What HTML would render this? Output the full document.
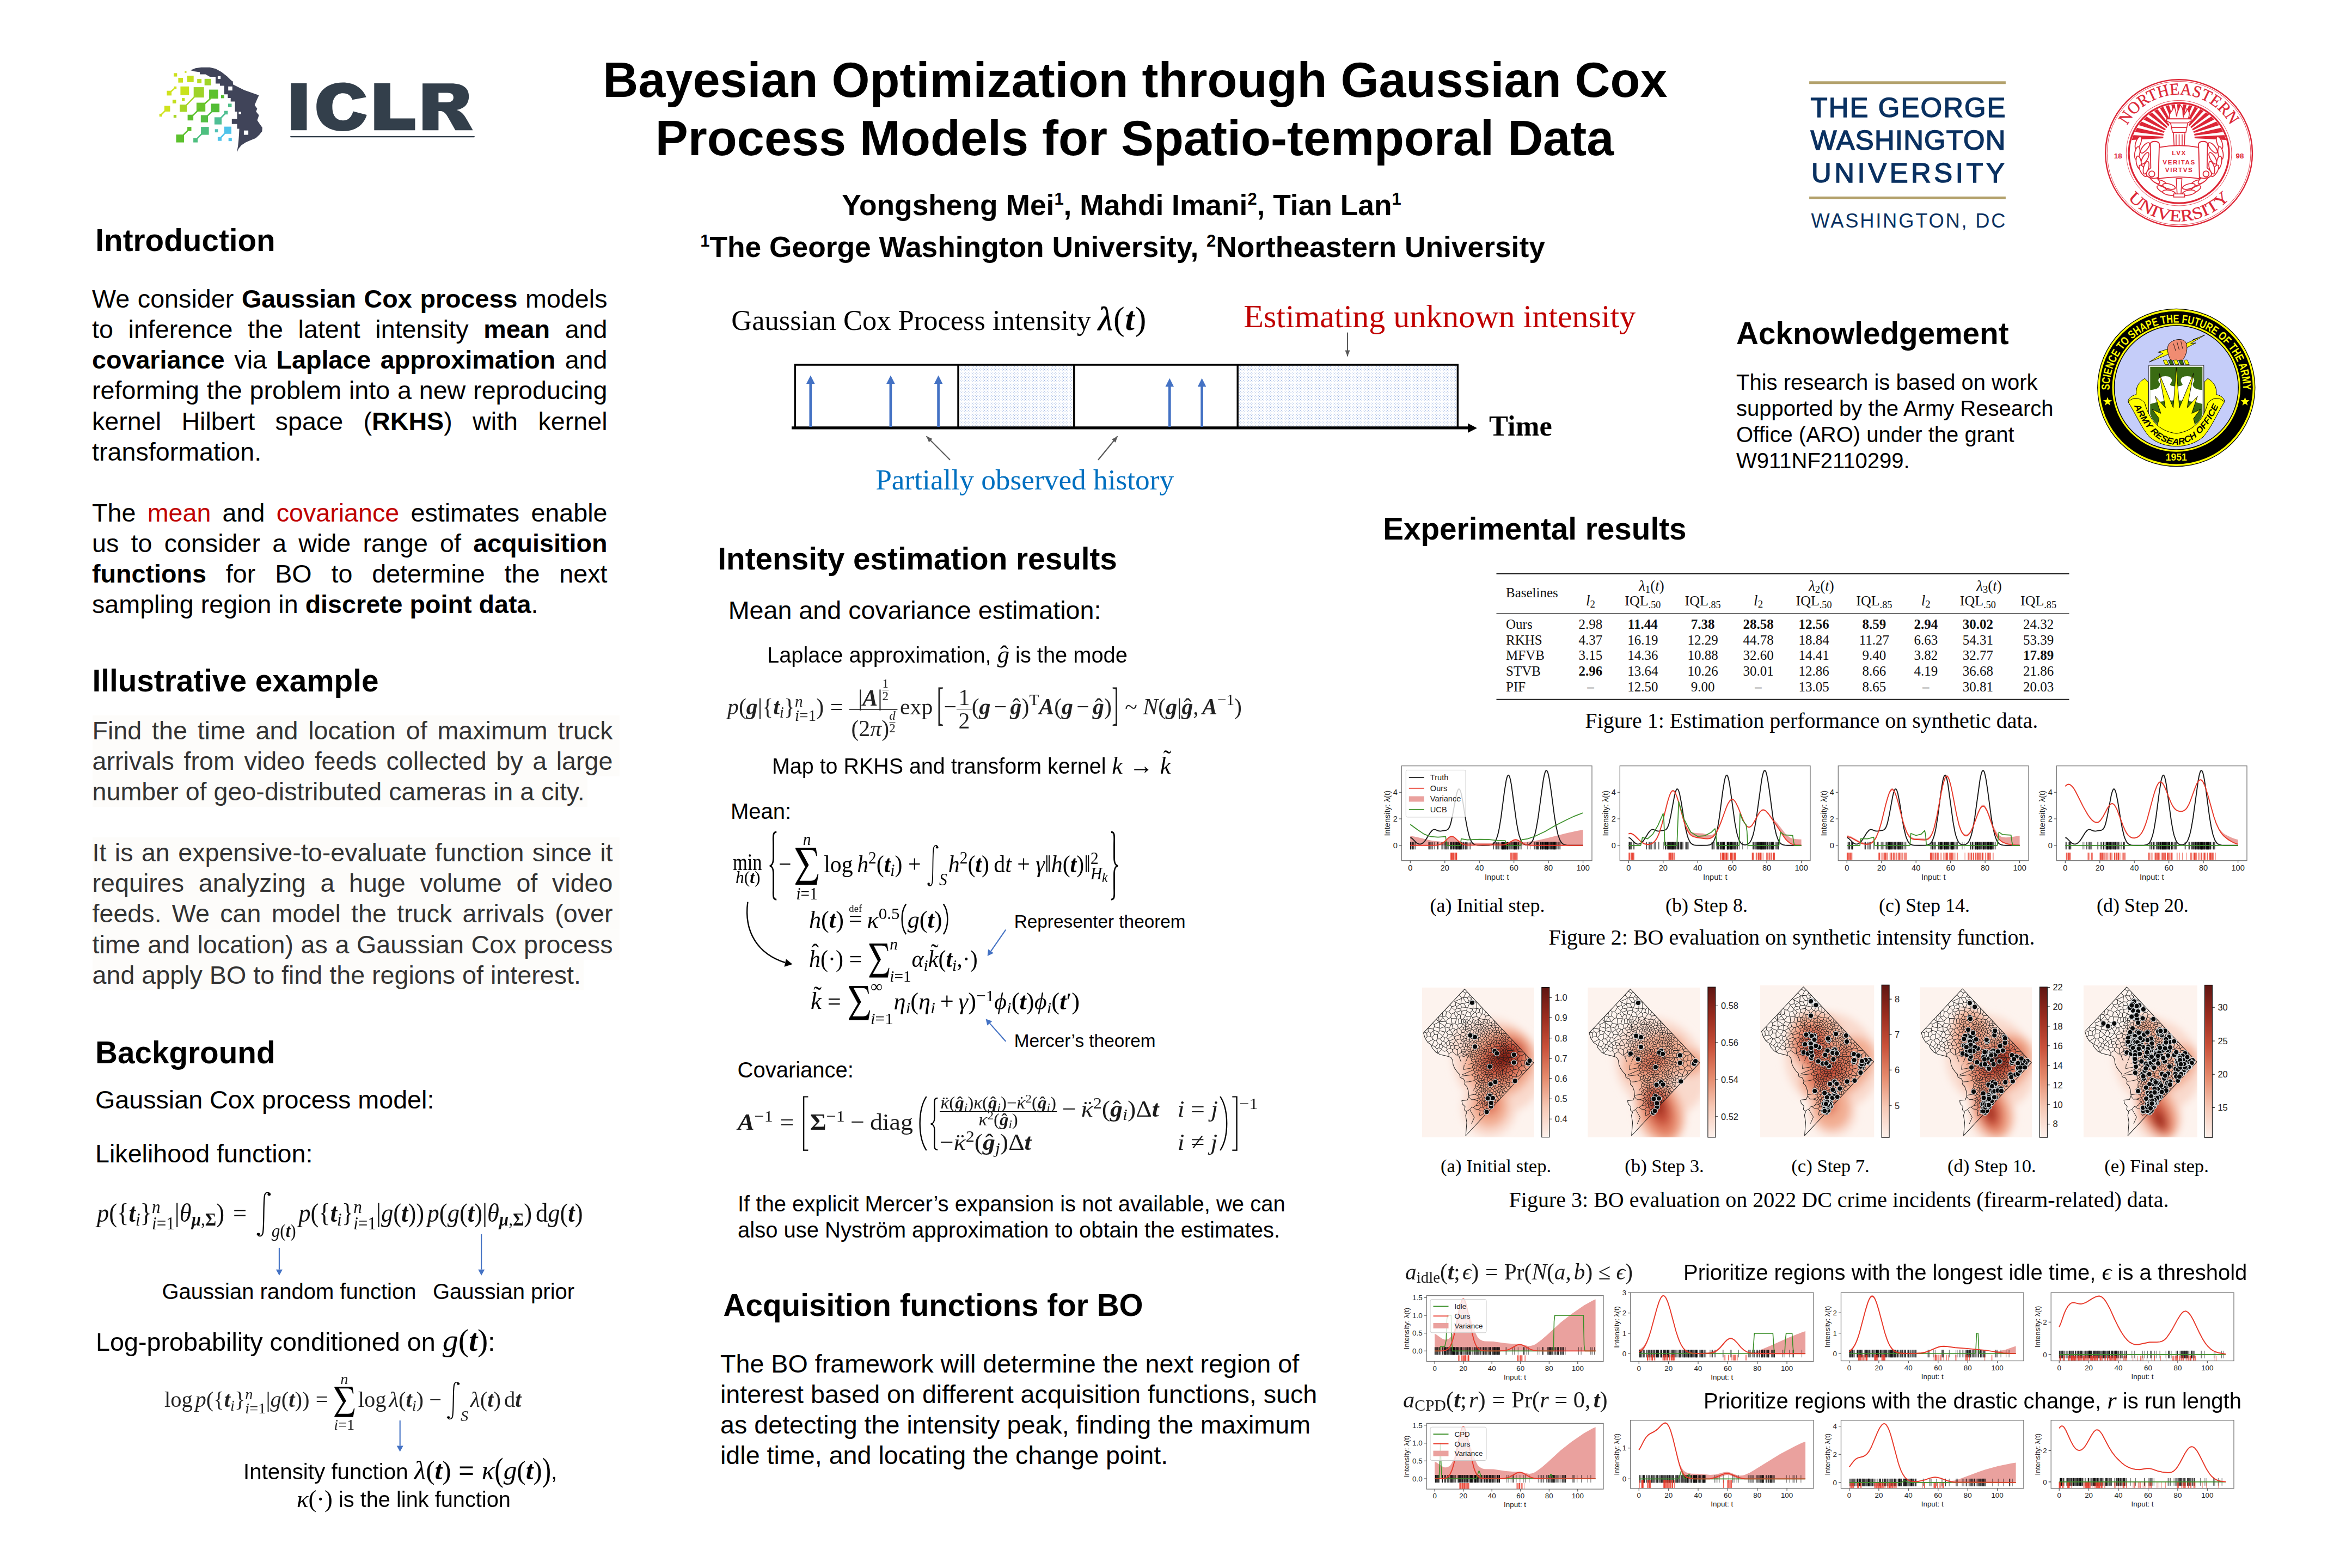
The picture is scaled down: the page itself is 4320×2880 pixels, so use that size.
<!DOCTYPE html>
<html><head><meta charset="utf-8"><title>Bayesian Optimization through Gaussian Cox Process Models for Spatio-temporal Data</title>
<style>
html,body{margin:0;padding:0;background:#fff;}
#p{position:relative;width:4320px;height:2880px;overflow:hidden;background:#fff;font-family:"Liberation Sans",sans-serif;color:#000;}
.t{position:absolute;white-space:nowrap;}
.a{position:absolute;}
svg{position:absolute;overflow:visible;}
b{font-weight:bold;}
.r{color:#c00000;}
.m{font-family:"Liberation Serif",serif;font-style:italic;}
.mb{font-family:"Liberation Serif",serif;font-style:italic;font-weight:bold;}
.mr{font-family:"Liberation Serif",serif;font-style:normal;}
sup,sub{line-height:0;}
.bl{display:inline-block;width:0;height:0;}
svg.il{position:static;display:inline-block;overflow:visible;}
</style></head><body><div id="p">
<div class="t " style="left:885.0px;top:92.8px;font-size:90.00px;line-height:108.00px;font-weight:bold;width:2400.0px;text-align:center;">Bayesian Optimization through Gaussian Cox</div>
<div class="t " style="left:884.0px;top:199.8px;font-size:90.00px;line-height:108.00px;font-weight:bold;width:2400.0px;text-align:center;">Process Models for Spatio-temporal Data</div>
<div class="t " style="left:860.0px;top:345.3px;font-size:53.33px;line-height:64.00px;font-weight:bold;width:2400.0px;text-align:center;">Yongsheng Mei<sup style="font-size:58%;vertical-align:0.62em">1</sup>, Mahdi Imani<sup style="font-size:58%;vertical-align:0.62em">2</sup>, Tian Lan<sup style="font-size:58%;vertical-align:0.62em">1</sup></div>
<div class="t " style="left:862.0px;top:422.0px;font-size:53.33px;line-height:64.00px;font-weight:bold;width:2400.0px;text-align:center;"><sup style="font-size:58%;vertical-align:0.62em">1</sup>The George Washington University, <sup style="font-size:58%;vertical-align:0.62em">2</sup>Northeastern University</div>
<div class="t " style="left:175.3px;top:407.6px;font-size:56.67px;line-height:68.00px;font-weight:bold;">Introduction</div>
<div class="t " style="left:169.0px;top:521.1px;font-size:46.67px;line-height:56.10px;width:946.5px;text-align:justify;text-align-last:justify;">We consider <b>Gaussian Cox process</b> models</div>
<div class="t " style="left:169.0px;top:577.2px;font-size:46.67px;line-height:56.10px;width:946.5px;text-align:justify;text-align-last:justify;">to inference the latent intensity <b>mean</b> and</div>
<div class="t " style="left:169.0px;top:633.3px;font-size:46.67px;line-height:56.10px;width:946.5px;text-align:justify;text-align-last:justify;"><b>covariance</b> via <b>Laplace approximation</b> and</div>
<div class="t " style="left:169.0px;top:689.4px;font-size:46.67px;line-height:56.10px;width:946.5px;text-align:justify;text-align-last:justify;">reforming the problem into a new reproducing</div>
<div class="t " style="left:169.0px;top:745.5px;font-size:46.67px;line-height:56.10px;width:946.5px;text-align:justify;text-align-last:justify;">kernel Hilbert space (<b>RKHS</b>) with kernel</div>
<div class="t " style="left:169.0px;top:801.6px;font-size:46.67px;line-height:56.10px;">transformation.</div>
<div class="t " style="left:169.0px;top:913.8px;font-size:46.67px;line-height:56.10px;width:946.5px;text-align:justify;text-align-last:justify;">The <span class="r">mean</span> and <span class="r">covariance</span> estimates enable</div>
<div class="t " style="left:169.0px;top:969.9px;font-size:46.67px;line-height:56.10px;width:946.5px;text-align:justify;text-align-last:justify;">us to consider a wide range of <b>acquisition</b></div>
<div class="t " style="left:169.0px;top:1026.0px;font-size:46.67px;line-height:56.10px;width:946.5px;text-align:justify;text-align-last:justify;"><b>functions</b> for BO to determine the next</div>
<div class="t " style="left:169.0px;top:1082.1px;font-size:46.67px;line-height:56.10px;">sampling region in <b>discrete point data</b>.</div>
<div class="t " style="left:169.5px;top:1216.6px;font-size:56.67px;line-height:68.00px;font-weight:bold;">Illustrative example</div>
<div class="t " style="left:169.5px;top:1313.8px;font-size:46.67px;line-height:56.10px;color:#333333;width:956.0px;text-align:justify;text-align-last:justify;background:#fdfcfa;padding-right:12px;">Find the time and location of maximum truck</div>
<div class="t " style="left:169.5px;top:1369.9px;font-size:46.67px;line-height:56.10px;color:#333333;width:956.0px;text-align:justify;text-align-last:justify;background:#fdfcfa;padding-right:12px;">arrivals from video feeds collected by a large</div>
<div class="t " style="left:169.5px;top:1426.0px;font-size:46.67px;line-height:56.10px;color:#333333;background:#fdfcfa;padding-right:5px;">number of geo-distributed cameras in a city.</div>
<div class="t " style="left:169.5px;top:1538.2px;font-size:46.67px;line-height:56.10px;color:#333333;width:956.0px;text-align:justify;text-align-last:justify;background:#fdfcfa;padding-right:12px;">It is an expensive-to-evaluate function since it</div>
<div class="t " style="left:169.5px;top:1594.3px;font-size:46.67px;line-height:56.10px;color:#333333;width:956.0px;text-align:justify;text-align-last:justify;background:#fdfcfa;padding-right:12px;">requires analyzing a huge volume of video</div>
<div class="t " style="left:169.5px;top:1650.4px;font-size:46.67px;line-height:56.10px;color:#333333;width:956.0px;text-align:justify;text-align-last:justify;background:#fdfcfa;padding-right:12px;">feeds. We can model the truck arrivals (over</div>
<div class="t " style="left:169.5px;top:1706.5px;font-size:46.67px;line-height:56.10px;color:#333333;width:956.0px;text-align:justify;text-align-last:justify;background:#fdfcfa;padding-right:12px;">time and location) as a Gaussian Cox process</div>
<div class="t " style="left:169.5px;top:1762.6px;font-size:46.67px;line-height:56.10px;color:#333333;background:#fdfcfa;padding-right:5px;">and apply BO to find the regions of interest.</div>
<div class="t " style="left:175.0px;top:1900.4px;font-size:56.67px;line-height:68.00px;font-weight:bold;">Background</div>
<div class="t " style="left:175.0px;top:1992.4px;font-size:46.67px;line-height:56.00px;">Gaussian Cox process model:</div>
<div class="t " style="left:175.0px;top:2091.3px;font-size:46.67px;line-height:56.00px;">Likelihood function:</div>
<div class="t " style="left:297.5px;top:2347.9px;font-size:40.00px;line-height:48.00px;">Gaussian random function</div>
<div class="t " style="left:795.0px;top:2347.9px;font-size:40.00px;line-height:48.00px;">Gaussian prior</div>
<div class="t " style="left:1318.3px;top:993.1px;font-size:56.67px;line-height:68.00px;font-weight:bold;">Intensity estimation results</div>
<div class="t " style="left:1337.7px;top:1092.8px;font-size:46.67px;line-height:56.00px;">Mean and covariance estimation:</div>
<div class="t " style="left:1342.0px;top:1465.5px;font-size:40.00px;line-height:48.00px;">Mean:</div>
<div class="t " style="left:1862.7px;top:1672.5px;font-size:33.33px;line-height:40.00px;">Representer theorem</div>
<div class="t " style="left:1862.7px;top:1892.0px;font-size:33.33px;line-height:40.00px;">Mercer’s theorem</div>
<div class="t " style="left:1354.5px;top:1941.1px;font-size:40.00px;line-height:48.00px;">Covariance:</div>
<div class="t " style="left:1355.0px;top:2187.1px;font-size:40.00px;line-height:48.00px;">If the explicit Mercer’s expansion is not available, we can</div>
<div class="t " style="left:1355.0px;top:2235.4px;font-size:40.00px;line-height:48.00px;">also use Nyström approximation to obtain the estimates.</div>
<div class="t " style="left:1328.5px;top:2363.9px;font-size:56.67px;line-height:68.00px;font-weight:bold;">Acquisition functions for BO</div>
<div class="t " style="left:1323.0px;top:2476.8px;font-size:46.67px;line-height:56.10px;">The BO framework will determine the next region of</div>
<div class="t " style="left:1323.0px;top:2532.9px;font-size:46.67px;line-height:56.10px;">interest based on different acquisition functions, such</div>
<div class="t " style="left:1323.0px;top:2589.0px;font-size:46.67px;line-height:56.10px;">as detecting the intensity peak, finding the maximum</div>
<div class="t " style="left:1323.0px;top:2645.1px;font-size:46.67px;line-height:56.10px;">idle time, and locating the change point.</div>
<div class="t " style="left:3189.0px;top:579.3px;font-size:56.67px;line-height:68.00px;font-weight:bold;">Acknowledgement</div>
<div class="t " style="left:3189.0px;top:677.7px;font-size:40.00px;line-height:48.20px;">This research is based on work</div>
<div class="t " style="left:3189.0px;top:725.9px;font-size:40.00px;line-height:48.20px;">supported by the Army Research</div>
<div class="t " style="left:3189.0px;top:774.1px;font-size:40.00px;line-height:48.20px;">Office (ARO) under the grant</div>
<div class="t " style="left:3189.0px;top:822.3px;font-size:40.00px;line-height:48.20px;">W911NF2110299.</div>
<div class="t " style="left:2540.2px;top:938.4px;font-size:56.67px;line-height:68.00px;font-weight:bold;">Experimental results</div>
<div class="t " style="left:1343.3px;top:553.6px;font-size:52.50px;line-height:63.00px;font-family:'Liberation Serif', serif;">Gaussian Cox Process intensity <span style="font-size:62px;letter-spacing:1px"><span class="mb" style="font-weight:normal;-webkit-text-stroke:0.8px #000">λ</span>(<span class="mb">t</span>)</span></div>
<div class="t " style="left:2284.3px;top:545.0px;font-size:60.00px;line-height:72.00px;font-family:'Liberation Serif', serif;color:#c00000;">Estimating unknown intensity</div>
<div class="t " style="left:1608.2px;top:849.4px;font-size:53.33px;line-height:64.00px;font-family:'Liberation Serif', serif;color:#0070c0;">Partially observed history</div>
<div class="t " style="left:2735.0px;top:751.3px;font-size:52.50px;line-height:63.00px;font-family:'Liberation Serif', serif;font-weight:bold;">Time</div>
<svg style="left:0;top:0" width="4320" height="2880" viewBox="0 0 4320 2880"><defs><pattern id="dots" width="5" height="5" patternUnits="userSpaceOnUse"><rect width="5" height="5" fill="#fff"/><rect x="0.6" y="0.6" width="1.05" height="1.05" fill="#6a8fd6"/><rect x="3.1" y="3.1" width="1.05" height="1.05" fill="#6a8fd6"/></pattern><marker id="ahb" markerWidth="8" markerHeight="8" refX="4" refY="4" orient="auto"><path d="M0,0 L8,4 L0,8 z" fill="#4472c4"/></marker></defs><rect x="1760" y="670" width="213.6" height="115" fill="url(#dots)"/><rect x="2272.5" y="670" width="405" height="115" fill="url(#dots)"/><path d="M1460.3,786 V670 H2677.4 V786 M1760,670 V786 M1972.8,670 V786 M2273.2,670 V786" fill="none" stroke="#000" stroke-width="3.4"/><path d="M1454,785.9 H2700" stroke="#000" stroke-width="5.1" fill="none"/><path d="M2696,777.5 L2713,786.3 L2696,795 z" fill="#000"/><path d="M1488.8,784 V701.5" stroke="#4472c4" stroke-width="4.7" fill="none"/><path d="M1481.0,704.9 L1488.8,689.5 L1496.6,704.9 z" fill="#4472c4"/><path d="M1635.9,784 V701.5" stroke="#4472c4" stroke-width="4.7" fill="none"/><path d="M1628.1000000000001,704.9 L1635.9,689.5 L1643.7,704.9 z" fill="#4472c4"/><path d="M1723.6,784 V701.5" stroke="#4472c4" stroke-width="4.7" fill="none"/><path d="M1715.8,704.9 L1723.6,689.5 L1731.3999999999999,704.9 z" fill="#4472c4"/><path d="M2148.3,784 V706.8" stroke="#4472c4" stroke-width="4.7" fill="none"/><path d="M2140.5,710.1999999999999 L2148.3,694.8 L2156.1000000000004,710.1999999999999 z" fill="#4472c4"/><path d="M2207.6,784 V706.8" stroke="#4472c4" stroke-width="4.7" fill="none"/><path d="M2199.7999999999997,710.1999999999999 L2207.6,694.8 L2215.4,710.1999999999999 z" fill="#4472c4"/><path d="M2475.0,610.7 L2475.0,654.5" stroke="#595959" stroke-width="2.2" fill="none"/><path d="M2475.0,654.5 L2470.5,643.4 L2479.5,643.4 z" fill="#595959"/><path d="M1745.0,844.8 L1701.5,801.3" stroke="#595959" stroke-width="2.2" fill="none"/><path d="M1701.5,801.3 L1712.5,806.0 L1706.2,812.3 z" fill="#595959"/><path d="M2017.0,844.8 L2052.6,801.3" stroke="#595959" stroke-width="2.2" fill="none"/><path d="M2052.6,801.3 L2049.0,812.7 L2042.1,807.1 z" fill="#595959"/></svg>
<div class="t" id="f1" style="left:178.0px;top:2187.9px;font-size:47.5px;font-family:'Liberation Serif', serif;color:#111;transform-origin:0 0;transform:scaleX(0.9380);line-height:1.2"><span class="bl"></span><span class="m">p</span><span class="mr">(</span><span class="mr">{</span><span class="mb">t</span><span style="font-size:70%;vertical-align:-0.22em;line-height:0"><span class="m">i</span></span><span class="mr">}</span><span style="display:inline-block;font-size:70%;vertical-align:-0.42em;line-height:0.9;text-align:left"><span style="display:block"><span class="m">n</span></span><span style="display:block"><span class="m">i</span><span class="mr">=1</span></span></span><span class="mr">|</span><span class="m">θ</span><span style="font-size:70%;vertical-align:-0.22em;line-height:0"><span class="mb">μ</span><span class="mr">,</span><span class="mr" style="font-weight:bold">Σ</span></span><span class="mr">)</span><span style="display:inline-block;width:0.36em"></span><span class="mr">=</span><span style="display:inline-block;width:0.36em"></span><svg class="il" style="width:0.66em;height:1.78em;vertical-align:-0.6em" viewBox="0 0 40 140" preserveAspectRatio="none"><path d="M35,9 C33,1 24,1 22,14 C19,40 21,100 18,126 C16,139 7,139 5,131" stroke="#000" stroke-width="3" fill="none"/><circle cx="33.5" cy="9.5" r="4"/><circle cx="6.5" cy="130.5" r="4"/></svg><span style="font-size:70%;vertical-align:-0.85em;line-height:0"><span class="m">g</span><span class="mr">(</span><span class="mb">t</span><span class="mr">)</span></span><span style="display:inline-block;width:0.1em"></span><span class="m">p</span><span class="mr">(</span><span class="mr">{</span><span class="mb">t</span><span style="font-size:70%;vertical-align:-0.22em;line-height:0"><span class="m">i</span></span><span class="mr">}</span><span style="display:inline-block;font-size:70%;vertical-align:-0.42em;line-height:0.9;text-align:left"><span style="display:block"><span class="m">n</span></span><span style="display:block"><span class="m">i</span><span class="mr">=1</span></span></span><span class="mr">|</span><span class="m">g</span><span class="mr">(</span><span class="mb">t</span><span class="mr">)</span><span class="mr">)</span><span style="display:inline-block;width:0.12em"></span><span class="m">p</span><span class="mr">(</span><span class="m">g</span><span class="mr">(</span><span class="mb">t</span><span class="mr">)</span><span class="mr">|</span><span class="m">θ</span><span style="font-size:70%;vertical-align:-0.22em;line-height:0"><span class="mb">μ</span><span class="mr">,</span><span class="mr" style="font-weight:bold">Σ</span></span><span class="mr">)</span><span style="display:inline-block;width:0.15em"></span><span class="mr">d</span><span class="m">g</span><span class="mr">(</span><span class="mb">t</span><span class="mr">)</span></div>
<div class="t" id="f2" style="left:301.9px;top:2518.5px;font-size:40px;font-family:'Liberation Serif', serif;color:#222;transform-origin:0 0;transform:scaleX(1.0123);line-height:1.2"><span class="bl"></span><span class="mr">log</span><span style="display:inline-block;width:0.12em"></span><span class="m">p</span><span class="mr">(</span><span class="mr">{</span><span class="mb">t</span><span style="font-size:70%;vertical-align:-0.22em;line-height:0"><span class="m">i</span></span><span class="mr">}</span><span style="display:inline-block;font-size:70%;vertical-align:-0.42em;line-height:0.9;text-align:left"><span style="display:block"><span class="m">n</span></span><span style="display:block"><span class="m">i</span><span class="mr">=1</span></span></span><span class="mr">|</span><span class="m">g</span><span class="mr">(</span><span class="mb">t</span><span class="mr">)</span><span class="mr">)</span><span style="display:inline-block;width:0.28em"></span><span class="mr">=</span><span style="display:inline-block;width:0.22em"></span><span style="display:inline-block;text-align:center;vertical-align:middle;line-height:1"><span style="display:block;font-size:70%;line-height:1;margin-bottom:0.0em"><span class="m">n</span></span><span style="display:block;line-height:0"><svg class="il" style="width:1.0230000000000001em;height:1.395em;vertical-align:0em" viewBox="0 0 100 120" preserveAspectRatio="none"><path d="M6,0 H86 L91,27 H87 C84,12 78,7 62,7 H26 L58,56 L22,107 H66 C82,107 88,100 92,86 H96 L89,120 H6 V116 L44,62 L6,4 Z"/></svg></span><span style="display:block;font-size:70%;line-height:1;margin-top:0.02em"><span class="m">i</span><span class="mr">=1</span></span></span><span style="display:inline-block;width:0.12em"></span><span class="mr">log</span><span style="display:inline-block;width:0.12em"></span><span class="m">λ</span><span class="mr">(</span><span class="mb">t</span><span style="font-size:70%;vertical-align:-0.22em;line-height:0"><span class="m">i</span></span><span class="mr">)</span><span style="display:inline-block;width:0.25em"></span><span class="mr">−</span><span style="display:inline-block;width:0.2em"></span><svg class="il" style="width:0.66em;height:1.78em;vertical-align:-0.6em" viewBox="0 0 40 140" preserveAspectRatio="none"><path d="M35,9 C33,1 24,1 22,14 C19,40 21,100 18,126 C16,139 7,139 5,131" stroke="#000" stroke-width="3" fill="none"/><circle cx="33.5" cy="9.5" r="4"/><circle cx="6.5" cy="130.5" r="4"/></svg><span style="font-size:70%;vertical-align:-0.9em;line-height:0"><span class="m">S</span></span><span style="display:inline-block;width:0.1em"></span><span class="m">λ</span><span class="mr">(</span><span class="mb">t</span><span class="mr">)</span><span style="display:inline-block;width:0.15em"></span><span class="mr">d</span><span class="mb">t</span></div>
<div class="t" id="l1" style="left:176.0px;top:2427.2px;font-size:46.67px;color:#000;transform-origin:0 0;transform:scaleX(1.0018);line-height:1.2"><span class="bl"></span>Log-probability conditioned on <span style="font-size:124%"><span class="m">g</span><span class="mr">(</span><span class="mb">t</span><span class="mr">)</span></span>:</div>
<div class="t" id="l2" style="left:447.0px;top:2671.0px;font-size:40px;color:#000;transform-origin:0 0;transform:scaleX(1.0082);line-height:1.2"><span class="bl"></span>Intensity function <span style="font-size:122%"><span class="m">λ</span><span class="mr">(</span><span class="mb">t</span><span class="mr">)</span> = <span class="m">κ</span><span class="mr" style="display:inline-block;transform:scale(1,1.25);transform-origin:50% 58%;vertical-align:0em">(</span><span class="m">g</span><span class="mr">(</span><span class="mb">t</span><span class="mr">)</span><span class="mr" style="display:inline-block;transform:scale(1,1.25);transform-origin:50% 58%;vertical-align:0em">)</span></span>,</div>
<div class="t" id="l3" style="left:544.5px;top:2725.7px;font-size:40px;color:#000;transform-origin:0 0;transform:scaleX(0.9938);line-height:1.2"><span class="bl"></span><span style="font-size:112%"><span class="m">κ</span><span class="mr">(·)</span></span> is the link function</div>
<div class="t" id="l4" style="left:1408.6px;top:1174.6px;font-size:40px;color:#000;transform-origin:0 0;transform:scaleX(0.9952);line-height:1.2"><span class="bl"></span>Laplace approximation, <span style="font-size:112%"><span style="position:relative;display:inline-block"><span class="m">g</span><span class="mr" style="position:absolute;left:0.12em;top:0em;font-size:100%;font-weight:normal">ˆ</span></span></span> is the mode</div>
<div class="t" id="l5" style="left:1417.8px;top:1378.7px;font-size:40px;color:#000;transform-origin:0 0;transform:scaleX(0.9854);line-height:1.2"><span class="bl"></span>Map to RKHS and transform kernel <span style="font-size:112%"><span class="m">k</span> → <span style="position:relative;display:inline-block"><span class="m">k</span><span class="mr" style="position:absolute;left:0.14em;top:-0.27em;font-size:100%;font-weight:normal">˜</span></span></span></div>
<div class="t" id="f3" style="left:1336.0px;top:1245.4px;font-size:42px;font-family:'Liberation Serif', serif;color:#222;transform-origin:0 0;transform:scaleX(0.9950);line-height:1.2"><span class="bl"></span><span class="m">p</span><span class="mr">(</span><span class="mb">g</span><span class="mr">|{</span><span class="mb">t</span><span style="font-size:70%;vertical-align:-0.22em;line-height:0"><span class="m">i</span></span><span class="mr">}</span><span style="display:inline-block;font-size:70%;vertical-align:-0.42em;line-height:0.9;text-align:left"><span style="display:block"><span class="m">n</span></span><span style="display:block"><span class="m">i</span><span class="mr">=1</span></span></span><span class="mr">)</span><span style="display:inline-block;width:0.28em"></span><span class="mr">=</span><span style="display:inline-block;width:0.28em"></span><span style="display:inline-block;text-align:center;vertical-align:middle;font-size:100%;line-height:1.0"><span style="display:block;padding:0 0.08em"><span class="mr">|</span><span class="mb">A</span><span class="mr">|</span><span style="display:inline-block;font-size:55%;vertical-align:0.42em;line-height:0.95;text-align:center"><span style="display:block;border-bottom:0.06em solid #000">1</span><span style="display:block">2</span></span></span><span style="display:block;border-top:0.045em solid #000;padding:0 0.08em"><span class="mr">(2</span><span class="m">π</span><span class="mr">)</span><span style="display:inline-block;font-size:55%;vertical-align:0.32em;line-height:0.95;text-align:center"><span class="m" style="display:block;border-bottom:0.06em solid #000">d</span><span style="display:block">2</span></span></span></span><span style="display:inline-block;width:0.12em"></span><span class="mr">exp</span><span style="display:inline-block;width:0.15em"></span><span class="mr" style="display:inline-block;transform:scale(0.9,2.0);transform-origin:50% 58%;vertical-align:0em">[</span><span class="mr">−</span><span style="display:inline-block;text-align:center;vertical-align:middle;font-size:100%;line-height:1.0"><span style="display:block;padding:0 0.08em"><span class="mr">1</span></span><span style="display:block;border-top:0.045em solid #000;padding:0 0.08em"><span class="mr">2</span></span></span><span class="mr">(</span><span class="mb">g</span><span style="display:inline-block;width:0.15em"></span><span class="mr">−</span><span style="display:inline-block;width:0.15em"></span><span style="position:relative;display:inline-block"><span class="mb">g</span><span class="mr" style="position:absolute;left:0.1em;top:0em;font-size:100%;font-weight:normal">ˆ</span></span><span class="mr">)</span><span style="font-size:70%;vertical-align:0.55em;line-height:0"><span class="mr">T</span></span><span class="mb">A</span><span class="mr">(</span><span class="mb">g</span><span style="display:inline-block;width:0.15em"></span><span class="mr">−</span><span style="display:inline-block;width:0.15em"></span><span style="position:relative;display:inline-block"><span class="mb">g</span><span class="mr" style="position:absolute;left:0.1em;top:0em;font-size:100%;font-weight:normal">ˆ</span></span><span class="mr">)</span><span class="mr" style="display:inline-block;transform:scale(0.9,2.0);transform-origin:50% 58%;vertical-align:0em">]</span><span style="display:inline-block;width:0.25em"></span><span class="mr">~</span><span style="display:inline-block;width:0.25em"></span><span class="m">N</span><span class="mr">(</span><span class="mb">g</span><span class="mr">|</span><span style="position:relative;display:inline-block"><span class="mb">g</span><span class="mr" style="position:absolute;left:0.1em;top:0em;font-size:100%;font-weight:normal">ˆ</span></span><span class="mr">,</span><span style="display:inline-block;width:0.15em"></span><span class="mb">A</span><span style="font-size:70%;vertical-align:0.55em;line-height:0"><span class="mr">−1</span></span><span class="mr">)</span></div>
<div class="t" id="f4m" style="left:1346.3px;top:1558.0px;font-size:44px;font-family:'Liberation Serif', serif;color:#000;transform-origin:0 0;transform:scaleX(0.7830);line-height:1.2"><span class="bl"></span><span class="mr">min</span></div>
<div class="t" id="f4h" style="left:1351.0px;top:1593.4px;font-size:31px;font-family:'Liberation Serif', serif;color:#000;transform-origin:0 0;transform:scaleX(1.0161);line-height:1.2"><span class="bl"></span><span class="m">h</span><span class="mr">(</span><span class="mb">t</span><span class="mr">)</span></div>
<svg style="left:1411.0px;top:1526.5px" width="19.0" height="126.5" viewBox="0 0 20 100" preserveAspectRatio="none"><path d="M16,1 C8,1 10,8 10,20 V38 C10,46 8,49.2 3,50 C8,50.8 10,54 10,62 V80 C10,92 8,99 16,99" stroke="#000" stroke-width="2.8" fill="none" vector-effect="non-scaling-stroke"/></svg>
<svg style="left:2037.0px;top:1526.5px" width="19.0" height="126.5" viewBox="0 0 20 100" preserveAspectRatio="none"><path d="M4,1 C12,1 10,8 10,20 V38 C10,46 12,49.2 17,50 C12,50.8 10,54 10,62 V80 C10,92 12,99 4,99" stroke="#000" stroke-width="2.8" fill="none" vector-effect="non-scaling-stroke"/></svg>
<div class="t" id="f4" style="left:1429.5px;top:1525.8px;font-size:44.5px;font-family:'Liberation Serif', serif;color:#000;transform-origin:0 0;transform:scaleX(0.9409);line-height:1.2"><span class="bl"></span><span class="mr">−</span><span style="display:inline-block;width:0.12em"></span><span style="display:inline-block;text-align:center;vertical-align:middle;line-height:1"><span style="display:block;font-size:70%;line-height:1;margin-bottom:0.0em"><span class="m">n</span></span><span style="display:block;line-height:0"><svg class="il" style="width:1.122em;height:1.53em;vertical-align:0em" viewBox="0 0 100 120" preserveAspectRatio="none"><path d="M6,0 H86 L91,27 H87 C84,12 78,7 62,7 H26 L58,56 L22,107 H66 C82,107 88,100 92,86 H96 L89,120 H6 V116 L44,62 L6,4 Z"/></svg></span><span style="display:block;font-size:70%;line-height:1;margin-top:0.02em"><span class="m">i</span><span class="mr">=1</span></span></span><span style="display:inline-block;width:0.18em"></span><span class="mr">log</span><span style="display:inline-block;width:0.18em"></span><span class="m">h</span><span style="font-size:70%;vertical-align:0.5em;line-height:0"><span class="mr">2</span></span><span class="mr">(</span><span class="mb">t</span><span style="font-size:70%;vertical-align:-0.22em;line-height:0"><span class="m">i</span></span><span class="mr">)</span><span style="display:inline-block;width:0.25em"></span><span class="mr">+</span><span style="display:inline-block;width:0.25em"></span><svg class="il" style="width:0.55em;height:1.75em;vertical-align:-0.62em" viewBox="0 0 40 140" preserveAspectRatio="none"><path d="M35,9 C33,1 24,1 22,14 C19,40 21,100 18,126 C16,139 7,139 5,131" stroke="#000" stroke-width="3" fill="none"/><circle cx="33.5" cy="9.5" r="4"/><circle cx="6.5" cy="130.5" r="4"/></svg><span style="font-size:70%;vertical-align:-0.78em;line-height:0"><span class="m">S</span></span><span style="display:inline-block;width:0.05em"></span><span class="m">h</span><span style="font-size:70%;vertical-align:0.5em;line-height:0"><span class="mr">2</span></span><span class="mr">(</span><span class="mb">t</span><span class="mr">)</span><span style="display:inline-block;width:0.2em"></span><span class="mr">d</span><span class="m">t</span><span style="display:inline-block;width:0.25em"></span><span class="mr">+</span><span style="display:inline-block;width:0.25em"></span><span class="m">γ</span><span class="mr">‖</span><span class="m">h</span><span class="mr">(</span><span class="mb">t</span><span class="mr">)</span><span class="mr">‖</span><span style="display:inline-block;font-size:70%;vertical-align:-0.42em;line-height:0.9;text-align:left"><span style="display:block"><span class="mr">2</span></span><span style="display:block"><span class="m">H</span><span style="font-size:80%;vertical-align:-0.2em;line-height:0"><span class="m">k</span></span></span></span></div>
<div class="t" id="f5" style="left:1485.6px;top:1659.5px;font-size:43.5px;font-family:'Liberation Serif', serif;color:#000;transform-origin:0 0;transform:scaleX(1.0171);line-height:1.2"><span class="bl"></span><span class="m">h</span><span class="mr">(</span><span class="mb">t</span><span class="mr">)</span><span style="display:inline-block;width:0.2em"></span><span style="display:inline-block;text-align:center;line-height:0.5;vertical-align:0.02em"><span class="mr" style="display:block;font-size:42%;line-height:1">def</span><span class="mr" style="display:block;line-height:0.42">=</span></span><span style="display:inline-block;width:0.2em"></span><span class="m">κ</span><span style="font-size:70%;vertical-align:0.5em;line-height:0"><span class="mr">0.5</span></span><svg class="il" style="width:0.32em;height:1.3em;vertical-align:-0.3em" viewBox="0 0 20 100" preserveAspectRatio="none"><path d="M16,1 C2,25 2,75 16,99" stroke="#000" stroke-width="2.4" fill="none" vector-effect="non-scaling-stroke"/></svg><span class="m">g</span><span class="mr">(</span><span class="mb">t</span><span class="mr">)</span><svg class="il" style="width:0.32em;height:1.3em;vertical-align:-0.3em" viewBox="0 0 20 100" preserveAspectRatio="none"><path d="M4,1 C18,25 18,75 4,99" stroke="#000" stroke-width="2.4" fill="none" vector-effect="non-scaling-stroke"/></svg></div>
<div class="t" id="f6" style="left:1485.6px;top:1705.0px;font-size:43.5px;font-family:'Liberation Serif', serif;color:#000;transform-origin:0 0;transform:scaleX(0.9654);line-height:1.2"><span class="bl"></span><span style="position:relative;display:inline-block"><span class="m">h</span><span class="mr" style="position:absolute;left:0.1em;top:-0.27em;font-size:100%;font-weight:normal">ˆ</span></span><span class="mr">(·)</span><span style="display:inline-block;width:0.25em"></span><span class="mr">=</span><span style="display:inline-block;width:0.25em"></span><svg class="il" style="width:0.9800000000000001em;height:1.4349999999999998em;vertical-align:-0.45em" viewBox="0 0 100 120" preserveAspectRatio="none"><path d="M6,0 H86 L91,27 H87 C84,12 78,7 62,7 H26 L58,56 L22,107 H66 C82,107 88,100 92,86 H96 L89,120 H6 V116 L44,62 L6,4 Z"/></svg><span style="display:inline-block;font-size:70%;vertical-align:-0.9em;line-height:1.95;text-align:left;margin-left:-0.02em"><span style="display:block"><span class="m">n</span></span><span style="display:block"><span class="m">i</span><span class="mr">=1</span></span></span><span style="display:inline-block;width:0.02em"></span><span class="m">α</span><span style="font-size:70%;vertical-align:-0.22em;line-height:0"><span class="m">i</span></span><span style="position:relative;display:inline-block"><span class="m">k</span><span class="mr" style="position:absolute;left:0.12em;top:-0.27em;font-size:100%;font-weight:normal">˜</span></span><span class="mr">(</span><span class="mb">t</span><span style="font-size:70%;vertical-align:-0.22em;line-height:0"><span class="m">i</span></span><span class="mr">,·)</span></div>
<div class="t" id="f7" style="left:1489.0px;top:1782.5px;font-size:43.5px;font-family:'Liberation Serif', serif;color:#000;transform-origin:0 0;transform:scaleX(1.0215);line-height:1.2"><span class="bl"></span><span style="position:relative;display:inline-block"><span class="m">k</span><span class="mr" style="position:absolute;left:0.12em;top:-0.27em;font-size:100%;font-weight:normal">˜</span></span><span style="display:inline-block;width:0.25em"></span><span class="mr">=</span><span style="display:inline-block;width:0.25em"></span><svg class="il" style="width:0.9800000000000001em;height:1.4349999999999998em;vertical-align:-0.45em" viewBox="0 0 100 120" preserveAspectRatio="none"><path d="M6,0 H86 L91,27 H87 C84,12 78,7 62,7 H26 L58,56 L22,107 H66 C82,107 88,100 92,86 H96 L89,120 H6 V116 L44,62 L6,4 Z"/></svg><span style="display:inline-block;font-size:70%;vertical-align:-0.9em;line-height:1.95;text-align:left;margin-left:-0.02em"><span style="display:block"><span class="mr">∞</span></span><span style="display:block"><span class="m">i</span><span class="mr">=1</span></span></span><span style="display:inline-block;width:0.02em"></span><span class="m">η</span><span style="font-size:70%;vertical-align:-0.22em;line-height:0"><span class="m">i</span></span><span class="mr">(</span><span class="m">η</span><span style="font-size:70%;vertical-align:-0.22em;line-height:0"><span class="m">i</span></span><span style="display:inline-block;width:0.2em"></span><span class="mr">+</span><span style="display:inline-block;width:0.2em"></span><span class="m">γ</span><span class="mr">)</span><span style="font-size:70%;vertical-align:0.5em;line-height:0"><span class="mr">−1</span></span><span class="m">ϕ</span><span style="font-size:70%;vertical-align:-0.22em;line-height:0"><span class="m">i</span></span><span class="mr">(</span><span class="mb">t</span><span class="mr">)</span><span class="m">ϕ</span><span style="font-size:70%;vertical-align:-0.22em;line-height:0"><span class="m">i</span></span><span class="mr">(</span><span class="mb">t</span><span class="mr">′)</span></div>
<div class="t" id="f8" style="left:1355.0px;top:2006.2px;font-size:43px;font-family:'Liberation Serif', serif;color:#1a1a1a;transform-origin:0 0;transform:scaleX(1.0660);line-height:1.2"><span class="bl"></span><span class="mb">A</span><span style="font-size:70%;vertical-align:0.5em;line-height:0"><span class="mr">−1</span></span><span style="display:inline-block;width:0.28em"></span><span class="mr">=</span><span style="display:inline-block;width:0.28em"></span><svg class="il" style="width:0.36em;height:2.35em;vertical-align:-0.92em" viewBox="0 0 20 100" preserveAspectRatio="none"><path d="M16,1.5 H6 V98.5 H16" stroke="#000" stroke-width="2.2" fill="none" vector-effect="non-scaling-stroke"/></svg><span class="mr" style="font-weight:bold">Σ</span><span style="font-size:70%;vertical-align:0.5em;line-height:0"><span class="mr">−1</span></span><span style="display:inline-block;width:0.22em"></span><span class="mr">−</span><span style="display:inline-block;width:0.22em"></span><span class="mr">diag</span><span style="display:inline-block;width:0.15em"></span><svg class="il" style="width:0.5em;height:2.35em;vertical-align:-0.92em" viewBox="0 0 20 100" preserveAspectRatio="none"><path d="M16,1 C2,25 2,75 16,99" stroke="#000" stroke-width="2.2" fill="none" vector-effect="non-scaling-stroke"/></svg><svg class="il" style="width:0.42em;height:2.25em;vertical-align:-0.87em" viewBox="0 0 20 100" preserveAspectRatio="none"><path d="M16,1 C8,1 10,8 10,20 V38 C10,46 8,49.2 3,50 C8,50.8 10,54 10,62 V80 C10,92 8,99 16,99" stroke="#000" stroke-width="2.2" fill="none" vector-effect="non-scaling-stroke"/></svg><span style="display:inline-table;vertical-align:middle;line-height:1.0;border-spacing:0 0.12em"><span style="display:table-row"><span style="display:table-cell;text-align:left;padding-right:0.75em;height:1.0em"><span style="display:inline-block;text-align:center;vertical-align:middle;font-size:72%;line-height:0.95"><span style="display:block;padding:0 0.05em"><span style="position:relative;display:inline-block"><span class="m">κ</span><span class="mr" style="position:absolute;left:0.1em;top:0em;font-size:100%;font-weight:normal">¨</span></span><span class="mr">(</span><span style="position:relative;display:inline-block"><span class="mb">g</span><span class="mr" style="position:absolute;left:0.1em;top:0em;font-size:100%;font-weight:normal">ˆ</span></span><span style="font-size:70%;vertical-align:-0.22em;line-height:0"><span class="m">i</span></span><span class="mr">)</span><span class="m">κ</span><span class="mr">(</span><span style="position:relative;display:inline-block"><span class="mb">g</span><span class="mr" style="position:absolute;left:0.1em;top:0em;font-size:100%;font-weight:normal">ˆ</span></span><span style="font-size:70%;vertical-align:-0.22em;line-height:0"><span class="m">i</span></span><span class="mr">)−</span><span style="position:relative;display:inline-block"><span class="m">κ</span><span class="mr" style="position:absolute;left:0.1em;top:0em;font-size:100%;font-weight:normal">˙</span></span><span style="font-size:70%;vertical-align:0.5em;line-height:0"><span class="mr">2</span></span><span class="mr">(</span><span style="position:relative;display:inline-block"><span class="mb">g</span><span class="mr" style="position:absolute;left:0.1em;top:0em;font-size:100%;font-weight:normal">ˆ</span></span><span style="font-size:70%;vertical-align:-0.22em;line-height:0"><span class="m">i</span></span><span class="mr">)</span></span><span style="display:block;border-top:0.045em solid #000;padding:0 0.05em"><span class="m">κ</span><span style="font-size:70%;vertical-align:0.5em;line-height:0"><span class="mr">2</span></span><span class="mr">(</span><span style="position:relative;display:inline-block"><span class="mb">g</span><span class="mr" style="position:absolute;left:0.1em;top:0em;font-size:100%;font-weight:normal">ˆ</span></span><span style="font-size:70%;vertical-align:-0.22em;line-height:0"><span class="m">i</span></span><span class="mr">)</span></span></span><span style="display:inline-block;width:0.2em"></span><span class="mr">−</span><span style="display:inline-block;width:0.2em"></span><span style="position:relative;display:inline-block"><span class="m">κ</span><span class="mr" style="position:absolute;left:0.1em;top:0em;font-size:100%;font-weight:normal">¨</span></span><span style="font-size:70%;vertical-align:0.5em;line-height:0"><span class="mr">2</span></span><span class="mr">(</span><span style="position:relative;display:inline-block"><span class="mb">g</span><span class="mr" style="position:absolute;left:0.1em;top:0em;font-size:100%;font-weight:normal">ˆ</span></span><span style="font-size:70%;vertical-align:-0.22em;line-height:0"><span class="m">i</span></span><span class="mr">)Δ</span><span class="mb">t</span></span><span style="display:table-cell;text-align:left"><span class="m">i</span> = <span class="m">j</span></span></span><span style="display:table-row"><span style="display:table-cell;text-align:left;padding-right:0.75em;height:1.0em"><span class="mr">−</span><span style="position:relative;display:inline-block"><span class="m">κ</span><span class="mr" style="position:absolute;left:0.1em;top:0em;font-size:100%;font-weight:normal">¨</span></span><span style="font-size:70%;vertical-align:0.5em;line-height:0"><span class="mr">2</span></span><span class="mr">(</span><span style="position:relative;display:inline-block"><span class="mb">g</span><span class="mr" style="position:absolute;left:0.1em;top:0em;font-size:100%;font-weight:normal">ˆ</span></span><span style="font-size:70%;vertical-align:-0.22em;line-height:0"><span class="m">j</span></span><span class="mr">)Δ</span><span class="mb">t</span></span><span style="display:table-cell;text-align:left"><span class="m">i</span> ≠ <span class="m">j</span></span></span></span><svg class="il" style="width:0.5em;height:2.35em;vertical-align:-0.92em" viewBox="0 0 20 100" preserveAspectRatio="none"><path d="M4,1 C18,25 18,75 4,99" stroke="#000" stroke-width="2.2" fill="none" vector-effect="non-scaling-stroke"/></svg><svg class="il" style="width:0.36em;height:2.35em;vertical-align:-0.92em" viewBox="0 0 20 100" preserveAspectRatio="none"><path d="M4,1.5 H14 V98.5 H4" stroke="#000" stroke-width="2.2" fill="none" vector-effect="non-scaling-stroke"/></svg><span style="font-size:70%;vertical-align:1.25em;line-height:0"><span class="mr">−1</span></span></div>
<div class="t" id="f9" style="left:2581.0px;top:2311.0px;font-size:42px;font-family:'Liberation Serif', serif;color:#1a1a1a;transform-origin:0 0;transform:scaleX(0.9845);line-height:1.2"><span class="bl"></span><span class="m">a</span><span style="font-size:70%;vertical-align:-0.22em;line-height:0"><span class="mr">idle</span></span><span class="mr">(</span><span class="mb">t</span><span class="mr">;</span><span style="display:inline-block;width:0.1em"></span><span class="m">ϵ</span><span class="mr">)</span><span style="display:inline-block;width:0.28em"></span><span class="mr">=</span><span style="display:inline-block;width:0.28em"></span><span class="mr">Pr(</span><span class="m">N</span><span class="mr">(</span><span class="m">a</span><span class="mr">,</span><span style="display:inline-block;width:0.12em"></span><span class="m">b</span><span class="mr">)</span><span style="display:inline-block;width:0.25em"></span><span class="mr">≤</span><span style="display:inline-block;width:0.25em"></span><span class="m">ϵ</span><span class="mr">)</span></div>
<div class="t" id="f10" style="left:2577.0px;top:2546.3px;font-size:42px;font-family:'Liberation Serif', serif;color:#1a1a1a;transform-origin:0 0;transform:scaleX(1.0103);line-height:1.2"><span class="bl"></span><span class="m">a</span><span style="font-size:70%;vertical-align:-0.22em;line-height:0"><span class="mr">CPD</span></span><span class="mr">(</span><span class="mb">t</span><span class="mr">;</span><span style="display:inline-block;width:0.1em"></span><span class="m">r</span><span class="mr">)</span><span style="display:inline-block;width:0.28em"></span><span class="mr">=</span><span style="display:inline-block;width:0.28em"></span><span class="mr">Pr(</span><span class="m">r</span><span style="display:inline-block;width:0.25em"></span><span class="mr">=</span><span style="display:inline-block;width:0.25em"></span><span class="mr">0,</span><span style="display:inline-block;width:0.12em"></span><span class="mb">t</span><span class="mr">)</span></div>
<div class="t" id="l6" style="left:3092.0px;top:2309.0px;font-size:40px;color:#000;transform-origin:0 0;transform:scaleX(0.9990);line-height:1.2"><span class="bl"></span>Prioritize regions with the longest idle time, <span style="font-size:112%"><span class="m">ϵ</span></span> is a threshold</div>
<div class="t" id="l7" style="left:3129.0px;top:2545.0px;font-size:40px;color:#000;transform-origin:0 0;transform:scaleX(1.0012);line-height:1.2"><span class="bl"></span>Prioritize regions with the drastic change, <span style="font-size:112%"><span class="m">r</span></span> is run length</div>
<svg style="left:0;top:0" width="4320" height="2880" viewBox="0 0 4320 2880"><path d="M512.9,2291.9 L512.9,2331.7" stroke="#4472c4" stroke-width="2.1" fill="none"/><path d="M512.9,2342.7 L506.9,2331.7 L518.9,2331.7 z" fill="#4472c4"/><path d="M884.2,2267.0 L884.2,2331.7" stroke="#4472c4" stroke-width="2.1" fill="none"/><path d="M884.2,2342.7 L878.2,2331.7 L890.2,2331.7 z" fill="#4472c4"/><path d="M734.7,2609.0 L734.7,2655.6" stroke="#4472c4" stroke-width="2.1" fill="none"/><path d="M734.7,2666.6 L728.7,2655.6 L740.7,2655.6 z" fill="#4472c4"/><path d="M1847.3,1707.7 L1820.0,1747.1" stroke="#4472c4" stroke-width="2.1" fill="none"/><path d="M1813.7,1756.1 L1815.0,1743.6 L1824.9,1750.5 z" fill="#4472c4"/><path d="M1847.3,1912.8 L1817.9,1879.6" stroke="#4472c4" stroke-width="2.1" fill="none"/><path d="M1810.6,1871.4 L1822.4,1875.7 L1813.4,1883.6 z" fill="#4472c4"/><path d="M1373.4,1656.6 C1366,1712 1392,1752 1442,1768" stroke="#000" stroke-width="2.4" fill="none"/><path d="M1455.5,1771 L1440.5,1775.8 L1443.8,1761.5 z" fill="#000"/></svg>
<svg style="left:0;top:0" width="4320" height="2880" viewBox="0 0 4320 2880"><path d="M2748.5,1053.9 H3800.5 M2748.5,1284.7 H3800.5" stroke="#111" stroke-width="1.8"/><path d="M2748.5,1126.7 H3800.5" stroke="#111" stroke-width="1.1"/></svg>
<div class="t " style="left:2766.0px;top:1073.9px;font-size:25.00px;line-height:30.00px;font-family:'Liberation Serif', serif;color:#111;">Baselines</div>
<div class="t " style="left:2933.5px;top:1059.5px;font-size:27.00px;line-height:32.40px;font-family:'Liberation Serif', serif;color:#111;width:200.0px;text-align:center;"><span class="m">λ</span><span style="font-size:70%;vertical-align:-0.2em;line-height:0"><span class="mr">1</span></span><span class="mr">(</span><span class="m">t</span><span class="mr">)</span></div>
<div class="t " style="left:3245.5px;top:1059.5px;font-size:27.00px;line-height:32.40px;font-family:'Liberation Serif', serif;color:#111;width:200.0px;text-align:center;"><span class="m">λ</span><span style="font-size:70%;vertical-align:-0.2em;line-height:0"><span class="mr">2</span></span><span class="mr">(</span><span class="m">t</span><span class="mr">)</span></div>
<div class="t " style="left:3553.5px;top:1059.5px;font-size:27.00px;line-height:32.40px;font-family:'Liberation Serif', serif;color:#111;width:200.0px;text-align:center;"><span class="m">λ</span><span style="font-size:70%;vertical-align:-0.2em;line-height:0"><span class="mr">3</span></span><span class="mr">(</span><span class="m">t</span><span class="mr">)</span></div>
<div class="t " style="left:2821.4px;top:1087.3px;font-size:27.00px;line-height:32.40px;font-family:'Liberation Serif', serif;color:#111;width:200.0px;text-align:center;"><span class="m">l</span><span style="font-size:70%;vertical-align:-0.2em;line-height:0"><span class="mr">2</span></span></div>
<div class="t " style="left:2917.3px;top:1088.2px;font-size:26.00px;line-height:31.20px;font-family:'Liberation Serif', serif;color:#111;width:200.0px;text-align:center;"><span class="mr">IQL</span><span style="font-size:70%;vertical-align:-0.25em;line-height:0"><span class="mr">.50</span></span></div>
<div class="t " style="left:3027.6px;top:1088.2px;font-size:26.00px;line-height:31.20px;font-family:'Liberation Serif', serif;color:#111;width:200.0px;text-align:center;"><span class="mr">IQL</span><span style="font-size:70%;vertical-align:-0.25em;line-height:0"><span class="mr">.85</span></span></div>
<div class="t " style="left:3129.6px;top:1087.3px;font-size:27.00px;line-height:32.40px;font-family:'Liberation Serif', serif;color:#111;width:200.0px;text-align:center;"><span class="m">l</span><span style="font-size:70%;vertical-align:-0.2em;line-height:0"><span class="mr">2</span></span></div>
<div class="t " style="left:3231.5px;top:1088.2px;font-size:26.00px;line-height:31.20px;font-family:'Liberation Serif', serif;color:#111;width:200.0px;text-align:center;"><span class="mr">IQL</span><span style="font-size:70%;vertical-align:-0.25em;line-height:0"><span class="mr">.50</span></span></div>
<div class="t " style="left:3342.3px;top:1088.2px;font-size:26.00px;line-height:31.20px;font-family:'Liberation Serif', serif;color:#111;width:200.0px;text-align:center;"><span class="mr">IQL</span><span style="font-size:70%;vertical-align:-0.25em;line-height:0"><span class="mr">.85</span></span></div>
<div class="t " style="left:3437.3px;top:1087.3px;font-size:27.00px;line-height:32.40px;font-family:'Liberation Serif', serif;color:#111;width:200.0px;text-align:center;"><span class="m">l</span><span style="font-size:70%;vertical-align:-0.2em;line-height:0"><span class="mr">2</span></span></div>
<div class="t " style="left:3532.8px;top:1088.2px;font-size:26.00px;line-height:31.20px;font-family:'Liberation Serif', serif;color:#111;width:200.0px;text-align:center;"><span class="mr">IQL</span><span style="font-size:70%;vertical-align:-0.25em;line-height:0"><span class="mr">.50</span></span></div>
<div class="t " style="left:3644.0px;top:1088.2px;font-size:26.00px;line-height:31.20px;font-family:'Liberation Serif', serif;color:#111;width:200.0px;text-align:center;"><span class="mr">IQL</span><span style="font-size:70%;vertical-align:-0.25em;line-height:0"><span class="mr">.85</span></span></div>
<div class="t " style="left:2766.0px;top:1131.9px;font-size:25.00px;line-height:30.00px;font-family:'Liberation Serif', serif;color:#111;">Ours</div>
<div class="t " style="left:2821.4px;top:1131.9px;font-size:25.00px;line-height:30.00px;font-family:'Liberation Serif', serif;color:#111;width:200.0px;text-align:center;">2.98</div>
<div class="t " style="left:2917.3px;top:1131.9px;font-size:25.00px;line-height:30.00px;font-family:'Liberation Serif', serif;font-weight:bold;color:#111;width:200.0px;text-align:center;">11.44</div>
<div class="t " style="left:3027.6px;top:1131.9px;font-size:25.00px;line-height:30.00px;font-family:'Liberation Serif', serif;font-weight:bold;color:#111;width:200.0px;text-align:center;">7.38</div>
<div class="t " style="left:3129.6px;top:1131.9px;font-size:25.00px;line-height:30.00px;font-family:'Liberation Serif', serif;font-weight:bold;color:#111;width:200.0px;text-align:center;">28.58</div>
<div class="t " style="left:3231.5px;top:1131.9px;font-size:25.00px;line-height:30.00px;font-family:'Liberation Serif', serif;font-weight:bold;color:#111;width:200.0px;text-align:center;">12.56</div>
<div class="t " style="left:3342.3px;top:1131.9px;font-size:25.00px;line-height:30.00px;font-family:'Liberation Serif', serif;font-weight:bold;color:#111;width:200.0px;text-align:center;">8.59</div>
<div class="t " style="left:3437.3px;top:1131.9px;font-size:25.00px;line-height:30.00px;font-family:'Liberation Serif', serif;font-weight:bold;color:#111;width:200.0px;text-align:center;">2.94</div>
<div class="t " style="left:3532.8px;top:1131.9px;font-size:25.00px;line-height:30.00px;font-family:'Liberation Serif', serif;font-weight:bold;color:#111;width:200.0px;text-align:center;">30.02</div>
<div class="t " style="left:3644.0px;top:1131.9px;font-size:25.00px;line-height:30.00px;font-family:'Liberation Serif', serif;color:#111;width:200.0px;text-align:center;">24.32</div>
<div class="t " style="left:2766.0px;top:1160.6px;font-size:25.00px;line-height:30.00px;font-family:'Liberation Serif', serif;color:#111;">RKHS</div>
<div class="t " style="left:2821.4px;top:1160.6px;font-size:25.00px;line-height:30.00px;font-family:'Liberation Serif', serif;color:#111;width:200.0px;text-align:center;">4.37</div>
<div class="t " style="left:2917.3px;top:1160.6px;font-size:25.00px;line-height:30.00px;font-family:'Liberation Serif', serif;color:#111;width:200.0px;text-align:center;">16.19</div>
<div class="t " style="left:3027.6px;top:1160.6px;font-size:25.00px;line-height:30.00px;font-family:'Liberation Serif', serif;color:#111;width:200.0px;text-align:center;">12.29</div>
<div class="t " style="left:3129.6px;top:1160.6px;font-size:25.00px;line-height:30.00px;font-family:'Liberation Serif', serif;color:#111;width:200.0px;text-align:center;">44.78</div>
<div class="t " style="left:3231.5px;top:1160.6px;font-size:25.00px;line-height:30.00px;font-family:'Liberation Serif', serif;color:#111;width:200.0px;text-align:center;">18.84</div>
<div class="t " style="left:3342.3px;top:1160.6px;font-size:25.00px;line-height:30.00px;font-family:'Liberation Serif', serif;color:#111;width:200.0px;text-align:center;">11.27</div>
<div class="t " style="left:3437.3px;top:1160.6px;font-size:25.00px;line-height:30.00px;font-family:'Liberation Serif', serif;color:#111;width:200.0px;text-align:center;">6.63</div>
<div class="t " style="left:3532.8px;top:1160.6px;font-size:25.00px;line-height:30.00px;font-family:'Liberation Serif', serif;color:#111;width:200.0px;text-align:center;">54.31</div>
<div class="t " style="left:3644.0px;top:1160.6px;font-size:25.00px;line-height:30.00px;font-family:'Liberation Serif', serif;color:#111;width:200.0px;text-align:center;">53.39</div>
<div class="t " style="left:2766.0px;top:1189.3px;font-size:25.00px;line-height:30.00px;font-family:'Liberation Serif', serif;color:#111;">MFVB</div>
<div class="t " style="left:2821.4px;top:1189.3px;font-size:25.00px;line-height:30.00px;font-family:'Liberation Serif', serif;color:#111;width:200.0px;text-align:center;">3.15</div>
<div class="t " style="left:2917.3px;top:1189.3px;font-size:25.00px;line-height:30.00px;font-family:'Liberation Serif', serif;color:#111;width:200.0px;text-align:center;">14.36</div>
<div class="t " style="left:3027.6px;top:1189.3px;font-size:25.00px;line-height:30.00px;font-family:'Liberation Serif', serif;color:#111;width:200.0px;text-align:center;">10.88</div>
<div class="t " style="left:3129.6px;top:1189.3px;font-size:25.00px;line-height:30.00px;font-family:'Liberation Serif', serif;color:#111;width:200.0px;text-align:center;">32.60</div>
<div class="t " style="left:3231.5px;top:1189.3px;font-size:25.00px;line-height:30.00px;font-family:'Liberation Serif', serif;color:#111;width:200.0px;text-align:center;">14.41</div>
<div class="t " style="left:3342.3px;top:1189.3px;font-size:25.00px;line-height:30.00px;font-family:'Liberation Serif', serif;color:#111;width:200.0px;text-align:center;">9.40</div>
<div class="t " style="left:3437.3px;top:1189.3px;font-size:25.00px;line-height:30.00px;font-family:'Liberation Serif', serif;color:#111;width:200.0px;text-align:center;">3.82</div>
<div class="t " style="left:3532.8px;top:1189.3px;font-size:25.00px;line-height:30.00px;font-family:'Liberation Serif', serif;color:#111;width:200.0px;text-align:center;">32.77</div>
<div class="t " style="left:3644.0px;top:1189.3px;font-size:25.00px;line-height:30.00px;font-family:'Liberation Serif', serif;font-weight:bold;color:#111;width:200.0px;text-align:center;">17.89</div>
<div class="t " style="left:2766.0px;top:1218.0px;font-size:25.00px;line-height:30.00px;font-family:'Liberation Serif', serif;color:#111;">STVB</div>
<div class="t " style="left:2821.4px;top:1218.0px;font-size:25.00px;line-height:30.00px;font-family:'Liberation Serif', serif;font-weight:bold;color:#111;width:200.0px;text-align:center;">2.96</div>
<div class="t " style="left:2917.3px;top:1218.0px;font-size:25.00px;line-height:30.00px;font-family:'Liberation Serif', serif;color:#111;width:200.0px;text-align:center;">13.64</div>
<div class="t " style="left:3027.6px;top:1218.0px;font-size:25.00px;line-height:30.00px;font-family:'Liberation Serif', serif;color:#111;width:200.0px;text-align:center;">10.26</div>
<div class="t " style="left:3129.6px;top:1218.0px;font-size:25.00px;line-height:30.00px;font-family:'Liberation Serif', serif;color:#111;width:200.0px;text-align:center;">30.01</div>
<div class="t " style="left:3231.5px;top:1218.0px;font-size:25.00px;line-height:30.00px;font-family:'Liberation Serif', serif;color:#111;width:200.0px;text-align:center;">12.86</div>
<div class="t " style="left:3342.3px;top:1218.0px;font-size:25.00px;line-height:30.00px;font-family:'Liberation Serif', serif;color:#111;width:200.0px;text-align:center;">8.66</div>
<div class="t " style="left:3437.3px;top:1218.0px;font-size:25.00px;line-height:30.00px;font-family:'Liberation Serif', serif;color:#111;width:200.0px;text-align:center;">4.19</div>
<div class="t " style="left:3532.8px;top:1218.0px;font-size:25.00px;line-height:30.00px;font-family:'Liberation Serif', serif;color:#111;width:200.0px;text-align:center;">36.68</div>
<div class="t " style="left:3644.0px;top:1218.0px;font-size:25.00px;line-height:30.00px;font-family:'Liberation Serif', serif;color:#111;width:200.0px;text-align:center;">21.86</div>
<div class="t " style="left:2766.0px;top:1246.7px;font-size:25.00px;line-height:30.00px;font-family:'Liberation Serif', serif;color:#111;">PIF</div>
<div class="t " style="left:2821.4px;top:1246.7px;font-size:25.00px;line-height:30.00px;font-family:'Liberation Serif', serif;color:#111;width:200.0px;text-align:center;">–</div>
<div class="t " style="left:2917.3px;top:1246.7px;font-size:25.00px;line-height:30.00px;font-family:'Liberation Serif', serif;color:#111;width:200.0px;text-align:center;">12.50</div>
<div class="t " style="left:3027.6px;top:1246.7px;font-size:25.00px;line-height:30.00px;font-family:'Liberation Serif', serif;color:#111;width:200.0px;text-align:center;">9.00</div>
<div class="t " style="left:3129.6px;top:1246.7px;font-size:25.00px;line-height:30.00px;font-family:'Liberation Serif', serif;color:#111;width:200.0px;text-align:center;">–</div>
<div class="t " style="left:3231.5px;top:1246.7px;font-size:25.00px;line-height:30.00px;font-family:'Liberation Serif', serif;color:#111;width:200.0px;text-align:center;">13.05</div>
<div class="t " style="left:3342.3px;top:1246.7px;font-size:25.00px;line-height:30.00px;font-family:'Liberation Serif', serif;color:#111;width:200.0px;text-align:center;">8.65</div>
<div class="t " style="left:3437.3px;top:1246.7px;font-size:25.00px;line-height:30.00px;font-family:'Liberation Serif', serif;color:#111;width:200.0px;text-align:center;">–</div>
<div class="t " style="left:3532.8px;top:1246.7px;font-size:25.00px;line-height:30.00px;font-family:'Liberation Serif', serif;color:#111;width:200.0px;text-align:center;">30.81</div>
<div class="t " style="left:3644.0px;top:1246.7px;font-size:25.00px;line-height:30.00px;font-family:'Liberation Serif', serif;color:#111;width:200.0px;text-align:center;">20.03</div>
<div class="t " style="left:2127.3px;top:1300.3px;font-size:40.00px;line-height:48.00px;font-family:'Liberation Serif', serif;width:2400.0px;text-align:center;">Figure 1: Estimation performance on synthetic data.</div>
<svg style="left:0;top:0" width="4320" height="2880" viewBox="0 0 4320 2880" font-family="'Liberation Sans', sans-serif" font-size="15.0" fill="#222"><g font-size="14.6"><clipPath id="c2574_1406"><rect x="2574.3" y="1406.7" width="349.7" height="174.0"/></clipPath><g clip-path="url(#c2574_1406)"><path d="M2590.3,1535.2l11.1,2 27,6.5 9.5,1.4 14.3,1.3 9.5,-8.5 3.2,-1.5 1.6,-0.2 1.5,0.2 3.2,1.5 9.5,8.7 1.6,1.1 60.3,0.2 30.1,-0.7 6.4,-3.7 3.2,-1.1 1.6,-0.1 1.5,0.1 3.2,1.1 4.8,2.9 4.7,0 14.3,-1 12.7,-2.2 14.3,-3.2 38.1,-9.7 20.6,-4.5 9.5,-1.6 0,28.6 -317.3,0z" fill="#eaa19e"/><path d="M2590.7,1546.2v14m0.2,-14v14m0.2,-14v14m0,-14v14m0.2,-14v14m0.7,-14v14m1.9,-14v14m0.5,-14v14m0.6,-14v14m0.1,-14v14m0.8,-14v14m0.4,-14v14m1.2,-14v14m2,-14v14m24,-14v14m2.3,-14v14m0.2,-14v14m0.6,-14v14m1.2,-14v14m1.3,-14v14m2.1,-14v14m0.6,-14v14m2.8,-14v14m5.7,-14v14m0.2,-14v14m1.4,-14v14m6,-14v14m1.4,-14v14m2.8,-14v14m0.9,-14v14m1.3,-14v14m0.1,-14v14m1.3,-14v14m1.1,-14v14m0.5,-14v14m0.5,-14v14m1.2,-14v14m0.8,-14v14m0.4,-14v14m3.7,-14v14m0.4,-14v14m0.5,-14v14m0,-14v14m0.5,-14v14m1,-14v14m0,-14v14m0.3,-14v14m0.5,-14v14m0.4,-14v14m2,-14v14m0.1,-14v14m0.7,-14v14m0.2,-14v14m0.1,-14v14m0.3,-14v14m0.3,-14v14m1.9,-14v14m0.1,-14v14m0.7,-14v14m0.8,-14v14m0.1,-14v14m0.1,-14v14m0.1,-14v14m0.3,-14v14m0.4,-14v14m0.9,-14v14m0.6,-14v14m0.6,-14v14m0.1,-14v14m0.1,-14v14m0.1,-14v14m0.3,-14v14m1.3,-14v14m0.4,-14v14m0.1,-14v14m0.1,-14v14m0.6,-14v14m0.1,-14v14m0.1,-14v14m0.7,-14v14m0.7,-14v14m0.2,-14v14m0.1,-14v14m0.6,-14v14m0.7,-14v14m0,-14v14m0.5,-14v14m0.6,-14v14m0.2,-14v14m0.1,-14v14m0,-14v14m0.2,-14v14m1.6,-14v14m0.9,-14v14m0.3,-14v14m2.1,-14v14m0.3,-14v14m0.7,-14v14m0,-14v14m1.6,-14v14m0.7,-14v14m0.9,-14v14m1.3,-14v14m3.8,-14v14m0.9,-14v14m41.9,-14v14m0.8,-14v14m3.3,-14v14m1.7,-14v14m0.8,-14v14m1.5,-14v14m0.8,-14v14m0.8,-14v14m0.9,-14v14m0.3,-14v14m3.3,-14v14m0.8,-14v14m0.8,-14v14m0.6,-14v14m0.1,-14v14m0,-14v14m0.1,-14v14m0,-14v14m0.7,-14v14m0.2,-14v14m0.2,-14v14m0.5,-14v14m0.5,-14v14m0,-14v14m0,-14v14m0.6,-14v14m0.7,-14v14m0,-14v14m0.1,-14v14m0.3,-14v14m0,-14v14m0.1,-14v14m1.2,-14v14m0.4,-14v14m0.1,-14v14m0.8,-14v14m0.2,-14v14m0,-14v14m0.1,-14v14m0.4,-14v14m1.5,-14v14m0.3,-14v14m0.1,-14v14m0.1,-14v14m0.2,-14v14m0.3,-14v14m0,-14v14m0,-14v14m0.8,-14v14m0.2,-14v14m1.3,-14v14m0.6,-14v14m0.5,-14v14m1,-14v14m0.3,-14v14m0,-14v14m0.1,-14v14m0.3,-14v14m2,-14v14m0.6,-14v14m1.6,-14v14m0.2,-14v14m1.2,-14v14m0.9,-14v14m0.2,-14v14m0,-14v14m0.6,-14v14m0.2,-14v14m0.1,-14v14m0.2,-14v14m0.3,-14v14m0.6,-14v14m0.1,-14v14m0.3,-14v14m0.3,-14v14m0,-14v14m1.8,-14v14m0.4,-14v14m0.1,-14v14m0.1,-14v14m0.6,-14v14m0.2,-14v14m0.1,-14v14m0.1,-14v14m1.8,-14v14m0,-14v14m0.2,-14v14m0,-14v14m1.1,-14v14m2.1,-14v14m2.2,-14v14m11.6,-14v14m4.6,-14v14m7.4,-14v14m0.8,-14v14m2.4,-14v14m1.3,-14v14m0.1,-14v14m0.7,-14v14m0.3,-14v14m0,-14v14m0.1,-14v14m0.9,-14v14m0.8,-14v14m0.4,-14v14m0.1,-14v14m2.8,-14v14m0.6,-14v14m0.2,-14v14m0,-14v14m0.4,-14v14m0.2,-14v14m0.6,-14v14m0.1,-14v14m0.3,-14v14m0.9,-14v14m0.9,-14v14m0.3,-14v14m0.1,-14v14m0.2,-14v14m0,-14v14m0.6,-14v14m0.5,-14v14m1,-14v14m0.3,-14v14m0.5,-14v14m0.1,-14v14m1.4,-14v14m0.1,-14v14m0.6,-14v14m0,-14v14m0.5,-14v14m0.2,-14v14m0.1,-14v14m0.3,-14v14m0.1,-14v14m0.5,-14v14m0.2,-14v14m0.7,-14v14m0.1,-14v14m0.1,-14v14m0.2,-14v14m0.1,-14v14m0.2,-14v14m0.1,-14v14m0.2,-14v14m0,-14v14m0.5,-14v14m0.2,-14v14m0.1,-14v14m0.1,-14v14m0,-14v14m0.7,-14v14m0.1,-14v14m0.8,-14v14m1.2,-14v14m0.3,-14v14m1.1,-14v14m0.2,-14v14m0.8,-14v14m0,-14v14m1.1,-14v14m0.4,-14v14m0.4,-14v14m0.5,-14v14m0,-14v14m0.2,-14v14m0.6,-14v14m0,-14v14m1.5,-14v14m0.1,-14v14m0.9,-14v14m0,-14v14m0.2,-14v14m0.1,-14v14m0.1,-14v14m0.5,-14v14m0.3,-14v14m0,-14v14m0.1,-14v14m0.8,-14v14m0,-14v14m0.3,-14v14m1.3,-14v14m0,-14v14m0.5,-14v14m0.1,-14v14m1,-14v14m1.9,-14v14m1.2,-14v14m1,-14v14m1.6,-14v14m1,-14v14" stroke="#000" stroke-opacity="0.62" stroke-width="1" fill="none"/><path d="M2664.1,1566v13.3m0,-13.3v13.3m1.5,-13.3v13.3m0.2,-13.3v13.3m0.1,-13.3v13.3m0.4,-13.3v13.3m0.3,-13.3v13.3m1.2,-13.3v13.3m0.1,-13.3v13.3m0.1,-13.3v13.3m0.7,-13.3v13.3m0.4,-13.3v13.3m0.1,-13.3v13.3m0.6,-13.3v13.3m0.3,-13.3v13.3m0.5,-13.3v13.3m1.3,-13.3v13.3m0.6,-13.3v13.3m0.1,-13.3v13.3m0.8,-13.3v13.3m0.6,-13.3v13.3m0.6,-13.3v13.3m0.1,-13.3v13.3m0.7,-13.3v13.3m0.2,-13.3v13.3m0.2,-13.3v13.3m99,-13.3v13.3m0.3,-13.3v13.3m0,-13.3v13.3m0.2,-13.3v13.3m0.2,-13.3v13.3m0.2,-13.3v13.3m0.3,-13.3v13.3m0.2,-13.3v13.3m1.4,-13.3v13.3m0.1,-13.3v13.3m0.1,-13.3v13.3m1.9,-13.3v13.3m0,-13.3v13.3m1.1,-13.3v13.3m0.8,-13.3v13.3m0.7,-13.3v13.3m0.1,-13.3v13.3m0.7,-13.3v13.3m0.1,-13.3v13.3m1,-13.3v13.3m0.1,-13.3v13.3m0.2,-13.3v13.3m0.2,-13.3v13.3m1.2,-13.3v13.3m0.1,-13.3v13.3m0.2,-13.3v13.3m0.5,-13.3v13.3m0.1,-13.3v13.3" stroke="#e8392a" stroke-opacity="0.7" stroke-width="1" fill="none"/><path d="M2590.3,1538.6l1.6,0.3 1.6,0.9 6.3,6.4 3.2,2.7 3.2,1.5 3.1,0 3.2,-1.4 1.6,-1.1 3.2,-3.4 3.1,-4.6 6.4,-10.3 3.2,-3.8 1.5,-1.3 1.6,-0.7 1.6,-0.2 1.6,0.3 6.4,2.4 3.1,0.3 11.1,-1.9 1.6,-0.7 1.6,-1.5 1.6,-2.4 1.6,-3.7 1.6,-5.1 3.1,-14.1 6.4,-34.5 1.6,-6.7 1.6,-4.6 1.5,-2.3 1.6,0.4 1.6,2.9 1.6,5.4 3.2,16.2 4.7,29.9 3.2,17.6 3.2,13.3 1.6,4.8 3.1,6.7 1.6,2.1 3.2,2.6 3.2,1.1 3.1,0.5 9.6,0.2 11.1,-0.2 4.7,-0.8 3.2,-1.6 1.6,-1.4 1.6,-2 1.6,-2.8 3.1,-8.7 1.6,-6.2 1.6,-7.7 3.2,-19.5 6.3,-48.2 3.2,-19.7 1.6,-6.4 1.6,-3.5 1.6,-0.4 1.5,2.9 1.6,5.9 1.6,8.5 9.5,69.3 3.2,17.3 1.6,6.6 3.2,9.1 1.6,3 1.5,2.1 1.6,1.5 1.6,1 3.2,0.9 3.2,-0.1 3.1,-1.1 3.2,-2.7 1.6,-2.1 1.6,-2.9 3.2,-8.8 1.5,-6.1 1.6,-7.4 3.2,-18.7 9.5,-68.9 1.6,-8.3 1.6,-6 1.6,-3.2 1.6,-0.3 1.6,2.6 1.5,5.5 1.6,7.8 3.2,21.1 6.3,47.6 3.2,19.2 3.2,14 3.2,9.2 1.6,3.1 3.1,4 1.6,1.1 3.2,1.4 3.2,0.6 4.7,0.3 25.4,0.1" stroke="#1a1a1a" stroke-width="1.9" fill="none" stroke-linejoin="round"/><path d="M2590.3,1514.2l12.7,9.3 12.7,8.6 12.7,4.6 12.7,1 14.2,-1 1.6,16.1 25.4,0 1.6,-12.2 11.1,2 22.2,-1 15.9,0.2 15.9,1.7 15.8,0.5 1.6,8.8 27,0 1.6,-10.5 11.1,-1.7 12.7,-4.4 19,-9 19,-11 19.1,-9.8 15.8,-7.3 15.9,-6.1" stroke="#3a8f28" stroke-width="1.7" fill="none" stroke-linejoin="round"/><path d="M2590.3,1552.8l42.8,-0.1 4.8,-0.2 4.8,-0.8 3.1,-1 3.2,-1.7 3.2,-2.4 9.5,-8.7 3.2,-1.5 1.6,-0.2 1.5,0.2 3.2,1.5 9.5,8.7 4.8,3.3 4.7,1.7 4.8,0.7 7.9,0.1 27,-0.8 25.4,0.5 6.3,-0.4 3.2,-0.6 3.2,-1.1 11.1,-6.5 3.2,-1.1 1.6,-0.1 1.5,0.1 3.2,1.1 7.9,5 4.8,2.3 3.2,1 4.7,0.7 11.1,0.3 87.3,0" stroke="#e8392a" stroke-width="1.9" fill="none" stroke-linejoin="round"/></g><rect x="2574.3" y="1406.7" width="349.7" height="174.0" fill="none" stroke="#777" stroke-width="1.3"/><path d="M2590.3,1580.7v4.5M2653.8,1580.7v4.5M2717.2,1580.7v4.5M2780.7,1580.7v4.5M2844.1,1580.7v4.5M2907.6,1580.7v4.5M2574.3,1552.8h-4.5M2574.3,1504.0h-4.5M2574.3,1455.2h-4.5" stroke="#444" stroke-width="1.1" fill="none"/><text x="2590.3" y="1598.8" text-anchor="middle">0</text><text x="2653.8" y="1598.8" text-anchor="middle">20</text><text x="2717.2" y="1598.8" text-anchor="middle">40</text><text x="2780.7" y="1598.8" text-anchor="middle">60</text><text x="2844.1" y="1598.8" text-anchor="middle">80</text><text x="2907.6" y="1598.8" text-anchor="middle">100</text><text x="2566.8" y="1558.0" text-anchor="end">0</text><text x="2566.8" y="1509.2" text-anchor="end">2</text><text x="2566.8" y="1460.4" text-anchor="end">4</text><text x="2749.2" y="1616.2" text-anchor="middle">Input: t</text><text transform="translate(2552.7,1493.7) rotate(-90)" text-anchor="middle">Intensity: λ(t)</text><rect x="2582.3" y="1414.4" width="109.8" height="86.5" rx="3" fill="#fff" fill-opacity="0.8" stroke="#ccc" stroke-width="1"/><path d="M2587.8,1428.2h28" stroke="#1a1a1a" stroke-width="1.8"/><text x="2626.8" y="1433.0">Truth</text><path d="M2587.8,1447.8h28" stroke="#e8392a" stroke-width="1.8"/><text x="2626.8" y="1452.6">Ours</text><rect x="2587.8" y="1462.5" width="28" height="10" fill="#eaa19e"/><text x="2626.8" y="1472.3">Variance</text><path d="M2587.8,1487.1h28" stroke="#3a8f28" stroke-width="1.8"/><text x="2626.8" y="1491.9">UCB</text></g><g font-size="14.6"><clipPath id="c2975_1406"><rect x="2975.3" y="1406.7" width="349.7" height="174.0"/></clipPath><g clip-path="url(#c2975_1406)"><path d="M2991.3,1530.5l3.2,-0.7 1.6,0.2 3.1,1.2 3.2,2.4 11.1,10.7 4.8,3.2 3.1,1.4 4.8,0.8 4.8,-0.4 3.1,-1.2 1.6,-1 3.2,-2.8 3.2,-4.2 1.6,-2.8 3.1,-7 1.6,-4.3 4.8,-15.9 11.1,-43.7 3.2,-9.1 1.5,-3.2 1.6,-2.1 1.6,-1 1.6,0.1 1.6,1.2 1.6,2.3 3.1,7.4 3.2,10 7.9,28.1 3.2,9.3 3.2,7.5 1.6,2.9 3.2,4.5 3.1,2.9 3.2,1.7 4.8,1.1 14.2,0.8 9.6,2.4 3.1,0.5 3.2,-0.3 1.6,-0.5 3.2,-2 3.1,-3.6 4.8,-8.3 4.8,-11.3 9.5,-25.6 3.1,-7 3.2,-5 1.6,-1.7 1.6,-0.9 1.6,-0.3 1.6,0.4 1.6,1 3.1,4.1 4.8,9.7 7.9,20.1 3.2,6.9 3.2,5.1 1.6,1.8 1.5,1.1 1.6,0.5 1.6,0 1.6,-0.7 1.6,-1.3 1.6,-1.7 3.1,-4.8 8,-14.5 3.1,-4.7 3.2,-2.9 1.6,-0.8 1.6,-0.2 1.6,0.3 3.2,1.9 3.1,3.1 8,9.6 11.1,12.5 12.7,16.5 4.7,4.9 4.8,3.3 4.7,1.8 6.4,1.1 9.5,0.5 0,11 -7.9,-0.4 -6.4,-1 -4.7,-1.7 -4.8,-3.2 -3.2,-3.1 -4.7,-6 -14.3,-21.9 -14.3,-20.5 -4.7,-5.2 -3.2,-1.9 -1.6,-0.3 -1.6,0.2 -1.6,0.8 -3.2,2.9 -3.1,4.7 -8,14.6 -3.1,4.8 -1.6,1.7 -1.6,1.3 -1.6,0.7 -1.6,0.1 -1.6,-0.6 -1.5,-1.1 -1.6,-1.8 -3.2,-5.1 -3.2,-6.9 -7.9,-20.3 -4.8,-9.8 -3.1,-4.1 -1.6,-1 -1.6,-0.4 -1.6,0.3 -1.6,1.1 -1.6,1.7 -3.2,5.2 -3.1,7.1 -9.5,26.2 -4.8,11.7 -4.8,8.9 -1.5,2.3 -3.2,3.6 -1.6,1.3 -3.2,1.8 -3.2,0.9 -3.1,0.2 -4.8,-0.3 -14.3,-2 -6.3,-1.6 -3.2,-1.7 -3.2,-2.9 -3.1,-4.4 -3.2,-6.2 -4.8,-13.2 -9.5,-34.6 -3.2,-10.2 -3.1,-7.4 -1.6,-2.3 -1.6,-1.3 -1.6,-0.1 -1.6,1.1 -1.6,2.1 -1.5,3.2 -3.2,9.1 -11.1,43.7 -4.8,15.9 -1.6,4.3 -3.1,7 -1.6,2.7 -3.2,4.3 -3.2,2.8 -1.6,0.9 -3.1,1.2 -4.8,0.5 -4.8,-0.9 -3.1,-1.4 -4.8,-3.3 -11.1,-10.9 -3.2,-2.4 -3.1,-1.3 -1.6,-0.2 -3.2,0.7z" fill="#eaa19e"/><path d="M2992,1546.2v14m0.2,-14v14m0.3,-14v14m0.2,-14v14m0.4,-14v14m0.8,-14v14m0.4,-14v14m0.8,-14v14m1.2,-14v14m0.9,-14v14m0.2,-14v14m3.4,-14v14m0.1,-14v14m0.7,-14v14m21.9,-14v14m0.1,-14v14m1,-14v14m4.1,-14v14m0.3,-14v14m0.4,-14v14m1.6,-14v14m1.2,-14v14m0.5,-14v14m0.2,-14v14m1.1,-14v14m4.1,-14v14m0.8,-14v14m1.6,-14v14m5.8,-14v14m0.8,-14v14m8.7,-14v14m2.7,-14v14m0.4,-14v14m0.6,-14v14m0.1,-14v14m1.7,-14v14m1.3,-14v14m0.1,-14v14m1,-14v14m0.6,-14v14m0.1,-14v14m0.4,-14v14m0.5,-14v14m0.4,-14v14m0.4,-14v14m0.3,-14v14m0.2,-14v14m1,-14v14m0.5,-14v14m0.2,-14v14m0.1,-14v14m1,-14v14m0.8,-14v14m0.2,-14v14m0.1,-14v14m0.3,-14v14m0.2,-14v14m0,-14v14m0.4,-14v14m0.3,-14v14m0.3,-14v14m0.1,-14v14m0.5,-14v14m0.4,-14v14m0.1,-14v14m0.2,-14v14m0.7,-14v14m0.2,-14v14m0.2,-14v14m0.2,-14v14m1,-14v14m0.3,-14v14m0.4,-14v14m0.7,-14v14m0.1,-14v14m0.6,-14v14m0.5,-14v14m0.9,-14v14m1.3,-14v14m0.6,-14v14m0.3,-14v14m0.9,-14v14m0.3,-14v14m0.2,-14v14m0.4,-14v14m0.2,-14v14m2.1,-14v14m0.2,-14v14m0.8,-14v14m0.2,-14v14m2.1,-14v14m0.1,-14v14m0.2,-14v14m0.2,-14v14m0.1,-14v14m0.9,-14v14m1.2,-14v14m4.7,-14v14m0.2,-14v14m1.3,-14v14m0.2,-14v14m1.2,-14v14m1,-14v14m0.3,-14v14m0.7,-14v14m43.1,-14v14m1.2,-14v14m0.4,-14v14m1.6,-14v14m2,-14v14m3.6,-14v14m1.5,-14v14m0.2,-14v14m1.8,-14v14m0.3,-14v14m0.2,-14v14m0.9,-14v14m1.8,-14v14m0,-14v14m0.2,-14v14m0.2,-14v14m0.2,-14v14m1,-14v14m0.2,-14v14m0.2,-14v14m0.1,-14v14m1.2,-14v14m0.4,-14v14m0.2,-14v14m0.2,-14v14m1.5,-14v14m0.1,-14v14m0.2,-14v14m0,-14v14m0.6,-14v14m0.6,-14v14m0,-14v14m0.4,-14v14m0,-14v14m0,-14v14m0.7,-14v14m0.4,-14v14m2.2,-14v14m1.9,-14v14m0.3,-14v14m0.1,-14v14m0.1,-14v14m0.3,-14v14m0.3,-14v14m0,-14v14m0.2,-14v14m0.2,-14v14m0.2,-14v14m0.2,-14v14m0.2,-14v14m0.4,-14v14m0.6,-14v14m0.3,-14v14m0.4,-14v14m1,-14v14m0.3,-14v14m0,-14v14m0.4,-14v14m0.5,-14v14m0.4,-14v14m0.1,-14v14m0.1,-14v14m0.1,-14v14m0.2,-14v14m0.4,-14v14m0.7,-14v14m0.2,-14v14m0.1,-14v14m0.1,-14v14m0.1,-14v14m0.6,-14v14m0.8,-14v14m0.7,-14v14m0,-14v14m0.4,-14v14m1.5,-14v14m0.2,-14v14m0.1,-14v14m1.1,-14v14m0.3,-14v14m0.2,-14v14m0.4,-14v14m0.2,-14v14m0.1,-14v14m1.7,-14v14m1.3,-14v14m0.1,-14v14m0.3,-14v14m0.8,-14v14m0.3,-14v14m2.8,-14v14m6,-14v14m9.5,-14v14m8.9,-14v14m1.4,-14v14m0.6,-14v14m0.2,-14v14m1.5,-14v14m1,-14v14m1,-14v14m0.5,-14v14m0.2,-14v14m0.6,-14v14m0.7,-14v14m0.8,-14v14m0.1,-14v14m0,-14v14m0.4,-14v14m0.9,-14v14m0,-14v14m0.3,-14v14m0.8,-14v14m0,-14v14m0.4,-14v14m0.7,-14v14m0.2,-14v14m0.7,-14v14m0.1,-14v14m0.5,-14v14m0.3,-14v14m0.1,-14v14m0.6,-14v14m0.3,-14v14m0,-14v14m0.3,-14v14m0.1,-14v14m0.1,-14v14m0.2,-14v14m0.1,-14v14m0.1,-14v14m0.3,-14v14m0,-14v14m0.4,-14v14m0,-14v14m1.2,-14v14m0.2,-14v14m0,-14v14m0.5,-14v14m0.4,-14v14m0.2,-14v14m0.5,-14v14m0.2,-14v14m0.4,-14v14m0,-14v14m0.5,-14v14m0.5,-14v14m0.2,-14v14m0,-14v14m0.7,-14v14m0.8,-14v14m0.2,-14v14m0.2,-14v14m0.4,-14v14m0.8,-14v14m0.3,-14v14m0.4,-14v14m1.9,-14v14m0,-14v14m0.5,-14v14m0.3,-14v14m2,-14v14m0.4,-14v14m0.3,-14v14m0.3,-14v14m0.1,-14v14m1.9,-14v14m0.7,-14v14m0.4,-14v14m0.5,-14v14m0.3,-14v14m0.4,-14v14m0.1,-14v14m0.5,-14v14m0.1,-14v14m0.2,-14v14m0.4,-14v14m0.3,-14v14m0.2,-14v14m0.4,-14v14m0,-14v14m0.4,-14v14m0.3,-14v14m0.6,-14v14m0.1,-14v14m0.3,-14v14m3.5,-14v14m0.7,-14v14m1.1,-14v14m1.2,-14v14m1.1,-14v14m0.3,-14v14m0.4,-14v14m0.3,-14v14" stroke="#000" stroke-opacity="0.62" stroke-width="1" fill="none"/><path d="M2991.7,1566v13.3m0.7,-13.3v13.3m0.5,-13.3v13.3m0.8,-13.3v13.3m0.1,-13.3v13.3m2.1,-13.3v13.3m0.7,-13.3v13.3m0.3,-13.3v13.3m1,-13.3v13.3m0.3,-13.3v13.3m0.4,-13.3v13.3m0.5,-13.3v13.3m0.1,-13.3v13.3m1.4,-13.3v13.3m0.3,-13.3v13.3m0.3,-13.3v13.3m63.8,-13.3v13.3m0.8,-13.3v13.3m0.5,-13.3v13.3m0.2,-13.3v13.3m1.1,-13.3v13.3m0.3,-13.3v13.3m0.6,-13.3v13.3m0.1,-13.3v13.3m1,-13.3v13.3m0.9,-13.3v13.3m0.7,-13.3v13.3m0.7,-13.3v13.3m0.3,-13.3v13.3m0.4,-13.3v13.3m0.1,-13.3v13.3m0,-13.3v13.3m0.6,-13.3v13.3m2.3,-13.3v13.3m0.9,-13.3v13.3m83.6,-13.3v13.3m0.3,-13.3v13.3m0.5,-13.3v13.3m0.3,-13.3v13.3m2.3,-13.3v13.3m0.1,-13.3v13.3m1.2,-13.3v13.3m0,-13.3v13.3m0.3,-13.3v13.3m0.2,-13.3v13.3m0.3,-13.3v13.3m0.2,-13.3v13.3m0,-13.3v13.3m0.1,-13.3v13.3m0.2,-13.3v13.3m0.1,-13.3v13.3m0.3,-13.3v13.3m0.3,-13.3v13.3m1.1,-13.3v13.3m0.3,-13.3v13.3m0.2,-13.3v13.3m0.5,-13.3v13.3m0.2,-13.3v13.3m1.6,-13.3v13.3m0,-13.3v13.3m0.7,-13.3v13.3m0.1,-13.3v13.3m0,-13.3v13.3m1.5,-13.3v13.3m0.6,-13.3v13.3m0.1,-13.3v13.3m0.2,-13.3v13.3m4.6,-13.3v13.3m0,-13.3v13.3m0.2,-13.3v13.3m0.3,-13.3v13.3m0.6,-13.3v13.3m0.8,-13.3v13.3m0.2,-13.3v13.3m0.2,-13.3v13.3m0.4,-13.3v13.3m1,-13.3v13.3m0.7,-13.3v13.3m1.8,-13.3v13.3m0.4,-13.3v13.3m0.8,-13.3v13.3m0.2,-13.3v13.3m0.1,-13.3v13.3m0.4,-13.3v13.3m0.1,-13.3v13.3m0.2,-13.3v13.3m0.3,-13.3v13.3m0.1,-13.3v13.3m0.7,-13.3v13.3m30.3,-13.3v13.3m0,-13.3v13.3m1.2,-13.3v13.3m0,-13.3v13.3m0.2,-13.3v13.3m0.2,-13.3v13.3m0.4,-13.3v13.3m0.6,-13.3v13.3m2.6,-13.3v13.3m1.9,-13.3v13.3m1,-13.3v13.3m0.7,-13.3v13.3m2.1,-13.3v13.3m0.2,-13.3v13.3m0.4,-13.3v13.3m0.2,-13.3v13.3m0.2,-13.3v13.3m1.5,-13.3v13.3m0.7,-13.3v13.3m0.3,-13.3v13.3m0.5,-13.3v13.3m0.2,-13.3v13.3m0.4,-13.3v13.3m0.3,-13.3v13.3m0.1,-13.3v13.3m0.2,-13.3v13.3m1.4,-13.3v13.3m0.9,-13.3v13.3m1.8,-13.3v13.3m6.1,-13.3v13.3m0.7,-13.3v13.3m1.3,-13.3v13.3m2.3,-13.3v13.3m1.3,-13.3v13.3m0.3,-13.3v13.3m0.5,-13.3v13.3m1.9,-13.3v13.3m0.5,-13.3v13.3m0,-13.3v13.3m3.2,-13.3v13.3m0.1,-13.3v13.3m0.7,-13.3v13.3m0.2,-13.3v13.3m0,-13.3v13.3m1.5,-13.3v13.3m0.1,-13.3v13.3m0.3,-13.3v13.3" stroke="#e8392a" stroke-opacity="0.7" stroke-width="1" fill="none"/><path d="M2991.3,1538.6l1.6,0.3 1.6,0.9 6.3,6.4 3.2,2.7 3.2,1.5 3.1,0 3.2,-1.4 1.6,-1.1 3.2,-3.4 3.1,-4.6 6.4,-10.3 3.2,-3.8 1.5,-1.3 1.6,-0.7 1.6,-0.2 1.6,0.3 6.4,2.4 3.1,0.3 11.1,-1.9 1.6,-0.7 1.6,-1.5 1.6,-2.4 1.6,-3.7 1.6,-5.1 3.1,-14.1 6.4,-34.5 1.6,-6.7 1.6,-4.6 1.5,-2.3 1.6,0.4 1.6,2.9 1.6,5.4 3.2,16.2 4.7,29.9 3.2,17.6 3.2,13.3 1.6,4.8 3.1,6.7 1.6,2.1 3.2,2.6 3.2,1.1 3.1,0.5 9.6,0.2 11.1,-0.2 4.7,-0.8 3.2,-1.6 1.6,-1.4 1.6,-2 1.6,-2.8 3.1,-8.7 1.6,-6.2 1.6,-7.7 3.2,-19.5 6.3,-48.2 3.2,-19.7 1.6,-6.4 1.6,-3.5 1.6,-0.4 1.5,2.9 1.6,5.9 1.6,8.5 9.5,69.3 3.2,17.3 1.6,6.6 3.2,9.1 1.6,3 1.5,2.1 1.6,1.5 1.6,1 3.2,0.9 3.2,-0.1 3.1,-1.1 3.2,-2.7 1.6,-2.1 1.6,-2.9 3.2,-8.8 1.5,-6.1 1.6,-7.4 3.2,-18.7 9.5,-68.9 1.6,-8.3 1.6,-6 1.6,-3.2 1.6,-0.3 1.6,2.6 1.5,5.5 1.6,7.8 3.2,21.1 6.3,47.6 3.2,19.2 3.2,14 3.2,9.2 1.6,3.1 3.1,4 1.6,1.1 3.2,1.4 3.2,0.6 4.7,0.3 25.4,0.1" stroke="#1a1a1a" stroke-width="1.9" fill="none" stroke-linejoin="round"/><path d="M2991.3,1531.5l3.2,-0.7 1.6,0.2 3.1,1.3 3.2,2.4 11.1,10.9 4.8,3.3 3.1,1.4 4.8,0.9 3.2,-0.2 4.7,-1.5 3.2,-2.2 3.2,-3.4 3.2,-5.1 3.1,-7 1.6,-4.3 4.8,-15.9 9.5,-38.1 3.2,-10.6 1.6,-4.1 1.5,-3.2 1.6,-2.1 1.6,-1.1 1.6,0.1 1.6,1.3 1.6,2.3 3.1,7.4 3.2,10.2 9.5,34.6 4.8,13.2 3.2,6.2 3.1,4.4 3.2,2.9 3.2,1.7 6.3,1.6 14.3,2 4.8,0.3 3.1,-0.2 3.2,-0.9 3.2,-1.8 1.6,-1.3 3.2,-3.6 1.5,-2.3 4.8,-8.9 4.8,-11.7 9.5,-26.2 3.1,-7.1 3.2,-5.2 1.6,-1.7 1.6,-1.1 1.6,-0.3 1.6,0.4 1.6,1 3.1,4.1 4.8,9.8 7.9,20.3 3.2,6.9 3.2,5.1 1.6,1.8 1.5,1.1 1.6,0.6 1.6,-0.1 1.6,-0.7 1.6,-1.3 1.6,-1.7 3.1,-4.8 8,-14.6 3.1,-4.7 3.2,-2.9 1.6,-0.8 1.6,-0.2 1.6,0.3 3.2,1.9 4.7,5.2 14.3,20.5 14.3,21.9 3.1,4.2 3.2,3.4 4.8,3.8 4.7,2.2 6.4,1.3 9.5,0.5" stroke="#e8392a" stroke-width="1.9" fill="none" stroke-linejoin="round"/><path d="M2991.3,1552.8l22.2,0 3.2,-14.6 9.5,2.4 9.5,-8.5 9.5,-15.9 9.6,-22 1.5,16.3 1.6,42.3 22.2,0 3.2,-80.5 9.5,31.7 12.7,24.4 12.7,7.8 12.7,-1 12.7,-6.8 6.4,-6.4 1.5,8.1 1.6,22.7 41.3,0 1.6,-58.6 4.7,12.2 6.4,8.5 1.6,11.8 1.5,26.1 57.2,0 3.1,-24.4 6.4,4.9 15.8,1.2 1.6,11.4 1.6,6.9 12.7,0" stroke="#3a8f28" stroke-width="1.7" fill="none" stroke-linejoin="round"/></g><rect x="2975.3" y="1406.7" width="349.7" height="174.0" fill="none" stroke="#777" stroke-width="1.3"/><path d="M2991.3,1580.7v4.5M3054.8,1580.7v4.5M3118.2,1580.7v4.5M3181.7,1580.7v4.5M3245.1,1580.7v4.5M3308.6,1580.7v4.5M2975.3,1552.8h-4.5M2975.3,1504.0h-4.5M2975.3,1455.2h-4.5" stroke="#444" stroke-width="1.1" fill="none"/><text x="2991.3" y="1598.8" text-anchor="middle">0</text><text x="3054.8" y="1598.8" text-anchor="middle">20</text><text x="3118.2" y="1598.8" text-anchor="middle">40</text><text x="3181.7" y="1598.8" text-anchor="middle">60</text><text x="3245.1" y="1598.8" text-anchor="middle">80</text><text x="3308.6" y="1598.8" text-anchor="middle">100</text><text x="2967.8" y="1558.0" text-anchor="end">0</text><text x="2967.8" y="1509.2" text-anchor="end">2</text><text x="2967.8" y="1460.4" text-anchor="end">4</text><text x="3150.2" y="1616.2" text-anchor="middle">Input: t</text><text transform="translate(2953.7,1493.7) rotate(-90)" text-anchor="middle">Intensity: λ(t)</text></g><g font-size="14.6"><clipPath id="c3376_1406"><rect x="3376.3" y="1406.7" width="349.7" height="174.0"/></clipPath><g clip-path="url(#c3376_1406)"><path d="M3392.3,1534.5l3.2,0.3 4.7,1.6 15.9,8.8 4.8,1.9 4.7,1.1 4.8,0.2 4.7,-1.1 3.2,-1.8 3.2,-2.9 3.2,-4.5 1.5,-2.9 4.8,-11.6 4.8,-16.2 7.9,-32.2 3.2,-11.7 3.1,-9.2 1.6,-3.2 1.6,-2.1 1.6,-1.1 1.6,0.1 1.6,1.2 1.6,2.4 3.1,7.6 3.2,10.6 7.9,31.3 3.2,11.2 4.8,13.2 1.6,3.3 3.1,4.9 1.6,1.8 3.2,2.3 1.6,0.7 3.1,0.8 19.1,1 3.2,-0.3 3.1,-1.3 3.2,-2.8 3.2,-5 3.2,-7.9 1.5,-5.1 4.8,-20 7.9,-42.5 3.2,-15.3 3.2,-11.1 1.6,-3.5 1.5,-1.9 1.6,-0.2 1.6,1.5 1.6,3.1 3.2,10.5 3.2,14.7 7.9,41.2 4.7,19.3 3.2,9 1.6,3.3 3.2,4.6 1.6,1.3 1.6,0.7 1.5,0.2 1.6,-0.3 1.6,-0.8 3.2,-3.2 3.2,-5.2 3.1,-7 9.5,-25.8 3.2,-6.9 1.6,-2.5 1.6,-1.8 1.6,-1 1.6,-0.2 1.6,0.7 1.5,1.5 3.2,5.1 3.2,7.3 7.9,21.5 3.2,7.5 3.2,6 1.6,2.4 3.1,3.7 1.6,1.3 3.2,1.8 3.2,0.9 4.7,0.5 9.5,-0.7 15.9,-2.5 0,17.6 -11.1,-0.7 -11.1,-1.9 -4.8,-1.4 -3.1,-1.3 -4.8,-3 -3.2,-3.1 -1.6,-2 -4.7,-8.3 -4.8,-11.6 -7.9,-22.9 -3.2,-7.8 -3.2,-5.5 -1.5,-1.6 -1.6,-0.8 -1.6,0.1 -1.6,0.9 -1.6,1.8 -3.2,5.7 -3.1,7.8 -8,21.6 -4.7,9.9 -3.2,4.2 -1.6,1.3 -1.6,0.8 -1.6,0.4 -1.5,-0.2 -1.6,-0.8 -1.6,-1.3 -1.6,-1.9 -1.6,-2.6 -3.2,-7.4 -1.6,-4.9 -4.7,-19.3 -7.9,-41.3 -3.2,-14.6 -3.2,-10.5 -1.6,-3.1 -1.6,-1.5 -1.6,0.2 -1.5,1.8 -1.6,3.5 -3.2,11.2 -3.2,15.2 -7.9,42.5 -4.8,20.1 -1.5,5.1 -3.2,7.8 -3.2,5.1 -3.2,2.8 -3.1,1.2 -3.2,0.3 -19.1,-1 -3.1,-0.7 -1.6,-0.7 -3.2,-2.4 -1.6,-1.7 -3.1,-5 -1.6,-3.3 -4.8,-13.1 -3.2,-11.2 -7.9,-31.3 -3.2,-10.7 -3.1,-7.6 -1.6,-2.3 -1.6,-1.3 -1.6,0 -1.6,1 -1.6,2.2 -1.6,3.2 -3.1,9.1 -3.2,11.7 -7.9,32.3 -4.8,16.1 -4.8,11.7 -1.5,2.8 -3.2,4.5 -3.2,2.9 -3.2,1.8 -4.7,1.1 -4.8,-0.1 -4.7,-1.2 -4.8,-1.9 -15.9,-8.8 -4.7,-1.5 -3.2,-0.4z" fill="#eaa19e"/><path d="M3392.6,1546.2v14m1.7,-14v14m0.6,-14v14m0.2,-14v14m1.5,-14v14m0.5,-14v14m0.5,-14v14m0.2,-14v14m2.7,-14v14m0.7,-14v14m1.4,-14v14m0.2,-14v14m0.1,-14v14m0,-14v14m22.2,-14v14m1,-14v14m0.4,-14v14m3.8,-14v14m1.6,-14v14m2.3,-14v14m0.2,-14v14m0,-14v14m1.1,-14v14m6.1,-14v14m1.7,-14v14m4.6,-14v14m0.7,-14v14m0.3,-14v14m1.2,-14v14m5,-14v14m1.5,-14v14m0.1,-14v14m1.3,-14v14m0.3,-14v14m1.7,-14v14m0.5,-14v14m2,-14v14m1.7,-14v14m1,-14v14m0.4,-14v14m0.7,-14v14m1.6,-14v14m0.1,-14v14m0.3,-14v14m0.1,-14v14m0.5,-14v14m0.3,-14v14m0.9,-14v14m0.2,-14v14m0.1,-14v14m0.1,-14v14m0.3,-14v14m0.4,-14v14m0.3,-14v14m0.1,-14v14m0.1,-14v14m0.2,-14v14m0.8,-14v14m0,-14v14m0.9,-14v14m1,-14v14m0.1,-14v14m0,-14v14m0.6,-14v14m0.6,-14v14m0.8,-14v14m0.6,-14v14m0.9,-14v14m1.5,-14v14m0.3,-14v14m0.1,-14v14m0.3,-14v14m0.1,-14v14m0.5,-14v14m0,-14v14m0.8,-14v14m0.1,-14v14m0.2,-14v14m0.3,-14v14m1.6,-14v14m0.3,-14v14m0.7,-14v14m0.8,-14v14m0.3,-14v14m0.5,-14v14m0,-14v14m0.2,-14v14m0.5,-14v14m0.4,-14v14m0.8,-14v14m0.4,-14v14m0.4,-14v14m0.7,-14v14m0.4,-14v14m0.1,-14v14m1,-14v14m0.4,-14v14m1.1,-14v14m0.2,-14v14m1.4,-14v14m0.2,-14v14m0.9,-14v14m1.9,-14v14m1.7,-14v14m1.5,-14v14m45.3,-14v14m1.1,-14v14m1.9,-14v14m0.4,-14v14m0.1,-14v14m0.7,-14v14m0.8,-14v14m2.2,-14v14m0.3,-14v14m1.1,-14v14m0.9,-14v14m4.1,-14v14m0.9,-14v14m0.3,-14v14m0.7,-14v14m0,-14v14m0.4,-14v14m1,-14v14m0.6,-14v14m0.2,-14v14m0.2,-14v14m0.1,-14v14m0.5,-14v14m0.4,-14v14m0.1,-14v14m0.6,-14v14m0.4,-14v14m0,-14v14m0.2,-14v14m0.4,-14v14m0.1,-14v14m0.7,-14v14m1.1,-14v14m0.6,-14v14m1.7,-14v14m0.2,-14v14m0.3,-14v14m0.1,-14v14m0.4,-14v14m0.1,-14v14m0.1,-14v14m0.3,-14v14m0.1,-14v14m0.1,-14v14m0,-14v14m0.6,-14v14m0.4,-14v14m0.7,-14v14m0.2,-14v14m0.4,-14v14m0.4,-14v14m0.1,-14v14m0.8,-14v14m0,-14v14m0.3,-14v14m0.6,-14v14m0.5,-14v14m0.6,-14v14m0,-14v14m0.2,-14v14m0.4,-14v14m0.5,-14v14m1.9,-14v14m0.1,-14v14m0.8,-14v14m0.8,-14v14m0.6,-14v14m0.4,-14v14m0.1,-14v14m0.1,-14v14m0.3,-14v14m0.2,-14v14m0.5,-14v14m0.6,-14v14m0.4,-14v14m0.1,-14v14m0.1,-14v14m0.2,-14v14m0.4,-14v14m0,-14v14m0.5,-14v14m0.7,-14v14m0.2,-14v14m0.6,-14v14m0.3,-14v14m1.7,-14v14m1.6,-14v14m0.4,-14v14m1,-14v14m1.2,-14v14m0.1,-14v14m8.8,-14v14m3.5,-14v14m12,-14v14m0.3,-14v14m0.1,-14v14m0.1,-14v14m0.2,-14v14m2.4,-14v14m0.1,-14v14m0.2,-14v14m0.3,-14v14m1,-14v14m3,-14v14m1,-14v14m0.1,-14v14m0.3,-14v14m0.2,-14v14m0.4,-14v14m1.2,-14v14m0.4,-14v14m0.5,-14v14m0.1,-14v14m0.3,-14v14m0.1,-14v14m0.3,-14v14m0.1,-14v14m0.1,-14v14m0.2,-14v14m0.2,-14v14m0.2,-14v14m0.3,-14v14m0.5,-14v14m0.6,-14v14m0.9,-14v14m0.2,-14v14m0.1,-14v14m0.3,-14v14m1.2,-14v14m0.2,-14v14m1,-14v14m0.3,-14v14m0,-14v14m0.6,-14v14m0.5,-14v14m1.2,-14v14m0.3,-14v14m1.6,-14v14m0.3,-14v14m0.1,-14v14m0.1,-14v14m0.1,-14v14m0.1,-14v14m0.5,-14v14m0.8,-14v14m0.7,-14v14m0.1,-14v14m0.2,-14v14m0.9,-14v14m0.5,-14v14m0.2,-14v14m0.1,-14v14m0.8,-14v14m0.5,-14v14m1.6,-14v14m0.1,-14v14m0.3,-14v14m0.4,-14v14m0.3,-14v14m0.4,-14v14m0.2,-14v14m0.1,-14v14m0.3,-14v14m0.6,-14v14m0,-14v14m0.1,-14v14m1.2,-14v14m0.5,-14v14m0.3,-14v14m0.4,-14v14m0,-14v14m0,-14v14m0.7,-14v14m0.1,-14v14m0.3,-14v14m0.2,-14v14m0.5,-14v14m0.2,-14v14m0.8,-14v14m0,-14v14m0.2,-14v14m0.1,-14v14m0.1,-14v14m0.2,-14v14m0.1,-14v14m0.8,-14v14m1,-14v14m0.2,-14v14m1.2,-14v14m0,-14v14m2.2,-14v14m0,-14v14m0.6,-14v14" stroke="#000" stroke-opacity="0.62" stroke-width="1" fill="none"/><path d="M3392.4,1566v13.3m0.9,-13.3v13.3m0.4,-13.3v13.3m0.1,-13.3v13.3m1,-13.3v13.3m0.2,-13.3v13.3m0.9,-13.3v13.3m0.5,-13.3v13.3m0.7,-13.3v13.3m0.9,-13.3v13.3m0.6,-13.3v13.3m0.2,-13.3v13.3m0,-13.3v13.3m1.4,-13.3v13.3m0.9,-13.3v13.3m0.7,-13.3v13.3m48,-13.3v13.3m0.3,-13.3v13.3m1.4,-13.3v13.3m0.3,-13.3v13.3m0.2,-13.3v13.3m0.6,-13.3v13.3m2.5,-13.3v13.3m2,-13.3v13.3m1.7,-13.3v13.3m1.4,-13.3v13.3m1.4,-13.3v13.3m0.3,-13.3v13.3m0.3,-13.3v13.3m0.6,-13.3v13.3m0.9,-13.3v13.3m0.1,-13.3v13.3m1.8,-13.3v13.3m0.5,-13.3v13.3m1.4,-13.3v13.3m3.8,-13.3v13.3m1.6,-13.3v13.3m0.5,-13.3v13.3m0.4,-13.3v13.3m0.7,-13.3v13.3m2.3,-13.3v13.3m0.8,-13.3v13.3m0.5,-13.3v13.3m1,-13.3v13.3m0.2,-13.3v13.3m2.9,-13.3v13.3m1.8,-13.3v13.3m0,-13.3v13.3m0.2,-13.3v13.3m2.7,-13.3v13.3m0.9,-13.3v13.3m0.2,-13.3v13.3m1,-13.3v13.3m0.4,-13.3v13.3m0.2,-13.3v13.3m0.3,-13.3v13.3m1.5,-13.3v13.3m0.2,-13.3v13.3m0.3,-13.3v13.3m1.4,-13.3v13.3m1.7,-13.3v13.3m0,-13.3v13.3m2.4,-13.3v13.3m0.7,-13.3v13.3m1.9,-13.3v13.3m0.2,-13.3v13.3m1.3,-13.3v13.3m43.8,-13.3v13.3m0.5,-13.3v13.3m0.1,-13.3v13.3m0.6,-13.3v13.3m1,-13.3v13.3m0,-13.3v13.3m0.6,-13.3v13.3m1.2,-13.3v13.3m1.6,-13.3v13.3m0.1,-13.3v13.3m3,-13.3v13.3m0.2,-13.3v13.3m0.9,-13.3v13.3m0.1,-13.3v13.3m1,-13.3v13.3m2.1,-13.3v13.3m0.8,-13.3v13.3m0.1,-13.3v13.3m0.7,-13.3v13.3m0.8,-13.3v13.3m3.3,-13.3v13.3m1.5,-13.3v13.3m4.4,-13.3v13.3m0.9,-13.3v13.3m1.5,-13.3v13.3m0.3,-13.3v13.3m0.2,-13.3v13.3m1.4,-13.3v13.3m1.2,-13.3v13.3m0,-13.3v13.3m0.2,-13.3v13.3m0,-13.3v13.3m1.2,-13.3v13.3m0.5,-13.3v13.3m0.3,-13.3v13.3m0.1,-13.3v13.3m3.2,-13.3v13.3m0.1,-13.3v13.3m0.9,-13.3v13.3m0.8,-13.3v13.3m0.5,-13.3v13.3m0.5,-13.3v13.3m0,-13.3v13.3m0.5,-13.3v13.3m0.7,-13.3v13.3m0.2,-13.3v13.3m0.8,-13.3v13.3m0.7,-13.3v13.3m1.5,-13.3v13.3m2,-13.3v13.3m2.3,-13.3v13.3m0.2,-13.3v13.3m3,-13.3v13.3m13.5,-13.3v13.3m5.7,-13.3v13.3m0.4,-13.3v13.3m0.7,-13.3v13.3m2.1,-13.3v13.3m1,-13.3v13.3m1.8,-13.3v13.3m0.1,-13.3v13.3m0.7,-13.3v13.3m0.4,-13.3v13.3m2.5,-13.3v13.3m0.3,-13.3v13.3m0.1,-13.3v13.3m2.9,-13.3v13.3m0.6,-13.3v13.3m0.7,-13.3v13.3m0.1,-13.3v13.3m0.5,-13.3v13.3m1.6,-13.3v13.3m1.1,-13.3v13.3m0.2,-13.3v13.3m1.3,-13.3v13.3m0.1,-13.3v13.3m1.1,-13.3v13.3m0,-13.3v13.3m0.8,-13.3v13.3m1.9,-13.3v13.3m0.4,-13.3v13.3m0.6,-13.3v13.3m2.2,-13.3v13.3m0,-13.3v13.3m0.2,-13.3v13.3m0.3,-13.3v13.3m1.4,-13.3v13.3m3.4,-13.3v13.3m0.5,-13.3v13.3m3,-13.3v13.3m0.5,-13.3v13.3m1.7,-13.3v13.3m0.2,-13.3v13.3m0.4,-13.3v13.3m1,-13.3v13.3m1,-13.3v13.3m1.3,-13.3v13.3m0.4,-13.3v13.3m4.2,-13.3v13.3m0.6,-13.3v13.3" stroke="#e8392a" stroke-opacity="0.7" stroke-width="1" fill="none"/><path d="M3392.3,1538.6l1.6,0.3 1.6,0.9 6.3,6.4 3.2,2.7 3.2,1.5 3.1,0 3.2,-1.4 1.6,-1.1 3.2,-3.4 3.1,-4.6 6.4,-10.3 3.2,-3.8 1.5,-1.3 1.6,-0.7 1.6,-0.2 1.6,0.3 6.4,2.4 3.1,0.3 11.1,-1.9 1.6,-0.7 1.6,-1.5 1.6,-2.4 1.6,-3.7 1.6,-5.1 3.1,-14.1 6.4,-34.5 1.6,-6.7 1.6,-4.6 1.5,-2.3 1.6,0.4 1.6,2.9 1.6,5.4 3.2,16.2 4.7,29.9 3.2,17.6 3.2,13.3 1.6,4.8 3.1,6.7 1.6,2.1 3.2,2.6 3.2,1.1 3.1,0.5 9.6,0.2 11.1,-0.2 4.7,-0.8 3.2,-1.6 1.6,-1.4 1.6,-2 1.6,-2.8 3.1,-8.7 1.6,-6.2 1.6,-7.7 3.2,-19.5 6.3,-48.2 3.2,-19.7 1.6,-6.4 1.6,-3.5 1.6,-0.4 1.5,2.9 1.6,5.9 1.6,8.5 9.5,69.3 3.2,17.3 1.6,6.6 3.2,9.1 1.6,3 1.5,2.1 1.6,1.5 1.6,1 3.2,0.9 3.2,-0.1 3.1,-1.1 3.2,-2.7 1.6,-2.1 1.6,-2.9 3.2,-8.8 1.5,-6.1 1.6,-7.4 3.2,-18.7 9.5,-68.9 1.6,-8.3 1.6,-6 1.6,-3.2 1.6,-0.3 1.6,2.6 1.5,5.5 1.6,7.8 3.2,21.1 6.3,47.6 3.2,19.2 3.2,14 3.2,9.2 1.6,3.1 3.1,4 1.6,1.1 3.2,1.4 3.2,0.6 4.7,0.3 25.4,0.1" stroke="#1a1a1a" stroke-width="1.9" fill="none" stroke-linejoin="round"/><path d="M3392.3,1536.9l3.2,0.4 4.7,1.5 15.9,8.8 4.8,1.9 4.7,1.2 4.8,0.1 4.7,-1.1 3.2,-1.8 3.2,-2.9 3.2,-4.5 1.5,-2.8 4.8,-11.7 4.8,-16.1 7.9,-32.3 3.2,-11.7 3.1,-9.1 1.6,-3.2 1.6,-2.2 1.6,-1 1.6,0 1.6,1.3 1.6,2.3 3.1,7.6 3.2,10.7 7.9,31.3 3.2,11.2 4.8,13.1 1.6,3.3 3.1,5 1.6,1.7 3.2,2.4 1.6,0.7 3.1,0.7 19.1,1 3.2,-0.3 3.1,-1.2 3.2,-2.8 3.2,-5.1 3.2,-7.8 1.5,-5.1 4.8,-20.1 7.9,-42.5 3.2,-15.2 3.2,-11.2 1.6,-3.5 1.5,-1.8 1.6,-0.2 1.6,1.5 1.6,3.1 3.2,10.5 3.2,14.6 7.9,41.3 4.7,19.3 3.2,8.9 1.6,3.4 3.2,4.5 1.6,1.3 1.6,0.8 1.5,0.2 1.6,-0.4 1.6,-0.8 3.2,-3.2 3.2,-5.2 3.1,-7 9.5,-25.7 3.2,-6.9 1.6,-2.5 1.6,-1.8 1.6,-0.9 1.6,-0.1 1.6,0.8 1.5,1.6 3.2,5.5 3.2,7.8 7.9,22.9 3.2,8.1 3.2,6.7 1.6,2.7 3.1,4.4 4.8,4.3 3.2,1.8 4.7,1.8 4.8,1.3 6.3,1.1 6.4,0.7 7.9,0.4" stroke="#e8392a" stroke-width="1.9" fill="none" stroke-linejoin="round"/><path d="M3392.3,1552.8l23.8,0 1.6,-12.2 12.7,0 11.1,-2.9 1.6,15.1 65,0 1.6,-22 9.5,3.7 9.5,-2.4 6.4,-6.4 1.6,7.1 1.6,20 130.1,0 3.1,-24.4 6.4,4.4 15.8,1 1.6,11.9 1.6,7.1 12.7,0" stroke="#3a8f28" stroke-width="1.7" fill="none" stroke-linejoin="round"/></g><rect x="3376.3" y="1406.7" width="349.7" height="174.0" fill="none" stroke="#777" stroke-width="1.3"/><path d="M3392.3,1580.7v4.5M3455.8,1580.7v4.5M3519.2,1580.7v4.5M3582.7,1580.7v4.5M3646.1,1580.7v4.5M3709.6,1580.7v4.5M3376.3,1552.8h-4.5M3376.3,1504.0h-4.5M3376.3,1455.2h-4.5" stroke="#444" stroke-width="1.1" fill="none"/><text x="3392.3" y="1598.8" text-anchor="middle">0</text><text x="3455.8" y="1598.8" text-anchor="middle">20</text><text x="3519.2" y="1598.8" text-anchor="middle">40</text><text x="3582.7" y="1598.8" text-anchor="middle">60</text><text x="3646.1" y="1598.8" text-anchor="middle">80</text><text x="3709.6" y="1598.8" text-anchor="middle">100</text><text x="3368.8" y="1558.0" text-anchor="end">0</text><text x="3368.8" y="1509.2" text-anchor="end">2</text><text x="3368.8" y="1460.4" text-anchor="end">4</text><text x="3551.2" y="1616.2" text-anchor="middle">Input: t</text><text transform="translate(3354.7,1493.7) rotate(-90)" text-anchor="middle">Intensity: λ(t)</text></g><g font-size="14.6"><clipPath id="c3777_1406"><rect x="3777.3" y="1406.7" width="349.7" height="174.0"/></clipPath><g clip-path="url(#c3777_1406)"><path d="M3793.3,1443l3.2,-2.7 1.6,-0.7 1.5,-0.1 1.6,0.3 1.6,0.7 3.2,2.7 3.2,4.1 3.1,5.2 14.3,28.4 7.9,13.9 4.8,6.7 3.2,3.5 3.2,2.7 3.1,1.6 3.2,0.3 1.6,-0.5 1.6,-0.9 3.1,-2.9 4.8,-7.2 7.9,-15.1 3.2,-4.8 1.6,-1.7 1.6,-1.1 1.6,-0.5 1.6,0.2 1.5,0.9 1.6,1.6 1.6,2.2 3.2,6.3 11.1,29.6 3.2,7.3 3.1,5.8 3.2,4.3 3.2,2.8 3.2,1.6 1.5,0.4 3.2,0.2 4.8,-1.2 3.2,-1.9 1.5,-1.4 3.2,-3.8 1.6,-2.5 3.2,-6.3 3.1,-8.2 3.2,-9.8 11.1,-41.4 3.2,-10.6 3.2,-8.3 1.6,-3.1 1.5,-2.4 1.6,-1.5 1.6,-0.6 1.6,0.2 1.6,1 1.6,1.8 1.6,2.5 3.1,6.7 9.6,24.2 3.1,6.5 3.2,4.8 3.2,3.2 3.1,1.9 3.2,1 3.2,0.3 3.2,-0.5 3.1,-1.4 3.2,-2.9 1.6,-2.1 3.2,-5.6 3.1,-7.4 8,-22.2 3.1,-7.7 3.2,-5.6 1.6,-1.7 1.6,-0.9 1.6,0 1.6,0.9 1.6,1.7 1.5,2.5 3.2,7.3 4.8,15.1 11.1,39.6 4.7,13.2 4.8,9.5 4.8,6.3 3.1,2.9 3.2,2.2 4.8,2.7 7.9,3.6 6.3,2.3 4.8,1.2 0,8.4 -4.8,-1.5 -4.7,-2.1 -8,-4.6 -6.3,-4.9 -4.8,-4.8 -4.7,-6.6 -4.8,-9.1 -4.7,-12.4 -4.8,-15.6 -9.5,-34.5 -3.2,-9.7 -3.2,-7.3 -1.5,-2.5 -1.6,-1.7 -1.6,-0.9 -1.6,0 -1.6,0.9 -1.6,1.7 -3.2,5.6 -3.1,7.7 -8,22.2 -3.1,7.4 -3.2,5.6 -1.6,2.1 -3.2,2.9 -3.1,1.5 -3.2,0.4 -3.2,-0.3 -3.2,-0.9 -3.1,-1.9 -3.2,-3.3 -3.2,-4.8 -3.1,-6.4 -9.6,-24.3 -3.1,-6.6 -1.6,-2.5 -1.6,-1.8 -1.6,-1.1 -1.6,-0.2 -1.6,0.6 -1.6,1.5 -1.5,2.4 -1.6,3.1 -3.2,8.4 -3.2,10.5 -11.1,41.4 -3.2,9.9 -3.1,8.1 -3.2,6.3 -1.6,2.5 -3.2,3.8 -1.5,1.4 -3.2,1.9 -4.8,1.2 -3.2,-0.2 -1.5,-0.4 -3.2,-1.6 -3.2,-2.8 -3.2,-4.2 -3.1,-5.9 -3.2,-7.3 -11.1,-29.6 -3.2,-6.2 -1.6,-2.3 -1.6,-1.6 -1.5,-0.9 -1.6,-0.2 -1.6,0.5 -1.6,1.1 -1.6,1.7 -3.2,4.9 -7.9,15 -4.8,7.2 -3.1,3 -1.6,0.8 -1.6,0.5 -3.2,-0.3 -3.1,-1.5 -3.2,-2.7 -3.2,-3.6 -4.8,-6.7 -7.9,-13.9 -14.3,-28.3 -3.1,-5.3 -3.2,-4.1 -3.2,-2.7 -1.6,-0.7 -1.6,-0.3 -1.5,0.2 -1.6,0.6 -3.2,2.7z" fill="#eaa19e"/><path d="M3794.2,1546.2v14m0.3,-14v14m1.2,-14v14m0.5,-14v14m0.3,-14v14m2.3,-14v14m1.5,-14v14m0.1,-14v14m0.6,-14v14m0.1,-14v14m0.9,-14v14m0.1,-14v14m0.4,-14v14m1.3,-14v14m22,-14v14m2,-14v14m3.8,-14v14m0.8,-14v14m1,-14v14m2.9,-14v14m0.8,-14v14m0.5,-14v14m0.2,-14v14m1.9,-14v14m1.2,-14v14m1,-14v14m11.2,-14v14m0.1,-14v14m0.1,-14v14m0.3,-14v14m4.6,-14v14m1.7,-14v14m0.2,-14v14m2.8,-14v14m0.2,-14v14m0.7,-14v14m0.1,-14v14m0,-14v14m0.9,-14v14m2.3,-14v14m1.8,-14v14m0,-14v14m0.1,-14v14m0.5,-14v14m0.4,-14v14m0.3,-14v14m0,-14v14m0.2,-14v14m0.2,-14v14m0.5,-14v14m0,-14v14m0.2,-14v14m0.2,-14v14m0.6,-14v14m0.2,-14v14m0.3,-14v14m1.3,-14v14m0.7,-14v14m0,-14v14m1.4,-14v14m0.1,-14v14m0.3,-14v14m0.2,-14v14m0.4,-14v14m0.2,-14v14m0.1,-14v14m0.1,-14v14m0.6,-14v14m0,-14v14m1,-14v14m0.5,-14v14m1.3,-14v14m0.2,-14v14m0.6,-14v14m0.7,-14v14m0.2,-14v14m1.4,-14v14m0.1,-14v14m0.1,-14v14m0.5,-14v14m0.2,-14v14m0.1,-14v14m0.2,-14v14m0.2,-14v14m0.6,-14v14m0,-14v14m0.5,-14v14m0.1,-14v14m1.2,-14v14m0.9,-14v14m0.1,-14v14m0.6,-14v14m1.4,-14v14m0.3,-14v14m0.3,-14v14m1.6,-14v14m2.7,-14v14m1.4,-14v14m0.4,-14v14m2.2,-14v14m0.2,-14v14m0.5,-14v14m0.4,-14v14m0.9,-14v14m0.9,-14v14m46,-14v14m1.1,-14v14m2.2,-14v14m0.3,-14v14m0.2,-14v14m0.5,-14v14m2.7,-14v14m0.1,-14v14m0.4,-14v14m0.3,-14v14m1.6,-14v14m2.5,-14v14m1.1,-14v14m0.3,-14v14m0.8,-14v14m0.5,-14v14m1.3,-14v14m0.6,-14v14m0,-14v14m0.2,-14v14m0.9,-14v14m0.7,-14v14m0.7,-14v14m0,-14v14m0.2,-14v14m0.2,-14v14m0,-14v14m0.6,-14v14m0.2,-14v14m0.3,-14v14m0.1,-14v14m0.2,-14v14m0.2,-14v14m0.4,-14v14m0.2,-14v14m1.4,-14v14m0.1,-14v14m0,-14v14m0,-14v14m0.6,-14v14m0.5,-14v14m0,-14v14m0.2,-14v14m0.3,-14v14m0.2,-14v14m0.1,-14v14m0.1,-14v14m1.2,-14v14m0.1,-14v14m0.3,-14v14m0.3,-14v14m0.6,-14v14m0.2,-14v14m0.1,-14v14m0.1,-14v14m0.4,-14v14m0.1,-14v14m0.1,-14v14m0.4,-14v14m0.4,-14v14m1.7,-14v14m0.1,-14v14m0,-14v14m1.3,-14v14m0.4,-14v14m0.6,-14v14m0.1,-14v14m0.5,-14v14m0.6,-14v14m0.4,-14v14m0.2,-14v14m0.6,-14v14m0.2,-14v14m0.2,-14v14m0,-14v14m0.3,-14v14m0.2,-14v14m0.5,-14v14m2.5,-14v14m0,-14v14m0.2,-14v14m0.5,-14v14m0.3,-14v14m0.3,-14v14m0.9,-14v14m2.4,-14v14m0.5,-14v14m1.7,-14v14m0.2,-14v14m1.5,-14v14m0.6,-14v14m15.8,-14v14m1,-14v14m6.1,-14v14m0,-14v14m0.7,-14v14m0.3,-14v14m0.9,-14v14m3,-14v14m0.2,-14v14m1,-14v14m0.4,-14v14m0.9,-14v14m0.6,-14v14m0.7,-14v14m0.2,-14v14m0.8,-14v14m0.5,-14v14m2,-14v14m0.1,-14v14m0.1,-14v14m0.2,-14v14m0.5,-14v14m1,-14v14m0.4,-14v14m0.7,-14v14m0,-14v14m1,-14v14m0.2,-14v14m0.7,-14v14m0.2,-14v14m0.6,-14v14m0.4,-14v14m0,-14v14m0.2,-14v14m0.3,-14v14m0.6,-14v14m0.3,-14v14m0.9,-14v14m0.5,-14v14m0.1,-14v14m0.4,-14v14m0.1,-14v14m0.9,-14v14m0.1,-14v14m0.2,-14v14m0.3,-14v14m0.2,-14v14m0,-14v14m0.2,-14v14m0.2,-14v14m0.1,-14v14m0.1,-14v14m0.5,-14v14m0.1,-14v14m0.3,-14v14m0.5,-14v14m0,-14v14m0.3,-14v14m1.4,-14v14m0,-14v14m0.5,-14v14m0.4,-14v14m0,-14v14m0.6,-14v14m0.3,-14v14m0.1,-14v14m0.5,-14v14m0.3,-14v14m0.8,-14v14m0.7,-14v14m1,-14v14m0.1,-14v14m0.2,-14v14m0.2,-14v14m0.1,-14v14m0,-14v14m1.1,-14v14m0.1,-14v14m0.3,-14v14m0.1,-14v14m0,-14v14m0.6,-14v14m0.1,-14v14m0.6,-14v14m0.3,-14v14m0.1,-14v14m0.1,-14v14m0.2,-14v14m0.9,-14v14m0.9,-14v14m0.4,-14v14m0.3,-14v14m0.6,-14v14m0.3,-14v14m0.1,-14v14m2.4,-14v14m2.3,-14v14m0.4,-14v14m0.5,-14v14m0.8,-14v14m0.6,-14v14m1,-14v14" stroke="#000" stroke-opacity="0.62" stroke-width="1" fill="none"/><path d="M3795.2,1566v13.3m0.3,-13.3v13.3m2.4,-13.3v13.3m1.5,-13.3v13.3m0.1,-13.3v13.3m0,-13.3v13.3m0.1,-13.3v13.3m0.1,-13.3v13.3m0.3,-13.3v13.3m0.1,-13.3v13.3m0.1,-13.3v13.3m0.2,-13.3v13.3m0.6,-13.3v13.3m0.3,-13.3v13.3m1.2,-13.3v13.3m0.2,-13.3v13.3m32.2,-13.3v13.3m0.6,-13.3v13.3m0.8,-13.3v13.3m1.8,-13.3v13.3m2.7,-13.3v13.3m1.1,-13.3v13.3m0.1,-13.3v13.3m0.4,-13.3v13.3m0.9,-13.3v13.3m13.7,-13.3v13.3m0.4,-13.3v13.3m0.1,-13.3v13.3m0.1,-13.3v13.3m1,-13.3v13.3m0.5,-13.3v13.3m0.3,-13.3v13.3m1.4,-13.3v13.3m0.2,-13.3v13.3m0.6,-13.3v13.3m0.8,-13.3v13.3m0.2,-13.3v13.3m0.3,-13.3v13.3m1.1,-13.3v13.3m1.7,-13.3v13.3m1.2,-13.3v13.3m1.4,-13.3v13.3m0.7,-13.3v13.3m2.1,-13.3v13.3m0.8,-13.3v13.3m3.3,-13.3v13.3m1.2,-13.3v13.3m0.4,-13.3v13.3m0.5,-13.3v13.3m0.7,-13.3v13.3m1.4,-13.3v13.3m4.1,-13.3v13.3m0.3,-13.3v13.3m0.3,-13.3v13.3m0.8,-13.3v13.3m1.8,-13.3v13.3m0.6,-13.3v13.3m0.1,-13.3v13.3m1.9,-13.3v13.3m1.2,-13.3v13.3m0.2,-13.3v13.3m0.3,-13.3v13.3m0.5,-13.3v13.3m0.2,-13.3v13.3m1.9,-13.3v13.3m1.7,-13.3v13.3m2.2,-13.3v13.3m0.6,-13.3v13.3m2.4,-13.3v13.3m0.7,-13.3v13.3m0.2,-13.3v13.3m1.4,-13.3v13.3m0.6,-13.3v13.3m42.7,-13.3v13.3m0.2,-13.3v13.3m2,-13.3v13.3m0,-13.3v13.3m0.8,-13.3v13.3m2.9,-13.3v13.3m1,-13.3v13.3m3.9,-13.3v13.3m1.7,-13.3v13.3m0.7,-13.3v13.3m0.1,-13.3v13.3m1,-13.3v13.3m1.3,-13.3v13.3m0.2,-13.3v13.3m0.4,-13.3v13.3m0.4,-13.3v13.3m1.5,-13.3v13.3m0.4,-13.3v13.3m0.5,-13.3v13.3m1,-13.3v13.3m1.1,-13.3v13.3m3.6,-13.3v13.3m0.3,-13.3v13.3m1.2,-13.3v13.3m0,-13.3v13.3m0.2,-13.3v13.3m1.1,-13.3v13.3m0.7,-13.3v13.3m0.2,-13.3v13.3m1.2,-13.3v13.3m0.3,-13.3v13.3m0.8,-13.3v13.3m0.7,-13.3v13.3m0.5,-13.3v13.3m2.5,-13.3v13.3m0,-13.3v13.3m0.5,-13.3v13.3m0.5,-13.3v13.3m0.4,-13.3v13.3m0.5,-13.3v13.3m0.1,-13.3v13.3m1.3,-13.3v13.3m1.3,-13.3v13.3m0.3,-13.3v13.3m1.6,-13.3v13.3m0.6,-13.3v13.3m0.8,-13.3v13.3m0.5,-13.3v13.3m0.1,-13.3v13.3m1.1,-13.3v13.3m8.3,-13.3v13.3m0.6,-13.3v13.3m4.4,-13.3v13.3m5.2,-13.3v13.3m7.3,-13.3v13.3m7.9,-13.3v13.3m0.1,-13.3v13.3m1.9,-13.3v13.3m0.1,-13.3v13.3m2.9,-13.3v13.3m1.6,-13.3v13.3m0.4,-13.3v13.3m0.1,-13.3v13.3m0.4,-13.3v13.3m0.3,-13.3v13.3m1.2,-13.3v13.3m0.1,-13.3v13.3m1,-13.3v13.3m0.9,-13.3v13.3m3.5,-13.3v13.3m0.7,-13.3v13.3m1.9,-13.3v13.3m2.7,-13.3v13.3m0.3,-13.3v13.3m0.5,-13.3v13.3m2,-13.3v13.3m0.2,-13.3v13.3m1.5,-13.3v13.3m0.5,-13.3v13.3m0.4,-13.3v13.3m0.3,-13.3v13.3m0.5,-13.3v13.3m0.8,-13.3v13.3m3.4,-13.3v13.3m0.3,-13.3v13.3m0.8,-13.3v13.3m2.4,-13.3v13.3m0,-13.3v13.3m1,-13.3v13.3m0.9,-13.3v13.3m0.3,-13.3v13.3m0.4,-13.3v13.3m0.1,-13.3v13.3m0.2,-13.3v13.3m1,-13.3v13.3m0.9,-13.3v13.3m0.7,-13.3v13.3m0.9,-13.3v13.3m0.1,-13.3v13.3m0.4,-13.3v13.3m0.8,-13.3v13.3m0.9,-13.3v13.3m3.1,-13.3v13.3" stroke="#e8392a" stroke-opacity="0.7" stroke-width="1" fill="none"/><path d="M3793.3,1538.6l1.6,0.3 1.6,0.9 6.3,6.4 3.2,2.7 3.2,1.5 3.1,0 3.2,-1.4 1.6,-1.1 3.2,-3.4 3.1,-4.6 6.4,-10.3 3.2,-3.8 1.5,-1.3 1.6,-0.7 1.6,-0.2 1.6,0.3 6.4,2.4 3.1,0.3 11.1,-1.9 1.6,-0.7 1.6,-1.5 1.6,-2.4 1.6,-3.7 1.6,-5.1 3.1,-14.1 6.4,-34.5 1.6,-6.7 1.6,-4.6 1.5,-2.3 1.6,0.4 1.6,2.9 1.6,5.4 3.2,16.2 4.7,29.9 3.2,17.6 3.2,13.3 1.6,4.8 3.1,6.7 1.6,2.1 3.2,2.6 3.2,1.1 3.1,0.5 9.6,0.2 11.1,-0.2 4.7,-0.8 3.2,-1.6 1.6,-1.4 1.6,-2 1.6,-2.8 3.1,-8.7 1.6,-6.2 1.6,-7.7 3.2,-19.5 6.3,-48.2 3.2,-19.7 1.6,-6.4 1.6,-3.5 1.6,-0.4 1.5,2.9 1.6,5.9 1.6,8.5 9.5,69.3 3.2,17.3 1.6,6.6 3.2,9.1 1.6,3 1.5,2.1 1.6,1.5 1.6,1 3.2,0.9 3.2,-0.1 3.1,-1.1 3.2,-2.7 1.6,-2.1 1.6,-2.9 3.2,-8.8 1.5,-6.1 1.6,-7.4 3.2,-18.7 9.5,-68.9 1.6,-8.3 1.6,-6 1.6,-3.2 1.6,-0.3 1.6,2.6 1.5,5.5 1.6,7.8 3.2,21.1 6.3,47.6 3.2,19.2 3.2,14 3.2,9.2 1.6,3.1 3.1,4 1.6,1.1 3.2,1.4 3.2,0.6 4.7,0.3 25.4,0.1" stroke="#1a1a1a" stroke-width="1.9" fill="none" stroke-linejoin="round"/><path d="M3793.3,1444.2l3.2,-2.7 1.6,-0.6 1.5,-0.2 1.6,0.3 1.6,0.7 3.2,2.7 3.2,4.1 3.1,5.3 14.3,28.3 7.9,13.9 4.8,6.7 3.2,3.6 3.2,2.7 3.1,1.5 3.2,0.3 1.6,-0.5 1.6,-0.8 3.1,-3 4.8,-7.2 7.9,-15 3.2,-4.9 1.6,-1.7 1.6,-1.1 1.6,-0.5 1.6,0.2 1.5,0.9 1.6,1.6 1.6,2.3 3.2,6.2 11.1,29.6 3.2,7.3 3.1,5.9 3.2,4.2 3.2,2.8 3.2,1.6 1.5,0.4 3.2,0.2 4.8,-1.2 3.2,-1.9 1.5,-1.4 3.2,-3.8 1.6,-2.5 3.2,-6.3 3.1,-8.1 3.2,-9.9 11.1,-41.4 3.2,-10.5 3.2,-8.4 1.6,-3.1 1.5,-2.4 1.6,-1.5 1.6,-0.6 1.6,0.2 1.6,1.1 1.6,1.8 1.6,2.5 3.1,6.6 9.6,24.3 3.1,6.4 3.2,4.8 3.2,3.3 3.1,1.9 3.2,0.9 3.2,0.3 3.2,-0.4 3.1,-1.5 3.2,-2.9 1.6,-2.1 3.2,-5.6 3.1,-7.4 8,-22.2 3.1,-7.7 3.2,-5.6 1.6,-1.7 1.6,-0.9 1.6,0 1.6,0.9 1.6,1.7 1.5,2.5 3.2,7.3 4.8,15.2 11.1,39.7 4.7,13.5 4.8,10.2 3.2,5.2 3.1,4.1 3.2,3.3 4.8,4.1 4.7,3.3 6.4,3.6 4.7,2.1 4.8,1.5" stroke="#e8392a" stroke-width="1.9" fill="none" stroke-linejoin="round"/><path d="M3793.3,1552.8l317.3,0" stroke="#3a8f28" stroke-width="1.7" fill="none" stroke-linejoin="round"/></g><rect x="3777.3" y="1406.7" width="349.7" height="174.0" fill="none" stroke="#777" stroke-width="1.3"/><path d="M3793.3,1580.7v4.5M3856.8,1580.7v4.5M3920.2,1580.7v4.5M3983.7,1580.7v4.5M4047.1,1580.7v4.5M4110.6,1580.7v4.5M3777.3,1552.8h-4.5M3777.3,1504.0h-4.5M3777.3,1455.2h-4.5" stroke="#444" stroke-width="1.1" fill="none"/><text x="3793.3" y="1598.8" text-anchor="middle">0</text><text x="3856.8" y="1598.8" text-anchor="middle">20</text><text x="3920.2" y="1598.8" text-anchor="middle">40</text><text x="3983.7" y="1598.8" text-anchor="middle">60</text><text x="4047.1" y="1598.8" text-anchor="middle">80</text><text x="4110.6" y="1598.8" text-anchor="middle">100</text><text x="3769.8" y="1558.0" text-anchor="end">0</text><text x="3769.8" y="1509.2" text-anchor="end">2</text><text x="3769.8" y="1460.4" text-anchor="end">4</text><text x="3952.2" y="1616.2" text-anchor="middle">Input: t</text><text transform="translate(3755.7,1493.7) rotate(-90)" text-anchor="middle">Intensity: λ(t)</text></g><g font-size="13.4"><clipPath id="c2620_2379"><rect x="2620.2" y="2379.7" width="324.8" height="120.8"/></clipPath><g clip-path="url(#c2620_2379)"><path d="M2635.2,2449.7l2.6,1.4 10.5,7.3 2.7,1.4 2.6,0.8 2.6,0 3.9,-1.2 2.7,-1.7 1.3,-1.4 1.3,-1.8 2.6,-4.8 4,-10.2 5.2,-19 2.6,-13.2 2.7,-11.3 2.6,-7.6 1.3,-2 1.3,-0.6 1.3,0.6 1.3,2 1.4,3.3 13.1,42 5.2,14.5 4,7.8 1.3,1.8 2.6,2.3 5.3,2.6 3.9,0.8 15.8,0.4 21,3.2 14.4,1.1 13.1,0.3 4,0.7 10.5,2.7 2.6,0.3 4,-0.4 3.9,-1.1 3.9,-1.8 10.5,-7.6 11.9,-10.3 23.6,-21.8 19.7,-15.5 23.6,-16.1 15.8,-8.9 5.2,-2.2 0,94.9 -295.4,0z" fill="#eaa19e"/><path d="M2635.4,2474.4v14m0.2,-14v14m0.7,-14v14m0.5,-14v14m1.1,-14v14m0.9,-14v14m0.3,-14v14m1.2,-14v14m0.4,-14v14m0.5,-14v14m0.3,-14v14m0.3,-14v14m1.6,-14v14m0.1,-14v14m0.8,-14v14m1.3,-14v14m2.9,-14v14m0.3,-14v14m0.9,-14v14m0.3,-14v14m0,-14v14m2.2,-14v14m0.2,-14v14m0,-14v14m0.9,-14v14m0.5,-14v14m0.4,-14v14m0.1,-14v14m0.1,-14v14m0,-14v14m0,-14v14m0.8,-14v14m0.1,-14v14m1.5,-14v14m0.4,-14v14m0.4,-14v14m1,-14v14m0.1,-14v14m0.8,-14v14m1,-14v14m0.6,-14v14m0.4,-14v14m1.5,-14v14m0.2,-14v14m0,-14v14m0.3,-14v14m0.1,-14v14m0.1,-14v14m0,-14v14m1.2,-14v14m0.4,-14v14m0.4,-14v14m0.5,-14v14m0.1,-14v14m1.2,-14v14m0.1,-14v14m0.5,-14v14m0,-14v14m1,-14v14m0.2,-14v14m0.4,-14v14m0.1,-14v14m0,-14v14m0.4,-14v14m0.6,-14v14m0.7,-14v14m0.3,-14v14m0.1,-14v14m0,-14v14m1.8,-14v14m1.6,-14v14m0.2,-14v14m0.2,-14v14m0,-14v14m0,-14v14m0.9,-14v14m0.1,-14v14m0.5,-14v14m0.3,-14v14m1.3,-14v14m0.3,-14v14m0.4,-14v14m0.6,-14v14m2.1,-14v14m0.6,-14v14m1.1,-14v14m0.1,-14v14m0.5,-14v14m0.1,-14v14m1.2,-14v14m1.3,-14v14m0.3,-14v14m0.4,-14v14m2.3,-14v14m0.5,-14v14m1.1,-14v14m0.4,-14v14m1.5,-14v14m1,-14v14m1.1,-14v14m0.2,-14v14m0.1,-14v14m0.4,-14v14m0.7,-14v14m1.9,-14v14m0.1,-14v14m0,-14v14m0.4,-14v14m1.1,-14v14m0.2,-14v14m0.2,-14v14m2.6,-14v14m0.7,-14v14m2.9,-14v14m0.4,-14v14m0.8,-14v14m0.7,-14v14m1.2,-14v14m0.9,-14v14m0.4,-14v14m0.3,-14v14m1.2,-14v14m0.4,-14v14m1.6,-14v14m0.1,-14v14m1.3,-14v14m0.6,-14v14m2.3,-14v14m0.2,-14v14m0.7,-14v14m0.1,-14v14m3.2,-14v14m0.2,-14v14m0.2,-14v14m0.2,-14v14m0.4,-14v14m0.5,-14v14m0.5,-14v14m0.7,-14v14m2.3,-14v14m0.3,-14v14m1,-14v14m0.4,-14v14m1.7,-14v14m2.2,-14v14m0.3,-14v14m0.1,-14v14m0.8,-14v14m0.5,-14v14m0.9,-14v14m0,-14v14m0.6,-14v14m0.2,-14v14m0.3,-14v14m0,-14v14m2.4,-14v14m0.2,-14v14m0.4,-14v14m0,-14v14m0.2,-14v14m1.7,-14v14m0.7,-14v14m0.1,-14v14m0.7,-14v14m0.1,-14v14m0.1,-14v14m0.6,-14v14m0,-14v14m0.2,-14v14m1.4,-14v14m0.3,-14v14m0.1,-14v14m0.6,-14v14m0.5,-14v14m0.8,-14v14m0.1,-14v14m0.9,-14v14m0.4,-14v14m0.4,-14v14m0.2,-14v14m1.4,-14v14m0,-14v14m0.7,-14v14m0.6,-14v14m0.1,-14v14m0.7,-14v14m10,-14v14m3.1,-14v14m10.5,-14v14m3.2,-14v14m7,-14v14m10.3,-14v14m0.2,-14v14m1.9,-14v14m3.4,-14v14m2.6,-14v14m0.4,-14v14m17.6,-14v14m3.7,-14v14m5,-14v14m0.3,-14v14m0.3,-14v14m0.1,-14v14m7.7,-14v14m0.3,-14v14m1.2,-14v14m0.4,-14v14m0.5,-14v14m1.7,-14v14m0.3,-14v14m0,-14v14m0.6,-14v14m0.1,-14v14m0.4,-14v14m0.4,-14v14m0.6,-14v14m0.6,-14v14m0.4,-14v14m1.6,-14v14m0.3,-14v14m1,-14v14m2,-14v14m1.7,-14v14m0.3,-14v14m0.3,-14v14m0.5,-14v14m2.5,-14v14m0.2,-14v14m0.8,-14v14m0.1,-14v14m1.6,-14v14m0.1,-14v14m0.6,-14v14m0.2,-14v14m3.4,-14v14m0.1,-14v14m0.5,-14v14m1,-14v14m1.1,-14v14m1.3,-14v14m0.4,-14v14m0.4,-14v14m0.7,-14v14m0.3,-14v14m2.4,-14v14m0.1,-14v14m24.8,-14v14m4.5,-14v14m16.5,-14v14m0.5,-14v14m1.4,-14v14m2.9,-14v14m3.1,-14v14" stroke="#000" stroke-opacity="0.62" stroke-width="1" fill="none"/><path d="M2679,2489.4v11.1m0.2,-11.1v11.1m0.4,-11.1v11.1m0.3,-11.1v11.1m1.4,-11.1v11.1m2.3,-11.1v11.1m0,-11.1v11.1m0.3,-11.1v11.1m0.2,-11.1v11.1m1.8,-11.1v11.1m1.2,-11.1v11.1m0.2,-11.1v11.1m1.4,-11.1v11.1m0.3,-11.1v11.1m0.3,-11.1v11.1m0.2,-11.1v11.1m1.6,-11.1v11.1m0.2,-11.1v11.1m0,-11.1v11.1m0.2,-11.1v11.1m0.7,-11.1v11.1m2,-11.1v11.1m0.7,-11.1v11.1m1.5,-11.1v11.1m0,-11.1v11.1m0.8,-11.1v11.1m0.2,-11.1v11.1m0.1,-11.1v11.1m0.4,-11.1v11.1m0.2,-11.1v11.1m88.8,-11.1v11.1m0.5,-11.1v11.1m2.1,-11.1v11.1m0.3,-11.1v11.1m0.3,-11.1v11.1m2.2,-11.1v11.1m0.5,-11.1v11.1m0.9,-11.1v11.1m0.1,-11.1v11.1m0.2,-11.1v11.1m1,-11.1v11.1m0.9,-11.1v11.1m5.2,-11.1v11.1m0.1,-11.1v11.1" stroke="#e8392a" stroke-opacity="0.7" stroke-width="1" fill="none"/><path d="M2635.2,2481.4l9.2,0 1.3,-7.9 7.9,0 2.6,-11.7 1.3,-38.3 1.3,-7.6 6.6,0 1.3,52.4 1.3,13.1 185.2,0 1.3,-54.6 1.3,-10.9 52.5,0 1.3,54.6 1.3,10.9 19.7,0" stroke="#3a8f28" stroke-width="1.6" fill="none" stroke-linejoin="round"/><path d="M2635.2,2481.4l13.1,-0.2 4,-0.3 2.6,-0.6 2.6,-1.2 2.6,-1.9 2.7,-3.2 1.3,-2.2 2.6,-6 1.3,-3.8 2.7,-9.5 2.6,-11.7 6.5,-33.5 2.7,-11.3 2.6,-7.6 1.3,-2 1.3,-0.6 1.3,0.6 1.3,2 2.7,7.6 2.6,11.3 7.9,39.6 3.9,15.1 2.6,7.1 2.7,4.9 2.6,3.2 1.3,1.1 2.6,1.5 5.3,1.2 6.5,0.4 23.7,-0.1 9.2,-0.7 5.2,-1.2 4,-1.5 13.1,-7.2 2.6,-0.8 2.6,-0.3 2.7,0.3 3.9,1.4 9.2,5.3 5.3,2.4 5.2,1.4 5.3,0.7 13.1,0.3 94.5,0" stroke="#e8392a" stroke-width="1.9" fill="none" stroke-linejoin="round"/></g><rect x="2620.2" y="2379.7" width="324.8" height="120.8" fill="none" stroke="#777" stroke-width="1.3"/><path d="M2635.2,2500.5v4.5M2687.7,2500.5v4.5M2740.2,2500.5v4.5M2792.8,2500.5v4.5M2845.3,2500.5v4.5M2897.8,2500.5v4.5M2620.2,2481.4h-4.5M2620.2,2448.7h-4.5M2620.2,2415.9h-4.5M2620.2,2383.2h-4.5" stroke="#444" stroke-width="1.1" fill="none"/><text x="2635.2" y="2517.6" text-anchor="middle">0</text><text x="2687.7" y="2517.6" text-anchor="middle">20</text><text x="2740.2" y="2517.6" text-anchor="middle">40</text><text x="2792.8" y="2517.6" text-anchor="middle">60</text><text x="2845.3" y="2517.6" text-anchor="middle">80</text><text x="2897.8" y="2517.6" text-anchor="middle">100</text><text x="2612.7" y="2486.2" text-anchor="end">0.0</text><text x="2612.7" y="2453.4" text-anchor="end">0.5</text><text x="2612.7" y="2420.7" text-anchor="end">1.0</text><text x="2612.7" y="2387.9" text-anchor="end">1.5</text><text x="2782.6" y="2533.8" text-anchor="middle">Input: t</text><text transform="translate(2587.9,2440.1) rotate(-90)" text-anchor="middle">Intensity: λ(t)</text><rect x="2627" y="2386.5" width="103.0" height="61.3" rx="3" fill="#fff" fill-opacity="0.8" stroke="#ccc" stroke-width="1"/><path d="M2632.5,2399.4h28" stroke="#3a8f28" stroke-width="1.8"/><text x="2671.5" y="2404.2">Idle</text><path d="M2632.5,2417.2h28" stroke="#e8392a" stroke-width="1.8"/><text x="2671.5" y="2422.0">Ours</text><rect x="2632.5" y="2429.9" width="28" height="10" fill="#eaa19e"/><text x="2671.5" y="2439.7">Variance</text></g><g font-size="13.4"><clipPath id="c2620_2614"><rect x="2620.2" y="2614.4" width="324.8" height="120.7"/></clipPath><g clip-path="url(#c2620_2614)"><path d="M2635.2,2684.4l2.6,1.4 10.5,7.3 2.7,1.4 2.6,0.8 2.6,0 3.9,-1.2 2.7,-1.7 1.3,-1.4 1.3,-1.8 2.6,-4.8 4,-10.2 5.2,-19 2.6,-13.2 2.7,-11.3 2.6,-7.6 1.3,-2 1.3,-0.6 1.3,0.6 1.3,2 1.4,3.3 13.1,42 5.2,14.5 4,7.8 1.3,1.8 2.6,2.3 5.3,2.6 3.9,0.8 15.8,0.4 21,3.2 14.4,1.1 13.1,0.3 4,0.7 10.5,2.7 2.6,0.3 4,-0.4 3.9,-1.1 3.9,-1.8 10.5,-7.6 11.9,-10.3 23.6,-21.8 19.7,-15.5 23.6,-16.1 15.8,-8.9 5.2,-2.2 0,94.9 -295.4,0z" fill="#eaa19e"/><path d="M2636.1,2709.1v14m0.4,-14v14m0.1,-14v14m0.7,-14v14m0.5,-14v14m0.4,-14v14m0.1,-14v14m1.2,-14v14m0.5,-14v14m0.9,-14v14m0.1,-14v14m0.2,-14v14m0.4,-14v14m0.4,-14v14m0.7,-14v14m1.3,-14v14m4.7,-14v14m0.1,-14v14m0.7,-14v14m0.1,-14v14m0.1,-14v14m3.1,-14v14m0.6,-14v14m1.5,-14v14m0,-14v14m0.5,-14v14m2.3,-14v14m1.2,-14v14m0.1,-14v14m0.7,-14v14m0.2,-14v14m0.2,-14v14m1.2,-14v14m0.6,-14v14m1.9,-14v14m1,-14v14m0.2,-14v14m0,-14v14m0.2,-14v14m1.3,-14v14m0,-14v14m1.2,-14v14m0.2,-14v14m0.4,-14v14m0.9,-14v14m0.9,-14v14m1.8,-14v14m0.4,-14v14m1.4,-14v14m0.4,-14v14m2.5,-14v14m2,-14v14m0.6,-14v14m0.3,-14v14m0.3,-14v14m0.9,-14v14m0,-14v14m0.3,-14v14m0.4,-14v14m0.8,-14v14m0.4,-14v14m0.2,-14v14m1.4,-14v14m0.6,-14v14m0.9,-14v14m0.1,-14v14m0,-14v14m0.1,-14v14m0.5,-14v14m1.8,-14v14m0.5,-14v14m0.4,-14v14m0.1,-14v14m0.4,-14v14m0.2,-14v14m0.1,-14v14m1.1,-14v14m1.1,-14v14m0,-14v14m0.7,-14v14m0.3,-14v14m0.6,-14v14m1.4,-14v14m0,-14v14m0,-14v14m0.5,-14v14m0.8,-14v14m0.6,-14v14m1.2,-14v14m0.7,-14v14m1.2,-14v14m0.5,-14v14m0.6,-14v14m0.1,-14v14m0,-14v14m0.2,-14v14m0.5,-14v14m0.7,-14v14m0.1,-14v14m0,-14v14m0.5,-14v14m0.1,-14v14m0,-14v14m0.5,-14v14m0.3,-14v14m0.5,-14v14m0.2,-14v14m0.7,-14v14m1.6,-14v14m0.2,-14v14m0.1,-14v14m0.5,-14v14m0.4,-14v14m0.8,-14v14m0.2,-14v14m0,-14v14m0.1,-14v14m0.7,-14v14m0.4,-14v14m0,-14v14m0.1,-14v14m0.9,-14v14m0.9,-14v14m0.4,-14v14m0.6,-14v14m0,-14v14m0.4,-14v14m0.9,-14v14m0.5,-14v14m0.7,-14v14m1.1,-14v14m2.3,-14v14m0.8,-14v14m0.1,-14v14m0.9,-14v14m0.5,-14v14m0.1,-14v14m1.9,-14v14m1.5,-14v14m1.3,-14v14m0.4,-14v14m0,-14v14m0.5,-14v14m1.7,-14v14m0,-14v14m0.7,-14v14m0.6,-14v14m0.2,-14v14m1.1,-14v14m0.1,-14v14m0.2,-14v14m0.1,-14v14m2,-14v14m1,-14v14m0.5,-14v14m0.1,-14v14m0.2,-14v14m0.3,-14v14m1.3,-14v14m0.4,-14v14m0.1,-14v14m0.7,-14v14m0,-14v14m1.3,-14v14m0.9,-14v14m0.1,-14v14m0.2,-14v14m0.7,-14v14m0.9,-14v14m0.7,-14v14m1.7,-14v14m0.4,-14v14m0.6,-14v14m0,-14v14m2.9,-14v14m1.2,-14v14m0.1,-14v14m0.3,-14v14m0.2,-14v14m1.5,-14v14m1,-14v14m0.2,-14v14m0.4,-14v14m0.3,-14v14m0.1,-14v14m0.1,-14v14m12,-14v14m3.6,-14v14m5.2,-14v14m2.9,-14v14m1.4,-14v14m0.2,-14v14m5.1,-14v14m6.9,-14v14m7,-14v14m2.9,-14v14m7,-14v14m16.6,-14v14m3.6,-14v14m2.5,-14v14m1,-14v14m2.6,-14v14m0.7,-14v14m4.9,-14v14m1.3,-14v14m1.9,-14v14m0.4,-14v14m0.7,-14v14m1.7,-14v14m0.3,-14v14m1.7,-14v14m0.4,-14v14m0.2,-14v14m1,-14v14m0.6,-14v14m0.1,-14v14m0.1,-14v14m0,-14v14m1.3,-14v14m0.3,-14v14m0.4,-14v14m0.2,-14v14m0.2,-14v14m0.9,-14v14m0.3,-14v14m0.3,-14v14m0.9,-14v14m0.2,-14v14m0.4,-14v14m2.8,-14v14m0.4,-14v14m1.3,-14v14m0.9,-14v14m1.4,-14v14m2.1,-14v14m1.9,-14v14m2.5,-14v14m0.8,-14v14m0.3,-14v14m1,-14v14m0.7,-14v14m0.8,-14v14m1.1,-14v14m0.7,-14v14m0.3,-14v14m0.4,-14v14m13,-14v14m1.6,-14v14m1.2,-14v14m5.1,-14v14m7.8,-14v14m11.7,-14v14m5.7,-14v14" stroke="#000" stroke-opacity="0.62" stroke-width="1" fill="none"/><path d="M2681,2724.1v11m0.2,-11v11m0.5,-11v11m1,-11v11m0.1,-11v11m0.3,-11v11m0.4,-11v11m0.3,-11v11m0.2,-11v11m1.7,-11v11m0.3,-11v11m0.1,-11v11m0.2,-11v11m1.4,-11v11m1,-11v11m0.2,-11v11m0.6,-11v11m0.5,-11v11m0.4,-11v11m0.4,-11v11m1,-11v11m1,-11v11m0.3,-11v11m1,-11v11m0.7,-11v11m0.6,-11v11m0.8,-11v11m0.5,-11v11m1.1,-11v11m0.1,-11v11m88.1,-11v11m0.4,-11v11m0.3,-11v11m1.2,-11v11m2.1,-11v11m0.2,-11v11m0,-11v11m0.2,-11v11m0.7,-11v11m0.4,-11v11m1.9,-11v11m1.1,-11v11m1.7,-11v11m3.2,-11v11" stroke="#e8392a" stroke-opacity="0.7" stroke-width="1" fill="none"/><path d="M2635.2,2716.1l6.6,0 1.3,-1.1 1.3,-22.5 1.3,-41.9 1.3,41.9 1.3,22.5 1.3,1.1 60.4,-0.1 1.4,-0.5 1.3,-1.9 2.6,-9.4 1.3,-2.5 1.3,2.5 2.6,9.4 1.4,1.9 1.3,0.5 1.3,0.1 118.2,0 1.3,-0.3 1.3,-1.2 2.6,-6.3 1.3,-0.4 2.6,6.2 1.4,1.6 1.3,0.3 76.1,0.1" stroke="#3a8f28" stroke-width="1.6" fill="none" stroke-linejoin="round"/><path d="M2635.2,2716.1l13.1,-0.2 4,-0.3 2.6,-0.6 2.6,-1.2 2.6,-1.9 2.7,-3.2 1.3,-2.2 2.6,-6 1.3,-3.8 2.7,-9.5 2.6,-11.7 6.5,-33.5 2.7,-11.3 2.6,-7.6 1.3,-2 1.3,-0.6 1.3,0.6 1.3,2 2.7,7.6 2.6,11.3 7.9,39.6 3.9,15.1 2.6,7.1 2.7,4.9 2.6,3.2 1.3,1.1 2.6,1.5 5.3,1.2 6.5,0.4 23.7,-0.1 9.2,-0.7 5.2,-1.2 4,-1.5 13.1,-7.2 2.6,-0.8 2.6,-0.3 2.7,0.3 3.9,1.4 9.2,5.3 5.3,2.4 5.2,1.4 5.3,0.7 13.1,0.3 94.5,0" stroke="#e8392a" stroke-width="1.9" fill="none" stroke-linejoin="round"/></g><rect x="2620.2" y="2614.4" width="324.8" height="120.7" fill="none" stroke="#777" stroke-width="1.3"/><path d="M2635.2,2735.1v4.5M2687.7,2735.1v4.5M2740.2,2735.1v4.5M2792.8,2735.1v4.5M2845.3,2735.1v4.5M2897.8,2735.1v4.5M2620.2,2716.1h-4.5M2620.2,2683.3h-4.5M2620.2,2650.6h-4.5M2620.2,2617.8h-4.5" stroke="#444" stroke-width="1.1" fill="none"/><text x="2635.2" y="2752.2" text-anchor="middle">0</text><text x="2687.7" y="2752.2" text-anchor="middle">20</text><text x="2740.2" y="2752.2" text-anchor="middle">40</text><text x="2792.8" y="2752.2" text-anchor="middle">60</text><text x="2845.3" y="2752.2" text-anchor="middle">80</text><text x="2897.8" y="2752.2" text-anchor="middle">100</text><text x="2612.7" y="2720.9" text-anchor="end">0.0</text><text x="2612.7" y="2688.1" text-anchor="end">0.5</text><text x="2612.7" y="2655.4" text-anchor="end">1.0</text><text x="2612.7" y="2622.6" text-anchor="end">1.5</text><text x="2782.6" y="2768.4" text-anchor="middle">Input: t</text><text transform="translate(2587.9,2674.8) rotate(-90)" text-anchor="middle">Intensity: λ(t)</text><rect x="2627" y="2621.2" width="103.0" height="61.3" rx="3" fill="#fff" fill-opacity="0.8" stroke="#ccc" stroke-width="1"/><path d="M2632.5,2634.1h28" stroke="#3a8f28" stroke-width="1.8"/><text x="2671.5" y="2638.9">CPD</text><path d="M2632.5,2651.8h28" stroke="#e8392a" stroke-width="1.8"/><text x="2671.5" y="2656.7">Ours</text><rect x="2632.5" y="2664.6" width="28" height="10" fill="#eaa19e"/><text x="2671.5" y="2674.4">Variance</text></g><g font-size="13.4"><clipPath id="c2994_2374"><rect x="2994.7" y="2374.3" width="336.3" height="126.2"/></clipPath><g clip-path="url(#c2994_2374)"><path d="M3010.3,2478.9l4.1,-2.3 4.1,-3.7 4,-5.8 2.7,-5.4 2.8,-6.5 4,-12 10.9,-39.5 4.1,-12.8 2.7,-6.4 1.4,-2.3 1.3,-1.7 1.4,-1 1.3,-0.4 1.4,0.4 1.4,1 1.3,1.7 1.4,2.3 2.7,6.4 4.1,12.9 8.1,30.5 4.1,14.1 4.1,11.7 2.7,6.3 4.1,7.3 4.1,4.9 4,3 5.5,2.3 4,0.8 4.1,0.4 9.5,0.1 16.3,-1.4 5.5,-0.9 4.1,-1.1 5.4,-2.7 4.1,-3.1 4,-4.2 8.2,-9.2 2.7,-2.5 4.1,-2.5 2.7,-0.4 2.7,0.6 4.1,2.7 4.1,4.2 9.5,11.2 5.4,4.8 2.8,1.6 4,1.7 4.1,0.7 4.1,-0.3 4.1,-1 6.8,-2.6 23.1,-9.7 31.2,-14 24.5,-9.9 6.8,-2.1 0,41.1 -99.2,0 -8.2,-2.8 -5.4,-3.1 -5.5,-4.9 -8.1,-9.3 -4.1,-4 -4.1,-2.4 -2.7,-0.5 -2.7,0.6 -4.1,2.7 -2.7,2.7 -8.2,9.7 -4,4.4 -4.1,3.4 -5.4,3.1 -1.4,0.4 -38.1,0 -4,-0.8 -5.5,-2.3 -4,-3.1 -4.1,-4.9 -4.1,-7.2 -2.7,-6.3 -4.1,-11.7 -4.1,-14.1 -8.1,-30.5 -4.1,-12.9 -2.7,-6.4 -1.4,-2.3 -1.3,-1.7 -1.4,-1 -1.4,-0.4 -1.3,0.4 -1.4,1 -1.3,1.7 -1.4,2.3 -2.7,6.4 -4.1,12.9 -12.2,45.5 -5.5,15.8 -4,8.7 -4.1,6.1 -4.1,4.2 -1.3,0.6 -1.4,0z" fill="#eaa19e"/><path d="M3010.6,2479.2v14m1.1,-14v14m0,-14v14m1.1,-14v14m0.5,-14v14m0.1,-14v14m0.7,-14v14m0.6,-14v14m0.1,-14v14m2.7,-14v14m0.2,-14v14m0.4,-14v14m0.6,-14v14m1,-14v14m0.2,-14v14m0.3,-14v14m3.8,-14v14m0.8,-14v14m0.3,-14v14m1.8,-14v14m1.3,-14v14m0.1,-14v14m0,-14v14m0.1,-14v14m0.2,-14v14m0.1,-14v14m0.4,-14v14m0.8,-14v14m0.5,-14v14m0.1,-14v14m1.3,-14v14m1.3,-14v14m0.3,-14v14m0.4,-14v14m2.1,-14v14m0.2,-14v14m0.2,-14v14m0.2,-14v14m0.1,-14v14m1.3,-14v14m1,-14v14m0.3,-14v14m0.3,-14v14m1.7,-14v14m0.5,-14v14m0.7,-14v14m0,-14v14m0.1,-14v14m1.2,-14v14m0.2,-14v14m0.3,-14v14m0.1,-14v14m0.5,-14v14m0.8,-14v14m0.1,-14v14m0.4,-14v14m0.5,-14v14m0.4,-14v14m3.1,-14v14m0.1,-14v14m0.3,-14v14m0.3,-14v14m0.2,-14v14m0.2,-14v14m0.2,-14v14m0.2,-14v14m0.3,-14v14m0.7,-14v14m2.2,-14v14m0,-14v14m0.6,-14v14m0.3,-14v14m0.8,-14v14m0.3,-14v14m0.1,-14v14m0.4,-14v14m0.8,-14v14m0,-14v14m1,-14v14m0.5,-14v14m0.2,-14v14m0.8,-14v14m1.7,-14v14m0.3,-14v14m0.1,-14v14m0.6,-14v14m0.3,-14v14m0.2,-14v14m0.7,-14v14m0,-14v14m1.3,-14v14m1.4,-14v14m2,-14v14m1.4,-14v14m0.4,-14v14m0.7,-14v14m0.1,-14v14m1.1,-14v14m0.3,-14v14m0.5,-14v14m1,-14v14m0.8,-14v14m2.2,-14v14m0.6,-14v14m0.6,-14v14m1.3,-14v14m0.4,-14v14m3.1,-14v14m0.1,-14v14m0.2,-14v14m0.2,-14v14m0.4,-14v14m1.3,-14v14m0,-14v14m0.4,-14v14m0.4,-14v14m1.2,-14v14m1.9,-14v14m1,-14v14m2.2,-14v14m0,-14v14m0,-14v14m0.1,-14v14m1,-14v14m0,-14v14m0.1,-14v14m0.6,-14v14m0.9,-14v14m0.7,-14v14m0.9,-14v14m0.4,-14v14m1.5,-14v14m0.8,-14v14m0.4,-14v14m0.4,-14v14m0.1,-14v14m0.2,-14v14m0.1,-14v14m0.4,-14v14m0.1,-14v14m0.6,-14v14m0.5,-14v14m0,-14v14m1.9,-14v14m0.5,-14v14m0.4,-14v14m0.6,-14v14m0.2,-14v14m0.1,-14v14m1.1,-14v14m0.2,-14v14m0.4,-14v14m0.9,-14v14m0.3,-14v14m0.9,-14v14m0.7,-14v14m1.6,-14v14m1,-14v14m0.5,-14v14m0.6,-14v14m0.4,-14v14m0.2,-14v14m0,-14v14m0.1,-14v14m0,-14v14m0.3,-14v14m0.6,-14v14m0,-14v14m0.7,-14v14m0.1,-14v14m0.8,-14v14m3.4,-14v14m2.2,-14v14m0.9,-14v14m0.2,-14v14m0.5,-14v14m0.8,-14v14m0.2,-14v14m0.2,-14v14m0.5,-14v14m0.1,-14v14m1,-14v14m0.2,-14v14m2.5,-14v14m1.2,-14v14m1.3,-14v14m7.8,-14v14m2,-14v14m2.2,-14v14m0.5,-14v14m4.1,-14v14m1.4,-14v14m13.6,-14v14m0.2,-14v14m13.3,-14v14m1.9,-14v14m13.4,-14v14m17.9,-14v14m2.6,-14v14m0.1,-14v14m1.7,-14v14m2.8,-14v14m2.4,-14v14m1,-14v14m0.3,-14v14m3.7,-14v14m1.1,-14v14m0.9,-14v14m0,-14v14m2.8,-14v14m0.9,-14v14m0.2,-14v14m3.6,-14v14m0,-14v14m0.1,-14v14m0.9,-14v14m0.5,-14v14m0.2,-14v14m0.1,-14v14m0.9,-14v14m1.5,-14v14m0.8,-14v14m0.2,-14v14m0.1,-14v14m0.5,-14v14m0.7,-14v14m2.9,-14v14m0.3,-14v14m0.3,-14v14m1,-14v14m0.4,-14v14m1,-14v14m0.5,-14v14m0.2,-14v14m0.3,-14v14m0.1,-14v14m4.7,-14v14m0.5,-14v14m1.4,-14v14m0.7,-14v14m0.7,-14v14m0.1,-14v14m1.6,-14v14m0.3,-14v14m0.3,-14v14m0.2,-14v14m14.3,-14v14m3.1,-14v14m9.9,-14v14m6.2,-14v14m0.8,-14v14m0.8,-14v14m15,-14v14" stroke="#000" stroke-opacity="0.62" stroke-width="1" fill="none"/><path d="M3025.4,2488.2v10.5m0.1,-10.5v10.5m0.3,-10.5v10.5m0.4,-10.5v10.5m0,-10.5v10.5m0,-10.5v10.5m2.3,-10.5v10.5m0.5,-10.5v10.5m0.1,-10.5v10.5m3.1,-10.5v10.5m0.6,-10.5v10.5m1.1,-10.5v10.5m0.5,-10.5v10.5m0.3,-10.5v10.5m0.4,-10.5v10.5m0.1,-10.5v10.5m0.4,-10.5v10.5m0.3,-10.5v10.5m2.6,-10.5v10.5m0.8,-10.5v10.5m2.2,-10.5v10.5m0,-10.5v10.5m12.6,-10.5v10.5m1,-10.5v10.5m1,-10.5v10.5m0.7,-10.5v10.5m0.7,-10.5v10.5m0.1,-10.5v10.5m0.9,-10.5v10.5m0.6,-10.5v10.5m1.4,-10.5v10.5m1.6,-10.5v10.5m0.4,-10.5v10.5m0.8,-10.5v10.5m3,-10.5v10.5m0,-10.5v10.5m0.7,-10.5v10.5m0.6,-10.5v10.5m2,-10.5v10.5m0.3,-10.5v10.5m0.5,-10.5v10.5m0.7,-10.5v10.5m0,-10.5v10.5m1.2,-10.5v10.5m0.9,-10.5v10.5m0,-10.5v10.5m0.4,-10.5v10.5m0.6,-10.5v10.5m1,-10.5v10.5m0.7,-10.5v10.5m90.5,-10.5v10.5m1.5,-10.5v10.5m0.4,-10.5v10.5m0.3,-10.5v10.5m5.9,-10.5v10.5m0.9,-10.5v10.5m4.7,-10.5v10.5m1.5,-10.5v10.5m2.1,-10.5v10.5m1.1,-10.5v10.5m0.5,-10.5v10.5m0.7,-10.5v10.5m1.1,-10.5v10.5m0.6,-10.5v10.5m2.7,-10.5v10.5m0.6,-10.5v10.5m14.7,-10.5v10.5m1.7,-10.5v10.5" stroke="#e8392a" stroke-opacity="0.7" stroke-width="1" fill="none"/><path d="M3010.3,2486.2l209.3,0 2.7,-37.3 34,0 2.7,37.3 19,0 1.4,-26.6 1.3,-10.7 10.9,0 1.4,23.3 1.3,14 21.8,0" stroke="#3a8f28" stroke-width="1.6" fill="none" stroke-linejoin="round"/><path d="M3010.3,2483.1l4.1,-2.6 4.1,-4.2 4,-6.4 2.7,-5.7 2.8,-7 4,-12.5 10.9,-40.2 4.1,-12.9 2.7,-6.3 1.4,-2.3 1.3,-1.7 1.4,-1.1 1.3,-0.3 1.4,0.3 1.4,1.1 1.3,1.7 1.4,2.3 2.7,6.3 4.1,12.9 10.8,40.2 4.1,12.5 2.7,7 2.8,5.7 4,6.4 4.1,4.2 2.7,1.9 2.8,1.3 2.7,0.9 4,0.8 12.3,0.7 16.3,-0.2 5.4,-0.7 4.1,-1 5.4,-2.4 4.1,-3 4.1,-3.9 8.1,-9.5 4.1,-4.1 4.1,-2.6 2.7,-0.5 2.7,0.5 4.1,2.6 4.1,4.1 8.1,9.5 5.5,5 5.4,3.3 5.5,1.8 6.7,0.9 8.2,0.3 87,0" stroke="#e8392a" stroke-width="1.9" fill="none" stroke-linejoin="round"/></g><rect x="2994.7" y="2374.3" width="336.3" height="126.2" fill="none" stroke="#777" stroke-width="1.3"/><path d="M3010.3,2500.5v4.5M3064.7,2500.5v4.5M3119.0,2500.5v4.5M3173.4,2500.5v4.5M3227.7,2500.5v4.5M3282.1,2500.5v4.5M2994.7,2486.2h-4.5M2994.7,2448.9h-4.5M2994.7,2411.6h-4.5M2994.7,2374.3h-4.5" stroke="#444" stroke-width="1.1" fill="none"/><text x="3010.3" y="2517.6" text-anchor="middle">0</text><text x="3064.7" y="2517.6" text-anchor="middle">20</text><text x="3119.0" y="2517.6" text-anchor="middle">40</text><text x="3173.4" y="2517.6" text-anchor="middle">60</text><text x="3227.7" y="2517.6" text-anchor="middle">80</text><text x="3282.1" y="2517.6" text-anchor="middle">100</text><text x="2987.2" y="2491.0" text-anchor="end">0</text><text x="2987.2" y="2453.7" text-anchor="end">1</text><text x="2987.2" y="2416.4" text-anchor="end">2</text><text x="2987.2" y="2379.1" text-anchor="end">3</text><text x="3162.8" y="2533.8" text-anchor="middle">Input: t</text><text transform="translate(2974.3,2437.4) rotate(-90)" text-anchor="middle">Intensity: λ(t)</text></g><g font-size="13.4"><clipPath id="c3381_2374"><rect x="3381.5" y="2374.3" width="335.4" height="125.2"/></clipPath><g clip-path="url(#c3381_2374)"><path d="M3396.5,2480.2l4.1,-3.1 2.7,-3.2 4.1,-6.7 2.7,-5.9 2.7,-7.3 2.7,-8.5 10.9,-40.9 4.1,-13.4 2.7,-6.7 1.4,-2.4 1.4,-1.8 1.3,-1.1 1.4,-0.3 1.3,0.3 1.4,1.1 1.4,1.8 1.3,2.5 2.7,6.7 4.1,13.5 10.9,41.1 4.1,12.4 2.7,6.6 2.7,5.4 4.1,6 4.1,3.7 2.7,1.7 2.7,1.1 5.5,1.3 9.5,0.7 19,0 10.9,-0.8 5.5,-1 5.4,-1.6 19.1,-7.9 5.4,-1.2 4.1,-0.4 5.4,0.3 16.4,2.5 19,1.5 44.9,4.8 8.2,0.5 5.4,-0.1 6.8,-0.7 8.2,-1.7 14.9,-5.3 4.1,-1.1 0,13.6 -32.6,0 -12.3,-4.1 -8.1,-1.6 -39.5,-3.5 -19,-1.2 -15,-2 -5.5,-0.4 -5.4,0.4 -4.1,1 -5.4,2 -15,6.6 -5.4,1.7 -5.5,1.1 -42.1,0 -2.8,-0.4 -2.7,-1.1 -2.7,-1.6 -4.1,-3.7 -4.1,-5.9 -2.7,-5.3 -2.7,-6.7 -4.1,-12.3 -10.9,-40.8 -4.1,-13.5 -2.7,-6.6 -1.3,-2.5 -1.4,-1.8 -1.4,-1 -1.3,-0.4 -1.4,0.4 -1.3,1.1 -1.4,1.8 -1.4,2.5 -2.7,6.7 -4.1,13.5 -10.9,41 -2.7,8.6 -2.7,7.3 -2.7,6 -4.1,6.8 -2.7,3.2 -4.1,3.2z" fill="#eaa19e"/><path d="M3396.7,2479.2v14m1,-14v14m0,-14v14m0.4,-14v14m0.4,-14v14m0.1,-14v14m1.1,-14v14m0.9,-14v14m0.8,-14v14m1,-14v14m0.1,-14v14m0.3,-14v14m1.2,-14v14m1.2,-14v14m0.4,-14v14m0.4,-14v14m4.8,-14v14m0.1,-14v14m0.7,-14v14m0,-14v14m0.8,-14v14m0.2,-14v14m1.3,-14v14m0.1,-14v14m0.9,-14v14m0.2,-14v14m0,-14v14m1.2,-14v14m0.1,-14v14m0.4,-14v14m0.6,-14v14m0.2,-14v14m0.9,-14v14m0.3,-14v14m0.1,-14v14m1.1,-14v14m0.4,-14v14m4.7,-14v14m0.1,-14v14m0.6,-14v14m0.4,-14v14m0.5,-14v14m0.6,-14v14m0.2,-14v14m0.7,-14v14m0.5,-14v14m0.1,-14v14m1,-14v14m0.4,-14v14m0.6,-14v14m1,-14v14m0.4,-14v14m1.3,-14v14m0.4,-14v14m0.3,-14v14m1.8,-14v14m0.9,-14v14m1.5,-14v14m0.1,-14v14m0.5,-14v14m0.6,-14v14m0.6,-14v14m0,-14v14m0.3,-14v14m0.6,-14v14m2.2,-14v14m0.1,-14v14m0.2,-14v14m0.5,-14v14m1.6,-14v14m0.4,-14v14m0.3,-14v14m0,-14v14m0.2,-14v14m0.3,-14v14m0.1,-14v14m0.3,-14v14m0,-14v14m0.3,-14v14m0.1,-14v14m0.1,-14v14m0.8,-14v14m0.1,-14v14m0.4,-14v14m0.3,-14v14m0.5,-14v14m0.2,-14v14m0.5,-14v14m2.2,-14v14m0.6,-14v14m0.1,-14v14m0.6,-14v14m0.7,-14v14m0,-14v14m1,-14v14m0.9,-14v14m0.6,-14v14m1.9,-14v14m0.8,-14v14m0.7,-14v14m0.5,-14v14m0.5,-14v14m0.8,-14v14m0.7,-14v14m0.3,-14v14m1.1,-14v14m0.6,-14v14m0.2,-14v14m0.8,-14v14m2.1,-14v14m1,-14v14m0.2,-14v14m1.3,-14v14m0.1,-14v14m0.4,-14v14m0.6,-14v14m0.4,-14v14m0.5,-14v14m0,-14v14m0.9,-14v14m0.2,-14v14m0.2,-14v14m0.3,-14v14m0.6,-14v14m0,-14v14m1,-14v14m0.3,-14v14m0.1,-14v14m0.1,-14v14m0.9,-14v14m0.4,-14v14m1.3,-14v14m0.8,-14v14m0.1,-14v14m0.1,-14v14m0.5,-14v14m0.9,-14v14m0.1,-14v14m0.9,-14v14m1.5,-14v14m0.9,-14v14m0.1,-14v14m0.2,-14v14m0.9,-14v14m1.6,-14v14m2.2,-14v14m0.3,-14v14m0.8,-14v14m0.6,-14v14m1.1,-14v14m1.5,-14v14m0.4,-14v14m0.5,-14v14m0.3,-14v14m0,-14v14m2.3,-14v14m0.6,-14v14m0.9,-14v14m0.1,-14v14m0.5,-14v14m0.5,-14v14m2.9,-14v14m2.1,-14v14m0.5,-14v14m0.3,-14v14m0.1,-14v14m0.1,-14v14m0,-14v14m0,-14v14m0.3,-14v14m0,-14v14m2,-14v14m0.6,-14v14m2.4,-14v14m0.2,-14v14m0.3,-14v14m1.3,-14v14m0.1,-14v14m1.2,-14v14m0.9,-14v14m0.6,-14v14m2.6,-14v14m0.1,-14v14m0,-14v14m0.1,-14v14m0.4,-14v14m21.7,-14v14m1.2,-14v14m1.6,-14v14m7.9,-14v14m3.8,-14v14m10.2,-14v14m1.6,-14v14m1.2,-14v14m0.6,-14v14m0.1,-14v14m11,-14v14m12.3,-14v14m2.3,-14v14m4.4,-14v14m2.2,-14v14m3.4,-14v14m2.3,-14v14m3.1,-14v14m1,-14v14m1.1,-14v14m0.1,-14v14m1.1,-14v14m0,-14v14m0.2,-14v14m0.8,-14v14m0.7,-14v14m0.9,-14v14m0.5,-14v14m0.5,-14v14m0.5,-14v14m0.2,-14v14m1.5,-14v14m0.1,-14v14m0.5,-14v14m0.4,-14v14m2.5,-14v14m0.7,-14v14m0.8,-14v14m1.3,-14v14m0.3,-14v14m1.7,-14v14m1.4,-14v14m0.1,-14v14m1.9,-14v14m0.3,-14v14m2.2,-14v14m0.4,-14v14m0.3,-14v14m3.1,-14v14m0.2,-14v14m0.6,-14v14m0.8,-14v14m0.8,-14v14m2.2,-14v14m1.4,-14v14m0.6,-14v14m0.1,-14v14m0.6,-14v14m0.2,-14v14m1.3,-14v14m18.2,-14v14m1.3,-14v14m1.4,-14v14m1.7,-14v14m6.3,-14v14m9.6,-14v14m5.4,-14v14" stroke="#000" stroke-opacity="0.62" stroke-width="1" fill="none"/><path d="M3413.3,2488.2v10.5m0.1,-10.5v10.5m1,-10.5v10.5m0.1,-10.5v10.5m1.1,-10.5v10.5m0.3,-10.5v10.5m1,-10.5v10.5m0.6,-10.5v10.5m1.9,-10.5v10.5m0.6,-10.5v10.5m1.7,-10.5v10.5m0.2,-10.5v10.5m0.4,-10.5v10.5m1.7,-10.5v10.5m1.4,-10.5v10.5m1.5,-10.5v10.5m0.8,-10.5v10.5m0.1,-10.5v10.5m0.3,-10.5v10.5m0,-10.5v10.5m0.2,-10.5v10.5m2.1,-10.5v10.5m12.5,-10.5v10.5m0.3,-10.5v10.5m0.2,-10.5v10.5m1.1,-10.5v10.5m0.2,-10.5v10.5m0.2,-10.5v10.5m0.8,-10.5v10.5m0.4,-10.5v10.5m0.2,-10.5v10.5m1.1,-10.5v10.5m1.2,-10.5v10.5m0.8,-10.5v10.5m6.7,-10.5v10.5m0.7,-10.5v10.5m0.4,-10.5v10.5m0.8,-10.5v10.5m0.3,-10.5v10.5m1.4,-10.5v10.5m0,-10.5v10.5m0.3,-10.5v10.5m0.6,-10.5v10.5m0.2,-10.5v10.5m1,-10.5v10.5m0.1,-10.5v10.5m0.3,-10.5v10.5m89.9,-10.5v10.5m0.5,-10.5v10.5m1.9,-10.5v10.5m0.4,-10.5v10.5m0.4,-10.5v10.5m1.2,-10.5v10.5m1.4,-10.5v10.5m2.3,-10.5v10.5m3.1,-10.5v10.5m0,-10.5v10.5m1.6,-10.5v10.5m0.4,-10.5v10.5m4.9,-10.5v10.5m0.2,-10.5v10.5m5.1,-10.5v10.5m3.1,-10.5v10.5m13.1,-10.5v10.5m2.4,-10.5v10.5m15.7,-10.5v10.5m1,-10.5v10.5m1.3,-10.5v10.5m0,-10.5v10.5m1.4,-10.5v10.5m0,-10.5v10.5m4,-10.5v10.5m28.1,-10.5v10.5m0.1,-10.5v10.5m12.5,-10.5v10.5m0.7,-10.5v10.5" stroke="#e8392a" stroke-opacity="0.7" stroke-width="1" fill="none"/><path d="M3396.5,2486.2l231.3,0 1.3,-7.5 1.4,-29.9 2.7,0 1.4,29.9 1.3,7.5 66.7,0" stroke="#3a8f28" stroke-width="1.6" fill="none" stroke-linejoin="round"/><path d="M3396.5,2482.5l4.1,-3.2 2.7,-3.2 4.1,-6.7 2.7,-6 2.7,-7.3 2.7,-8.6 10.9,-40.9 4.1,-13.5 2.7,-6.7 1.4,-2.4 1.4,-1.8 1.3,-1.1 1.4,-0.4 1.3,0.4 1.4,1.1 1.4,1.8 1.3,2.4 2.7,6.7 4.1,13.5 10.9,40.9 4.1,12.4 2.7,6.7 2.7,5.3 4.1,5.9 4.1,3.8 4.1,2.2 5.4,1.5 8.2,0.7 19,0.1 12.3,-0.8 6.8,-1.3 5.4,-1.6 15,-6.5 5.4,-1.9 4.1,-1 5.4,-0.3 5.5,0.4 15,2.2 19,1.3 36.7,3.5 32.7,5 10.9,0.7 12.2,0.3" stroke="#e8392a" stroke-width="1.9" fill="none" stroke-linejoin="round"/></g><rect x="3381.5" y="2374.3" width="335.4" height="125.2" fill="none" stroke="#777" stroke-width="1.3"/><path d="M3396.5,2499.5v4.5M3450.9,2499.5v4.5M3505.3,2499.5v4.5M3559.8,2499.5v4.5M3614.2,2499.5v4.5M3668.6,2499.5v4.5M3381.5,2486.2h-4.5M3381.5,2448.8h-4.5M3381.5,2411.4h-4.5" stroke="#444" stroke-width="1.1" fill="none"/><text x="3396.5" y="2516.6" text-anchor="middle">0</text><text x="3450.9" y="2516.6" text-anchor="middle">20</text><text x="3505.3" y="2516.6" text-anchor="middle">40</text><text x="3559.8" y="2516.6" text-anchor="middle">60</text><text x="3614.2" y="2516.6" text-anchor="middle">80</text><text x="3668.6" y="2516.6" text-anchor="middle">100</text><text x="3374.0" y="2491.0" text-anchor="end">0</text><text x="3374.0" y="2453.6" text-anchor="end">1</text><text x="3374.0" y="2416.2" text-anchor="end">2</text><text x="3549.2" y="2532.8" text-anchor="middle">Input: t</text><text transform="translate(3361.1,2436.9) rotate(-90)" text-anchor="middle">Intensity: λ(t)</text></g><g font-size="13.4"><clipPath id="c3767_2374"><rect x="3767.2" y="2374.3" width="335.8" height="125.2"/></clipPath><g clip-path="url(#c3767_2374)"><path d="M3782.3,2480.9v14m0.4,-14v14m0.3,-14v14m1.1,-14v14m1,-14v14m1,-14v14m0.5,-14v14m1.1,-14v14m0.4,-14v14m0.1,-14v14m0.1,-14v14m1,-14v14m0.4,-14v14m0,-14v14m2,-14v14m1.2,-14v14m3,-14v14m0.5,-14v14m1.4,-14v14m0.8,-14v14m1.7,-14v14m0.3,-14v14m0,-14v14m0.7,-14v14m0.6,-14v14m0.3,-14v14m1.4,-14v14m0.7,-14v14m1.2,-14v14m0,-14v14m0.4,-14v14m1.1,-14v14m0.1,-14v14m1.5,-14v14m0.2,-14v14m0.6,-14v14m2.1,-14v14m0.1,-14v14m0.7,-14v14m0.5,-14v14m2,-14v14m0.7,-14v14m1.4,-14v14m0.8,-14v14m0.2,-14v14m0.1,-14v14m2.1,-14v14m0.1,-14v14m0.2,-14v14m1.2,-14v14m0.4,-14v14m0.1,-14v14m0.2,-14v14m0.2,-14v14m1,-14v14m0.4,-14v14m1.1,-14v14m1.1,-14v14m2.2,-14v14m2.3,-14v14m0.3,-14v14m0.4,-14v14m0.2,-14v14m0.1,-14v14m0.5,-14v14m1.2,-14v14m1.3,-14v14m0.5,-14v14m1.1,-14v14m0.1,-14v14m0.4,-14v14m0.1,-14v14m0,-14v14m0.5,-14v14m0.3,-14v14m0,-14v14m0.2,-14v14m0,-14v14m0.5,-14v14m0,-14v14m0.2,-14v14m0.7,-14v14m0.2,-14v14m0.4,-14v14m0.3,-14v14m0.7,-14v14m0.2,-14v14m0.5,-14v14m0.5,-14v14m0.4,-14v14m1.9,-14v14m0.3,-14v14m0.7,-14v14m0.4,-14v14m0.8,-14v14m0.2,-14v14m0.1,-14v14m1.2,-14v14m0,-14v14m0.3,-14v14m0.2,-14v14m1.4,-14v14m0.6,-14v14m1.5,-14v14m0.2,-14v14m1,-14v14m0.1,-14v14m0,-14v14m0.2,-14v14m0.3,-14v14m0,-14v14m0.1,-14v14m0.2,-14v14m1.6,-14v14m0.6,-14v14m0.5,-14v14m1.2,-14v14m0.7,-14v14m0.9,-14v14m1.5,-14v14m0,-14v14m1.7,-14v14m0.3,-14v14m0.2,-14v14m0,-14v14m0.6,-14v14m1.2,-14v14m0.1,-14v14m0.7,-14v14m0.5,-14v14m0.6,-14v14m0.2,-14v14m2,-14v14m0.5,-14v14m0.7,-14v14m0.3,-14v14m0.1,-14v14m1.5,-14v14m0.1,-14v14m1.9,-14v14m0,-14v14m0,-14v14m0.6,-14v14m0,-14v14m0.4,-14v14m2.1,-14v14m0.3,-14v14m0.3,-14v14m0.8,-14v14m0.3,-14v14m0.1,-14v14m0.2,-14v14m1.2,-14v14m0,-14v14m1.6,-14v14m0.9,-14v14m0.7,-14v14m0.5,-14v14m0.9,-14v14m0.2,-14v14m0.5,-14v14m0,-14v14m0.5,-14v14m0.3,-14v14m0.3,-14v14m0.5,-14v14m0.2,-14v14m0.6,-14v14m0.4,-14v14m1.2,-14v14m0.6,-14v14m0.9,-14v14m2.5,-14v14m0.4,-14v14m0.8,-14v14m0.8,-14v14m0,-14v14m1.8,-14v14m0.2,-14v14m0.1,-14v14m4.9,-14v14m0,-14v14m0.1,-14v14m2.4,-14v14m0.3,-14v14m0.1,-14v14m10,-14v14m4.9,-14v14m14.9,-14v14m3.5,-14v14m5.5,-14v14m5.3,-14v14m0.5,-14v14m1.1,-14v14m5.8,-14v14m3,-14v14m6.8,-14v14m11.1,-14v14m4.8,-14v14m0.1,-14v14m0.2,-14v14m0.8,-14v14m0.4,-14v14m3.5,-14v14m8.9,-14v14m2.1,-14v14m0,-14v14m0,-14v14m0.2,-14v14m5,-14v14m0.1,-14v14m2,-14v14m0.5,-14v14m0.7,-14v14m0.4,-14v14m0.4,-14v14m0.3,-14v14m1.5,-14v14m0.3,-14v14m1.2,-14v14m0.4,-14v14m0.5,-14v14m0.4,-14v14m0.3,-14v14m0.4,-14v14m0.9,-14v14m0.7,-14v14m0.8,-14v14m0.1,-14v14m0.7,-14v14m0,-14v14m0.3,-14v14m0.7,-14v14m0.3,-14v14m1.7,-14v14m2.5,-14v14m3,-14v14m0.2,-14v14m0,-14v14m0,-14v14m2,-14v14m0,-14v14m0.3,-14v14m0.4,-14v14m1.5,-14v14m0.5,-14v14m12.8,-14v14m1,-14v14m5,-14v14m17.6,-14v14m1.7,-14v14m12.3,-14v14m2.8,-14v14" stroke="#000" stroke-opacity="0.62" stroke-width="1" fill="none"/><path d="M3783.2,2489.9v9m0.1,-9v9m0.5,-9v9m0.7,-9v9m0,-9v9m0.9,-9v9m2.2,-9v9m1.9,-9v9m0,-9v9m1.4,-9v9m0.4,-9v9m0.9,-9v9m6.7,-9v9m0,-9v9m0.1,-9v9m0.8,-9v9m0.8,-9v9m0.6,-9v9m1.2,-9v9m1.8,-9v9m0.5,-9v9m0,-9v9m0.1,-9v9m0.1,-9v9m0.2,-9v9m1.6,-9v9m0.3,-9v9m0,-9v9m0.4,-9v9m0.5,-9v9m0.5,-9v9m0.7,-9v9m0.9,-9v9m0.3,-9v9m0.2,-9v9m0.1,-9v9m0.8,-9v9m0,-9v9m0.6,-9v9m0.8,-9v9m1.8,-9v9m0.6,-9v9m1.9,-9v9m0.3,-9v9m0.6,-9v9m0.7,-9v9m0.7,-9v9m0.9,-9v9m1.3,-9v9m1.9,-9v9m0.3,-9v9m0.4,-9v9m2,-9v9m0.5,-9v9m0.7,-9v9m0.1,-9v9m1.1,-9v9m0.3,-9v9m0.5,-9v9m1.3,-9v9m0.8,-9v9m0.5,-9v9m1.1,-9v9m1.2,-9v9m1,-9v9m1.4,-9v9m1.9,-9v9m1.1,-9v9m0.3,-9v9m0.4,-9v9m1.1,-9v9m0.5,-9v9m1.1,-9v9m0,-9v9m0.5,-9v9m0.5,-9v9m0.6,-9v9m1.2,-9v9m0.9,-9v9m0,-9v9m0.5,-9v9m0.5,-9v9m0.5,-9v9m0.8,-9v9m0.1,-9v9m1.6,-9v9m0.4,-9v9m1.3,-9v9m0.2,-9v9m0.1,-9v9m4,-9v9m0.6,-9v9m0.9,-9v9m0.3,-9v9m0.4,-9v9m1.5,-9v9m0.6,-9v9m1,-9v9m3.1,-9v9m1.3,-9v9m0.8,-9v9m3.2,-9v9m0.3,-9v9m0,-9v9m1.1,-9v9m2.8,-9v9m0.7,-9v9m0.5,-9v9m0.1,-9v9m0.3,-9v9m1.8,-9v9m0.7,-9v9m0.2,-9v9m0.5,-9v9m1.4,-9v9m1.2,-9v9m0.6,-9v9m1,-9v9m0.2,-9v9m0.5,-9v9m0.9,-9v9m0.2,-9v9m0.2,-9v9m0.7,-9v9m1.5,-9v9m1.2,-9v9m1.6,-9v9m3.3,-9v9m6.4,-9v9m1.1,-9v9m1.6,-9v9m1.4,-9v9m1.4,-9v9m0.7,-9v9m11.1,-9v9m3.8,-9v9m4.9,-9v9m5.3,-9v9m0.4,-9v9m2.1,-9v9m2,-9v9m7.2,-9v9m8.8,-9v9m4.3,-9v9m1.1,-9v9m11,-9v9m9.9,-9v9m11,-9v9m1.3,-9v9m0.9,-9v9m1.1,-9v9m2.3,-9v9m0.5,-9v9m2,-9v9m1,-9v9m1.1,-9v9m0,-9v9m3.7,-9v9m0.5,-9v9m0.1,-9v9m2.7,-9v9m0.2,-9v9m2.2,-9v9m0.8,-9v9m0.7,-9v9m4.5,-9v9m0.8,-9v9m2.6,-9v9m0.6,-9v9m0.8,-9v9m1,-9v9m2,-9v9m0.2,-9v9m0.4,-9v9m0.8,-9v9m0.2,-9v9m4,-9v9m0.6,-9v9m0.8,-9v9m1.6,-9v9m0.3,-9v9m0.6,-9v9m35.8,-9v9m2.5,-9v9" stroke="#e8392a" stroke-opacity="0.7" stroke-width="1" fill="none"/><path d="M3782.2,2487.9l306.1,0" stroke="#3a8f28" stroke-width="1.6" fill="none" stroke-linejoin="round"/><path d="M3782.2,2437.4l2.7,-6.2 6.8,-19.3 2.7,-6.1 4.1,-7 4.1,-4.3 2.7,-1.5 2.7,-0.5 2.8,0.3 8.1,2 2.8,0.2 2.7,-0.3 4.1,-1.3 4,-1.8 10.9,-6.7 5.5,-2.7 4,-1.4 2.8,-0.3 1.3,0.3 4.1,1.9 2.7,2.5 2.8,3.4 4,6.5 5.5,10.2 8.1,18.2 5.5,11.2 5.4,10 4.1,6.6 4.1,5.6 4.1,4.8 4,3.4 5.5,3.1 2.7,1 2.7,0.4 5.5,-0.1 20.4,-4.2 13.6,-0.2 5.4,-0.5 4.1,-1.2 2.7,-1.5 2.8,-2.1 2.7,-2.8 5.4,-7.7 5.5,-8.9 9.5,-17.5 5.4,-8.4 2.7,-3.2 2.8,-2.2 2.7,-0.8 1.3,0 1.4,0.4 2.7,1.8 2.7,2.9 2.8,3.9 4.1,7.2 10.8,22.7 6.8,12.9 4.1,6.5 5.5,6.7 5.4,5.1 4.1,2.6 4.1,2 5.4,1.7 13.6,2.4" stroke="#e8392a" stroke-width="1.9" fill="none" stroke-linejoin="round"/></g><rect x="3767.2" y="2374.3" width="335.8" height="125.2" fill="none" stroke="#777" stroke-width="1.3"/><path d="M3782.2,2499.5v4.5M3836.6,2499.5v4.5M3891.0,2499.5v4.5M3945.5,2499.5v4.5M3999.9,2499.5v4.5M4054.3,2499.5v4.5M3767.2,2487.9h-4.5M3767.2,2428.4h-4.5" stroke="#444" stroke-width="1.1" fill="none"/><text x="3782.2" y="2516.6" text-anchor="middle">0</text><text x="3836.6" y="2516.6" text-anchor="middle">20</text><text x="3891.0" y="2516.6" text-anchor="middle">40</text><text x="3945.5" y="2516.6" text-anchor="middle">60</text><text x="3999.9" y="2516.6" text-anchor="middle">80</text><text x="4054.3" y="2516.6" text-anchor="middle">100</text><text x="3759.7" y="2492.7" text-anchor="end">0</text><text x="3759.7" y="2433.2" text-anchor="end">2</text><text x="3935.1" y="2532.8" text-anchor="middle">Input: t</text><text transform="translate(3746.8,2436.9) rotate(-90)" text-anchor="middle">Intensity: λ(t)</text></g><g font-size="13.4"><clipPath id="c2994_2608"><rect x="2994.7" y="2608.6" width="336.3" height="125.2"/></clipPath><g clip-path="url(#c2994_2608)"><path d="M3010.3,2662l2.7,-4.4 5.5,-10.9 2.7,-4.7 2.7,-3.8 2.7,-3 4.1,-3 6.8,-3.5 4.1,-2.5 2.7,-2.3 8.1,-8.1 2.7,-2.1 2.8,-1.1 1.3,0 1.4,0.5 1.3,1 1.4,1.5 1.4,2.1 2.7,5.7 4.1,12.7 9.5,38 4,13.5 1.4,3.5 2.7,5.5 2.7,3.7 2.8,2.4 4,2.3 8.2,1.8 14.9,0.3 19.1,1.8 10.8,-0.7 15,-4.1 5.4,-0.8 5.5,1.3 13.5,5.1 2.8,0.5 2.7,0.1 4.1,-0.4 4,-1 9.6,-4.2 6.7,-3.9 49,-30.4 28.5,-14.9 12.2,-5.7 5.5,-1.9 0,68.5 -123.7,0 -10.9,-5.3 -5.4,-1.6 -4.1,-0.5 -2.7,0.5 -5.4,1.9 -4.1,2 -4.1,2.5 -1.3,0.5 -59.8,0 -1.4,-0.2 -2.7,-5.2 -1.4,-3.4 -4.1,-12.9 -10.8,-45.8 -2.7,-10.5 -2.8,-9 -2.7,-6.8 -2.7,-4.7 -1.4,-1.6 -1.3,-1 -1.4,-0.4 -1.3,-0.1 -2.8,1.1 -2.7,2.1 -8.1,8.2 -2.7,2.3 -4.1,2.5 -6.8,3.4 -4.1,3.1 -2.7,3 -2.7,3.8 -2.7,4.7 -5.5,10.9 -2.7,4.3z" fill="#eaa19e"/><path d="M3011.3,2709.4v14m0.5,-14v14m0.3,-14v14m0.4,-14v14m1.6,-14v14m3,-14v14m0.5,-14v14m0.5,-14v14m0.3,-14v14m0,-14v14m0.5,-14v14m0.4,-14v14m0.2,-14v14m0.6,-14v14m0.4,-14v14m0.3,-14v14m3.1,-14v14m0.5,-14v14m1.3,-14v14m2.1,-14v14m0.7,-14v14m0.5,-14v14m0.8,-14v14m0.4,-14v14m2,-14v14m1.3,-14v14m0.1,-14v14m1.4,-14v14m0.8,-14v14m0.3,-14v14m0.5,-14v14m0.6,-14v14m1.8,-14v14m0.3,-14v14m0.5,-14v14m1.9,-14v14m0,-14v14m0,-14v14m1,-14v14m0.5,-14v14m1,-14v14m0.3,-14v14m0.2,-14v14m0.9,-14v14m0.1,-14v14m1.7,-14v14m1.2,-14v14m0.8,-14v14m0.5,-14v14m1.6,-14v14m0.1,-14v14m0.9,-14v14m1.2,-14v14m0.1,-14v14m0.6,-14v14m0.4,-14v14m1.1,-14v14m0.1,-14v14m0.7,-14v14m0.1,-14v14m1.1,-14v14m0.3,-14v14m1,-14v14m0.5,-14v14m1.1,-14v14m0.5,-14v14m0.8,-14v14m0.6,-14v14m0.1,-14v14m0.9,-14v14m0.1,-14v14m0.1,-14v14m1.4,-14v14m0.1,-14v14m0.4,-14v14m0.2,-14v14m0.3,-14v14m0.7,-14v14m0.1,-14v14m0.2,-14v14m0,-14v14m1.3,-14v14m1.4,-14v14m0.2,-14v14m1.6,-14v14m0.3,-14v14m0.4,-14v14m0.3,-14v14m0.4,-14v14m0.7,-14v14m0.3,-14v14m0.1,-14v14m3.4,-14v14m0.4,-14v14m0.6,-14v14m0.2,-14v14m0.8,-14v14m0.8,-14v14m0.2,-14v14m0.7,-14v14m0.5,-14v14m0.5,-14v14m1.4,-14v14m0.9,-14v14m0.5,-14v14m2,-14v14m0.2,-14v14m1.2,-14v14m0.3,-14v14m0.5,-14v14m1.1,-14v14m0.6,-14v14m1,-14v14m0.5,-14v14m0.9,-14v14m1,-14v14m0.8,-14v14m0.4,-14v14m1,-14v14m0,-14v14m0.5,-14v14m1.2,-14v14m0,-14v14m0.7,-14v14m0,-14v14m0,-14v14m0.2,-14v14m0.6,-14v14m1.2,-14v14m0.9,-14v14m0.1,-14v14m2,-14v14m1.1,-14v14m1,-14v14m0.2,-14v14m0.2,-14v14m1.2,-14v14m2.4,-14v14m0,-14v14m0.4,-14v14m0.6,-14v14m0.1,-14v14m0,-14v14m0.9,-14v14m0.3,-14v14m0.2,-14v14m0.3,-14v14m0.3,-14v14m1.2,-14v14m0.2,-14v14m0.1,-14v14m0,-14v14m0.5,-14v14m0.2,-14v14m0.3,-14v14m0.1,-14v14m0,-14v14m0.3,-14v14m0.7,-14v14m1.9,-14v14m0.9,-14v14m0.8,-14v14m1.3,-14v14m0.2,-14v14m0,-14v14m0.3,-14v14m0,-14v14m1.5,-14v14m0.1,-14v14m2.2,-14v14m1.5,-14v14m0.2,-14v14m0.1,-14v14m0.1,-14v14m0.8,-14v14m0.3,-14v14m0.2,-14v14m0,-14v14m0.4,-14v14m0.1,-14v14m0.1,-14v14m0.4,-14v14m0.2,-14v14m0.8,-14v14m0.3,-14v14m1.1,-14v14m16.3,-14v14m2.9,-14v14m3.4,-14v14m2.6,-14v14m7.3,-14v14m10.2,-14v14m6.5,-14v14m1.2,-14v14m3.2,-14v14m3.9,-14v14m2.9,-14v14m18.1,-14v14m1.7,-14v14m2,-14v14m1.2,-14v14m0.5,-14v14m2.2,-14v14m1.5,-14v14m3.2,-14v14m3,-14v14m0.9,-14v14m0.1,-14v14m1.5,-14v14m0.7,-14v14m1.9,-14v14m2,-14v14m0.6,-14v14m0.2,-14v14m0.8,-14v14m0.7,-14v14m1.1,-14v14m0.1,-14v14m0.3,-14v14m0.1,-14v14m1.4,-14v14m0.1,-14v14m0.6,-14v14m0,-14v14m3.8,-14v14m0.4,-14v14m0.6,-14v14m0.6,-14v14m2.3,-14v14m0.1,-14v14m0.4,-14v14m0.9,-14v14m0.3,-14v14m0.5,-14v14m1.8,-14v14m0.4,-14v14m0.6,-14v14m0.1,-14v14m1.1,-14v14m0.1,-14v14m0.6,-14v14m1.6,-14v14m1.1,-14v14m1.3,-14v14m0,-14v14m1,-14v14m22,-14v14m6,-14v14m4.5,-14v14m3.3,-14v14m0.2,-14v14m4.2,-14v14m8.5,-14v14" stroke="#000" stroke-opacity="0.62" stroke-width="1" fill="none"/><path d="M3011.6,2718.4v15m3.1,-15v15m1.2,-15v15m0.2,-15v15m0.7,-15v15m0.1,-15v15m0.3,-15v15m0.2,-15v15m0.2,-15v15m0,-15v15m0.5,-15v15m0,-15v15m7.6,-15v15m0.5,-15v15m1.1,-15v15m0,-15v15m2.4,-15v15m0,-15v15m0.7,-15v15m0,-15v15m0.9,-15v15m0.4,-15v15m23.5,-15v15m0.8,-15v15m0.4,-15v15m0.3,-15v15m0.4,-15v15m0.4,-15v15m0.6,-15v15m1.4,-15v15m0.1,-15v15m0.1,-15v15m0.1,-15v15m0,-15v15m1.1,-15v15m1.1,-15v15m0.1,-15v15m0.2,-15v15m0.4,-15v15m1.8,-15v15m2.3,-15v15m0.2,-15v15m1.3,-15v15m0,-15v15m1,-15v15m0.5,-15v15m2,-15v15m0.1,-15v15m0.1,-15v15m0.5,-15v15m0.2,-15v15m2.8,-15v15m90.3,-15v15m0,-15v15m0.6,-15v15m6.2,-15v15m0.5,-15v15m1.5,-15v15m0.6,-15v15m0.8,-15v15m0.9,-15v15m1.7,-15v15m1,-15v15m0.6,-15v15m0.5,-15v15" stroke="#e8392a" stroke-opacity="0.7" stroke-width="1" fill="none"/><path d="M3010.3,2716.4l69.3,0 2.7,-0.3 1.4,-1 1.3,-2.9 2.8,-10.6 1.3,-0.6 2.7,10.2 1.4,3.5 1.4,1.3 1.3,0.2 1.4,-0.5 1.3,-1.6 2.8,-5.6 1.3,-0.4 2.7,5.5 1.4,1.9 1.3,0.7 1.4,0.2 206.6,0" stroke="#3a8f28" stroke-width="1.6" fill="none" stroke-linejoin="round"/><path d="M3010.3,2663.1l2.7,-4.3 5.5,-11 2.7,-4.6 2.7,-3.9 2.7,-3 4.1,-3 6.8,-3.4 4.1,-2.6 2.7,-2.2 8.1,-8.2 2.7,-2.1 2.8,-1.1 1.3,0 1.4,0.5 1.3,1 1.4,1.5 2.7,4.7 2.7,6.8 4.1,14.1 9.5,39.2 2.7,9.7 2.8,7.7 2.7,5.9 2.7,4.1 2.7,2.8 1.4,1.1 2.7,1.3 6.8,1.8 4.1,0.5 25.8,0 4.1,-0.2 9.5,-2.4 13.6,-5.7 5.4,-1.6 2.7,-0.3 2.7,0.3 5.5,1.6 13.6,5.7 6.8,1.9 4,0.6 111.5,0.1" stroke="#e8392a" stroke-width="1.9" fill="none" stroke-linejoin="round"/></g><rect x="2994.7" y="2608.6" width="336.3" height="125.2" fill="none" stroke="#777" stroke-width="1.3"/><path d="M3010.3,2733.8v4.5M3064.7,2733.8v4.5M3119.0,2733.8v4.5M3173.4,2733.8v4.5M3227.7,2733.8v4.5M3282.1,2733.8v4.5M2994.7,2716.4h-4.5M2994.7,2659.6h-4.5" stroke="#444" stroke-width="1.1" fill="none"/><text x="3010.3" y="2750.9" text-anchor="middle">0</text><text x="3064.7" y="2750.9" text-anchor="middle">20</text><text x="3119.0" y="2750.9" text-anchor="middle">40</text><text x="3173.4" y="2750.9" text-anchor="middle">60</text><text x="3227.7" y="2750.9" text-anchor="middle">80</text><text x="3282.1" y="2750.9" text-anchor="middle">100</text><text x="2987.2" y="2721.2" text-anchor="end">0</text><text x="2987.2" y="2664.4" text-anchor="end">1</text><text x="3162.8" y="2767.1" text-anchor="middle">Input: t</text><text transform="translate(2974.3,2671.2) rotate(-90)" text-anchor="middle">Intensity: λ(t)</text></g><g font-size="13.4"><clipPath id="c3381_2608"><rect x="3381.5" y="2608.6" width="335.4" height="125.2"/></clipPath><g clip-path="url(#c3381_2608)"><path d="M3396.5,2693.7l1.4,-1.4 6.8,-9.2 4,-3.8 4.1,-2.1 8.2,-2.2 2.7,-1.1 4.1,-2.6 2.7,-2.9 2.7,-3.9 4.1,-7.6 10.9,-26.1 4.1,-8.3 4.1,-5.7 2.7,-2.1 1.3,-0.3 1.4,0.2 1.4,0.7 1.3,1.2 2.7,4.2 2.8,6.1 2.7,8 2.7,9.4 10.9,41.1 4.1,12.1 2.7,6.3 2.7,5 4.1,5.5 4.1,3.3 5.4,2.2 2.7,0.5 5.5,0.4 6.8,-0.3 8.2,-1.7 12.2,-4.2 6.8,-1.5 2.7,-0.2 4.1,0.5 5.4,1.2 9.6,3.6 4,1.1 6.8,0.8 5.5,-0.3 6.8,-2 38.1,-14.4 10.9,-3.7 24.5,-6.7 25.8,-5.2 6.8,-1.1 0,36.4 -119.7,0 -17.7,-7 -6.8,-1.7 -4.1,-0.5 -2.7,0.3 -6.8,1.4 -12.2,4.2 -8.2,1.7 -6.8,0.4 -5.5,-0.4 -2.7,-0.6 -5.4,-2.2 -4.1,-3.3 -4.1,-5.5 -2.7,-5 -2.7,-6.3 -4.1,-12.1 -10.9,-41 -2.7,-9.5 -2.7,-8 -2.8,-6.1 -2.7,-4.1 -1.3,-1.3 -1.4,-0.7 -1.4,-0.2 -1.3,0.4 -2.7,2 -4.1,5.7 -4.1,8.3 -10.9,26.2 -4.1,7.6 -2.7,3.8 -2.7,2.9 -4.1,2.7 -2.7,1 -8.2,2.2 -4.1,2.1 -4,3.9 -6.8,9.1 -1.4,1.4z" fill="#eaa19e"/><path d="M3397.3,2715.9v14m0.7,-14v14m1,-14v14m1.1,-14v14m1.3,-14v14m0,-14v14m0.3,-14v14m0.4,-14v14m0.8,-14v14m1,-14v14m0.3,-14v14m1.1,-14v14m0.6,-14v14m1.1,-14v14m0.2,-14v14m0.1,-14v14m3.1,-14v14m0.5,-14v14m0.2,-14v14m0.4,-14v14m0,-14v14m0.6,-14v14m0.3,-14v14m0.4,-14v14m1.5,-14v14m0,-14v14m0.6,-14v14m0.1,-14v14m0.5,-14v14m0.5,-14v14m0.1,-14v14m0.9,-14v14m0,-14v14m0.5,-14v14m0.4,-14v14m0.8,-14v14m1.7,-14v14m1,-14v14m0.1,-14v14m0.1,-14v14m0.2,-14v14m0.1,-14v14m0.2,-14v14m0.2,-14v14m1.3,-14v14m0.4,-14v14m0.2,-14v14m0.7,-14v14m0.8,-14v14m1.3,-14v14m0.1,-14v14m0.9,-14v14m0.1,-14v14m1.3,-14v14m1.3,-14v14m0.3,-14v14m0.5,-14v14m0.3,-14v14m0.1,-14v14m0.2,-14v14m0.7,-14v14m0,-14v14m0.1,-14v14m0.3,-14v14m0.5,-14v14m0.6,-14v14m1,-14v14m1.1,-14v14m0.1,-14v14m0.1,-14v14m0.3,-14v14m1,-14v14m1.2,-14v14m0.1,-14v14m0.2,-14v14m1.8,-14v14m1,-14v14m1.6,-14v14m1.9,-14v14m2.1,-14v14m1.5,-14v14m0,-14v14m2.6,-14v14m0.4,-14v14m0.1,-14v14m0.9,-14v14m0.6,-14v14m0.3,-14v14m0.3,-14v14m2.9,-14v14m0.8,-14v14m0.2,-14v14m0.2,-14v14m1.7,-14v14m0.1,-14v14m0.2,-14v14m0.6,-14v14m0.8,-14v14m0,-14v14m0.1,-14v14m0.5,-14v14m0.9,-14v14m2,-14v14m0.6,-14v14m0.4,-14v14m0.5,-14v14m2,-14v14m1.2,-14v14m1.2,-14v14m0.4,-14v14m0.4,-14v14m2.4,-14v14m0,-14v14m0.7,-14v14m0.3,-14v14m0.5,-14v14m2.3,-14v14m0.5,-14v14m0.7,-14v14m0.2,-14v14m0.2,-14v14m0.2,-14v14m0.3,-14v14m0.1,-14v14m1.1,-14v14m0,-14v14m2.4,-14v14m0.2,-14v14m2.1,-14v14m1,-14v14m0.3,-14v14m0.3,-14v14m0.3,-14v14m0.1,-14v14m0.4,-14v14m0.6,-14v14m0.3,-14v14m0,-14v14m0.2,-14v14m0.9,-14v14m0.4,-14v14m0.6,-14v14m0.4,-14v14m0.3,-14v14m1,-14v14m2.3,-14v14m0.9,-14v14m0.1,-14v14m0.1,-14v14m0.8,-14v14m0.5,-14v14m0.4,-14v14m0.2,-14v14m0.2,-14v14m0.5,-14v14m0.1,-14v14m1,-14v14m0.1,-14v14m0.2,-14v14m0.6,-14v14m0.1,-14v14m1.2,-14v14m1.1,-14v14m1.4,-14v14m2.4,-14v14m0.4,-14v14m0,-14v14m1.1,-14v14m0.7,-14v14m0.4,-14v14m0,-14v14m0.3,-14v14m0.5,-14v14m0.3,-14v14m0.1,-14v14m1.1,-14v14m0.1,-14v14m1.6,-14v14m0.3,-14v14m2.7,-14v14m0,-14v14m0.4,-14v14m0.5,-14v14m0.7,-14v14m0.4,-14v14m0.1,-14v14m12.8,-14v14m0.4,-14v14m11,-14v14m2.7,-14v14m0.8,-14v14m9.7,-14v14m10,-14v14m1.8,-14v14m4.7,-14v14m0.1,-14v14m6.8,-14v14m12.3,-14v14m1.3,-14v14m0.8,-14v14m0.6,-14v14m8.8,-14v14m1.6,-14v14m1.5,-14v14m4,-14v14m1.1,-14v14m0.3,-14v14m2.3,-14v14m3,-14v14m1.8,-14v14m0.7,-14v14m0.1,-14v14m0.8,-14v14m0.9,-14v14m0.8,-14v14m0.9,-14v14m2.1,-14v14m0.1,-14v14m0.7,-14v14m0.4,-14v14m0,-14v14m0.5,-14v14m2.3,-14v14m2.7,-14v14m0.5,-14v14m1.3,-14v14m0.2,-14v14m0.9,-14v14m0.9,-14v14m0.4,-14v14m0.6,-14v14m0.7,-14v14m0.3,-14v14m1.2,-14v14m1.5,-14v14m0,-14v14m0.4,-14v14m1,-14v14m0.3,-14v14m0.9,-14v14m0.2,-14v14m0.1,-14v14m0.4,-14v14m0.4,-14v14m1.4,-14v14m0.4,-14v14m13.2,-14v14m10.4,-14v14m9.4,-14v14m11,-14v14m0.2,-14v14m1,-14v14m4.4,-14v14" stroke="#000" stroke-opacity="0.62" stroke-width="1" fill="none"/><path d="M3397.9,2722.9v10.9m1.3,-10.9v10.9m0.5,-10.9v10.9m0.3,-10.9v10.9m1.1,-10.9v10.9m0.1,-10.9v10.9m0,-10.9v10.9m0.8,-10.9v10.9m0.2,-10.9v10.9m1.5,-10.9v10.9m1,-10.9v10.9m0.2,-10.9v10.9m6.7,-10.9v10.9m0.5,-10.9v10.9m0.9,-10.9v10.9m0.4,-10.9v10.9m0.2,-10.9v10.9m2.9,-10.9v10.9m0.2,-10.9v10.9m1.4,-10.9v10.9m0.1,-10.9v10.9m0.4,-10.9v10.9m24.6,-10.9v10.9m0.2,-10.9v10.9m0.5,-10.9v10.9m0.1,-10.9v10.9m1.4,-10.9v10.9m0.1,-10.9v10.9m1.1,-10.9v10.9m0.2,-10.9v10.9m0.6,-10.9v10.9m1.2,-10.9v10.9m1.4,-10.9v10.9m0,-10.9v10.9m0.5,-10.9v10.9m0.8,-10.9v10.9m0.7,-10.9v10.9m0.9,-10.9v10.9m0.4,-10.9v10.9m0,-10.9v10.9m0.6,-10.9v10.9m0.2,-10.9v10.9m1,-10.9v10.9m0.1,-10.9v10.9m1.5,-10.9v10.9m0.8,-10.9v10.9m1.9,-10.9v10.9m1.2,-10.9v10.9m0.3,-10.9v10.9m2,-10.9v10.9m4,-10.9v10.9m0.3,-10.9v10.9m1.8,-10.9v10.9m0.5,-10.9v10.9m0.6,-10.9v10.9m0.7,-10.9v10.9m0,-10.9v10.9m0.1,-10.9v10.9m0,-10.9v10.9m0.1,-10.9v10.9m0.1,-10.9v10.9m1.4,-10.9v10.9m0.7,-10.9v10.9m0.3,-10.9v10.9m0.7,-10.9v10.9m1.3,-10.9v10.9m1.1,-10.9v10.9m0.1,-10.9v10.9m1,-10.9v10.9m2,-10.9v10.9m1.1,-10.9v10.9m1.3,-10.9v10.9m0.2,-10.9v10.9m0.9,-10.9v10.9m47.9,-10.9v10.9m3.5,-10.9v10.9m0.6,-10.9v10.9m0,-10.9v10.9m16.7,-10.9v10.9m0.9,-10.9v10.9m0.6,-10.9v10.9m0.6,-10.9v10.9m0.2,-10.9v10.9m0.1,-10.9v10.9m0.6,-10.9v10.9m0.8,-10.9v10.9m2.6,-10.9v10.9m0.4,-10.9v10.9m3.4,-10.9v10.9m1.6,-10.9v10.9m1.3,-10.9v10.9m2.4,-10.9v10.9m2,-10.9v10.9m0.4,-10.9v10.9" stroke="#e8392a" stroke-opacity="0.7" stroke-width="1" fill="none"/><path d="M3396.5,2722.9l93.9,0 2.7,-0.4 4.1,-2.3 1.3,-0.4 1.4,0.4 4.1,2.3 4.1,0.4 194.5,0" stroke="#3a8f28" stroke-width="1.6" fill="none" stroke-linejoin="round"/><path d="M3396.5,2694.2l1.4,-1.4 6.8,-9.2 4,-3.8 4.1,-2.1 8.2,-2.2 2.7,-1 4.1,-2.7 2.7,-2.9 2.7,-3.8 4.1,-7.6 10.9,-26.2 4.1,-8.3 4.1,-5.7 2.7,-2 1.3,-0.4 1.4,0.2 1.4,0.7 1.3,1.2 2.7,4.2 2.8,6.1 2.7,8 2.7,9.4 10.9,41.1 2.7,8.4 2.7,7 2.8,5.7 4,6.2 2.8,2.9 4,2.7 4.1,1.5 2.7,0.6 6.8,0.4 4.1,-0.2 9.6,-1.9 12.2,-4.2 6.8,-1.4 2.7,-0.3 4.1,0.5 5.4,1.2 13.6,5.1 6.8,1.7 4.1,0.6 114.3,0.6" stroke="#e8392a" stroke-width="1.9" fill="none" stroke-linejoin="round"/></g><rect x="3381.5" y="2608.6" width="335.4" height="125.2" fill="none" stroke="#777" stroke-width="1.3"/><path d="M3396.5,2733.8v4.5M3450.9,2733.8v4.5M3505.3,2733.8v4.5M3559.8,2733.8v4.5M3614.2,2733.8v4.5M3668.6,2733.8v4.5M3381.5,2722.9h-4.5M3381.5,2671.2h-4.5M3381.5,2619.5h-4.5" stroke="#444" stroke-width="1.1" fill="none"/><text x="3396.5" y="2750.9" text-anchor="middle">0</text><text x="3450.9" y="2750.9" text-anchor="middle">20</text><text x="3505.3" y="2750.9" text-anchor="middle">40</text><text x="3559.8" y="2750.9" text-anchor="middle">60</text><text x="3614.2" y="2750.9" text-anchor="middle">80</text><text x="3668.6" y="2750.9" text-anchor="middle">100</text><text x="3374.0" y="2727.7" text-anchor="end">0</text><text x="3374.0" y="2676.0" text-anchor="end">2</text><text x="3374.0" y="2624.3" text-anchor="end">4</text><text x="3549.2" y="2767.1" text-anchor="middle">Input: t</text><text transform="translate(3361.1,2671.2) rotate(-90)" text-anchor="middle">Intensity: λ(t)</text></g><g font-size="13.4"><clipPath id="c3767_2608"><rect x="3767.2" y="2608.6" width="335.8" height="125.2"/></clipPath><g clip-path="url(#c3767_2608)"><path d="M3783.4,2714.9v14m0.9,-14v14m0.3,-14v14m0,-14v14m0.3,-14v14m0,-14v14m0.4,-14v14m0.9,-14v14m0,-14v14m0.1,-14v14m0.1,-14v14m1.5,-14v14m1.3,-14v14m1.3,-14v14m0.3,-14v14m0.1,-14v14m4.9,-14v14m1.2,-14v14m0.2,-14v14m0.5,-14v14m0.6,-14v14m0.2,-14v14m0.5,-14v14m0.8,-14v14m1.6,-14v14m0.1,-14v14m0.6,-14v14m1.2,-14v14m0.4,-14v14m0.2,-14v14m0.1,-14v14m0.2,-14v14m0.6,-14v14m0.2,-14v14m1.1,-14v14m1.2,-14v14m0.6,-14v14m0.7,-14v14m0.1,-14v14m0.1,-14v14m0,-14v14m0.2,-14v14m0.1,-14v14m1.8,-14v14m0.1,-14v14m0.3,-14v14m0.5,-14v14m0.4,-14v14m1.5,-14v14m0.6,-14v14m0.3,-14v14m0.4,-14v14m0.6,-14v14m0.2,-14v14m0,-14v14m1.1,-14v14m0.1,-14v14m1.1,-14v14m0.3,-14v14m0.8,-14v14m0.5,-14v14m0,-14v14m0.6,-14v14m0.4,-14v14m0.1,-14v14m0.4,-14v14m0.3,-14v14m0.1,-14v14m0,-14v14m0.1,-14v14m0.2,-14v14m0.3,-14v14m0.1,-14v14m0.4,-14v14m1.3,-14v14m0.2,-14v14m0.8,-14v14m0.4,-14v14m2.2,-14v14m0.1,-14v14m3.1,-14v14m0.5,-14v14m2.3,-14v14m2,-14v14m0,-14v14m0.6,-14v14m0.1,-14v14m0.7,-14v14m3.1,-14v14m0.6,-14v14m0,-14v14m0.2,-14v14m1.2,-14v14m2,-14v14m0.1,-14v14m0.1,-14v14m1.4,-14v14m0,-14v14m0.2,-14v14m0.2,-14v14m0.4,-14v14m0.1,-14v14m0.9,-14v14m0.1,-14v14m0.2,-14v14m0.6,-14v14m0.2,-14v14m0.3,-14v14m1.1,-14v14m0.8,-14v14m1.4,-14v14m0.1,-14v14m0.2,-14v14m0.9,-14v14m0.1,-14v14m0.1,-14v14m0.5,-14v14m0.9,-14v14m1.9,-14v14m0.8,-14v14m0.1,-14v14m0.9,-14v14m1.2,-14v14m0.2,-14v14m0.2,-14v14m0.1,-14v14m1.3,-14v14m0.8,-14v14m0.3,-14v14m1.5,-14v14m3.3,-14v14m0.2,-14v14m0,-14v14m0.5,-14v14m0.4,-14v14m0.2,-14v14m0,-14v14m0.6,-14v14m1,-14v14m0.1,-14v14m1.5,-14v14m2.1,-14v14m0,-14v14m2.2,-14v14m1,-14v14m0,-14v14m0.4,-14v14m0.5,-14v14m5.8,-14v14m0.3,-14v14m0.3,-14v14m2.4,-14v14m0.6,-14v14m0.3,-14v14m1.3,-14v14m1,-14v14m0,-14v14m0.3,-14v14m0.5,-14v14m0.5,-14v14m0.1,-14v14m0,-14v14m1.8,-14v14m0.2,-14v14m1,-14v14m0.1,-14v14m0.4,-14v14m0.1,-14v14m1.3,-14v14m1,-14v14m1.4,-14v14m0.3,-14v14m0.3,-14v14m0.2,-14v14m0.2,-14v14m0.3,-14v14m0,-14v14m1,-14v14m0.3,-14v14m0.1,-14v14m0.2,-14v14m0,-14v14m0.5,-14v14m1.9,-14v14m0.8,-14v14m0.9,-14v14m7.3,-14v14m9.3,-14v14m15.9,-14v14m0.2,-14v14m8.1,-14v14m1.2,-14v14m1.4,-14v14m0.3,-14v14m1.7,-14v14m1.7,-14v14m3.2,-14v14m25.8,-14v14m0.4,-14v14m3.4,-14v14m0.4,-14v14m6.8,-14v14m3.3,-14v14m0,-14v14m0,-14v14m1.4,-14v14m0.6,-14v14m1.5,-14v14m1.8,-14v14m0.3,-14v14m0.9,-14v14m0.5,-14v14m0.7,-14v14m0.7,-14v14m0.2,-14v14m0.4,-14v14m0.8,-14v14m0.4,-14v14m1.2,-14v14m1.9,-14v14m0.2,-14v14m0.3,-14v14m1.3,-14v14m0.5,-14v14m0.6,-14v14m1.6,-14v14m3.4,-14v14m0.2,-14v14m0.6,-14v14m1.2,-14v14m0.3,-14v14m0.7,-14v14m0.5,-14v14m1,-14v14m0,-14v14m1.1,-14v14m1.1,-14v14m0,-14v14m0,-14v14m1.9,-14v14m0.5,-14v14m0.5,-14v14m1.8,-14v14m1.5,-14v14m0.7,-14v14m0.1,-14v14m10.1,-14v14m8.5,-14v14m3.4,-14v14m12.1,-14v14m2.5,-14v14m6.4,-14v14m6.9,-14v14" stroke="#000" stroke-opacity="0.62" stroke-width="1" fill="none"/><path d="M3782.2,2721.9v11.9m0,-11.9v11.9m0.2,-11.9v11.9m0.4,-11.9v11.9m0.4,-11.9v11.9m0.5,-11.9v11.9m0.5,-11.9v11.9m0.3,-11.9v11.9m3.8,-11.9v11.9m0.1,-11.9v11.9m1.9,-11.9v11.9m0.5,-11.9v11.9m6.8,-11.9v11.9m0.2,-11.9v11.9m0.5,-11.9v11.9m0.8,-11.9v11.9m0.4,-11.9v11.9m0.1,-11.9v11.9m0.6,-11.9v11.9m0.5,-11.9v11.9m0.3,-11.9v11.9m3.3,-11.9v11.9m22.8,-11.9v11.9m0.9,-11.9v11.9m1.7,-11.9v11.9m0.1,-11.9v11.9m0,-11.9v11.9m0.6,-11.9v11.9m1.4,-11.9v11.9m0.6,-11.9v11.9m0.2,-11.9v11.9m0.2,-11.9v11.9m1.1,-11.9v11.9m0.2,-11.9v11.9m0,-11.9v11.9m0.5,-11.9v11.9m0.8,-11.9v11.9m0.2,-11.9v11.9m0.1,-11.9v11.9m0.1,-11.9v11.9m0.4,-11.9v11.9m0.8,-11.9v11.9m0.1,-11.9v11.9m0.1,-11.9v11.9m1.2,-11.9v11.9m0.9,-11.9v11.9m1.3,-11.9v11.9m1.9,-11.9v11.9m1.7,-11.9v11.9m2.9,-11.9v11.9m1.8,-11.9v11.9m1.2,-11.9v11.9m0.2,-11.9v11.9m0.8,-11.9v11.9m0.2,-11.9v11.9m1.2,-11.9v11.9m0.4,-11.9v11.9m0.4,-11.9v11.9m0.3,-11.9v11.9m1,-11.9v11.9m0,-11.9v11.9m1.2,-11.9v11.9m0.1,-11.9v11.9m0.2,-11.9v11.9m0.4,-11.9v11.9m0.5,-11.9v11.9m0.3,-11.9v11.9m0,-11.9v11.9m0.2,-11.9v11.9m1.8,-11.9v11.9m0.9,-11.9v11.9m0,-11.9v11.9m0.2,-11.9v11.9m0.3,-11.9v11.9m0,-11.9v11.9m1,-11.9v11.9m3.3,-11.9v11.9m1.2,-11.9v11.9m17.9,-11.9v11.9m0.1,-11.9v11.9m0.9,-11.9v11.9m1.5,-11.9v11.9m3.9,-11.9v11.9m0.1,-11.9v11.9m4.9,-11.9v11.9m2.3,-11.9v11.9m2.6,-11.9v11.9m0.1,-11.9v11.9m1.8,-11.9v11.9m3.4,-11.9v11.9m0.7,-11.9v11.9m11.6,-11.9v11.9m2.6,-11.9v11.9m1,-11.9v11.9m5.7,-11.9v11.9m1.8,-11.9v11.9m2.3,-11.9v11.9m4.8,-11.9v11.9m3.3,-11.9v11.9m1.7,-11.9v11.9m5.5,-11.9v11.9m1.6,-11.9v11.9m1.7,-11.9v11.9m1.1,-11.9v11.9m0.6,-11.9v11.9m10.2,-11.9v11.9m3.5,-11.9v11.9m4.4,-11.9v11.9m7.5,-11.9v11.9m21.2,-11.9v11.9m1.1,-11.9v11.9m0.6,-11.9v11.9m0.3,-11.9v11.9m0.4,-11.9v11.9m0.8,-11.9v11.9m5.3,-11.9v11.9m0.8,-11.9v11.9m2.5,-11.9v11.9m0.8,-11.9v11.9m1.5,-11.9v11.9m0.4,-11.9v11.9m0.3,-11.9v11.9m0.3,-11.9v11.9m0.4,-11.9v11.9m5,-11.9v11.9m0.1,-11.9v11.9m0.6,-11.9v11.9m2.7,-11.9v11.9m1.3,-11.9v11.9m0.7,-11.9v11.9m0,-11.9v11.9m4.9,-11.9v11.9m0.7,-11.9v11.9m0.2,-11.9v11.9m1.7,-11.9v11.9m13.2,-11.9v11.9m7.7,-11.9v11.9m22.1,-11.9v11.9" stroke="#e8392a" stroke-opacity="0.7" stroke-width="1" fill="none"/><path d="M3782.2,2721.9l306.1,0" stroke="#3a8f28" stroke-width="1.6" fill="none" stroke-linejoin="round"/><path d="M3782.2,2623.5l1.4,-2.1 1.3,-1.4 1.4,-0.7 1.3,-0.1 1.4,0.5 1.4,1.1 1.3,1.6 2.7,4.6 9.6,20.9 4,7.4 2.8,3.8 2.7,2.7 2.7,1.6 2.7,0.6 1.4,-0.1 2.7,-0.9 2.7,-2 2.8,-2.8 4,-5.9 9.6,-17.1 4,-5.7 2.8,-2.4 1.3,-0.7 1.4,-0.2 2.7,0.6 2.7,2.2 4.1,5.5 12.3,23.3 5.4,8.8 5.4,7.2 5.5,6 8.1,7.7 4.1,3.2 4.1,2.5 4.1,2.1 4.1,1.5 5.4,1.5 4.1,0.8 6.8,0.2 12.2,-2 4.1,-0.2 5.5,1 10.8,3.8 8.2,1.8 10.9,1.2 4.1,-0.4 2.7,-0.7 2.7,-1.4 2.7,-2.2 2.8,-2.9 2.7,-3.7 4.1,-6.8 9.5,-17.8 4.1,-6.2 2.7,-3.1 2.7,-1.9 2.7,-0.6 1.4,0.2 1.4,0.5 2.7,1.9 4.1,5 4,7 13.6,26.8 5.5,8.4 4.1,4.8 5.4,4.5 5.4,2.8 6.8,1.7 8.2,0.8" stroke="#e8392a" stroke-width="1.9" fill="none" stroke-linejoin="round"/></g><rect x="3767.2" y="2608.6" width="335.8" height="125.2" fill="none" stroke="#777" stroke-width="1.3"/><path d="M3782.2,2733.8v4.5M3836.6,2733.8v4.5M3891.0,2733.8v4.5M3945.5,2733.8v4.5M3999.9,2733.8v4.5M4054.3,2733.8v4.5M3767.2,2721.9h-4.5M3767.2,2664.4h-4.5" stroke="#444" stroke-width="1.1" fill="none"/><text x="3782.2" y="2750.9" text-anchor="middle">0</text><text x="3836.6" y="2750.9" text-anchor="middle">20</text><text x="3891.0" y="2750.9" text-anchor="middle">40</text><text x="3945.5" y="2750.9" text-anchor="middle">60</text><text x="3999.9" y="2750.9" text-anchor="middle">80</text><text x="4054.3" y="2750.9" text-anchor="middle">100</text><text x="3759.7" y="2726.7" text-anchor="end">0</text><text x="3759.7" y="2669.2" text-anchor="end">2</text><text x="3935.1" y="2767.1" text-anchor="middle">Input: t</text><text transform="translate(3746.8,2671.2) rotate(-90)" text-anchor="middle">Intensity: λ(t)</text></g></svg>
<div class="t " style="left:1532.0px;top:1642.2px;font-size:36.00px;line-height:43.20px;font-family:'Liberation Serif', serif;width:2400.0px;text-align:center;">(a) Initial step.</div>
<div class="t " style="left:1934.5px;top:1642.2px;font-size:36.00px;line-height:43.20px;font-family:'Liberation Serif', serif;width:2400.0px;text-align:center;">(b) Step 8.</div>
<div class="t " style="left:2334.6px;top:1642.2px;font-size:36.00px;line-height:43.20px;font-family:'Liberation Serif', serif;width:2400.0px;text-align:center;">(c) Step 14.</div>
<div class="t " style="left:2735.4px;top:1642.2px;font-size:36.00px;line-height:43.20px;font-family:'Liberation Serif', serif;width:2400.0px;text-align:center;">(d) Step 20.</div>
<div class="t " style="left:2091.0px;top:1697.5px;font-size:40.00px;line-height:48.00px;font-family:'Liberation Serif', serif;width:2400.0px;text-align:center;">Figure 2: BO evaluation on synthetic intensity function.</div>
<svg style="left:0;top:0" width="4320" height="2880" viewBox="0 0 4320 2880" font-family="'Liberation Sans', sans-serif" font-size="16.5" fill="#222"><defs><clipPath id="dcclip"><path d="M78.4,2.8 2.6,83.3 5.6,93 10.7,100.9 16.7,105 18.8,111.1 25.8,119.1 33.8,123.2 44,125.4 53,128.2 56.1,133.1 57.2,141.3 60.1,148.2 65.2,155.4 69.1,159.2 70.2,165.3 76.4,167.5 79.3,173.5 78.2,177.4 82.4,181.5 85.2,189.5 86.3,199.7 83.4,206.5 73.3,207.6 74.3,213.7 79.3,218.6 78.2,224.7 82.4,228.8 80.3,234.8 82.4,247.8 81.3,261.8 80.5,272 205.6,138.3z"/></clipPath><g id="dcmesh"><g clip-path="url(#dcclip)"><path d="M90.7,4.2l-10.1,6.1M52.4,-5.2l28.2,15.5M8.8,83.4l2.6,-2.7M11.4,80.7l-0.3,-5.5M-433.3,-46.6l442.1,130M-39,21.1l50.1,54.1M9.4,90.8l6.6,-0.7M9.4,90.8l-0.7,-7.4M11.4,80.7l4.6,2.8M16,90.1l-0.1,-6.6M60.8,42.1l3.3,-4.2M60.8,42.1l-6.3,-5.6M54.5,36.5l-0.3,-1.2M54.3,35.3l7.5,-2M64.1,37.8l0,-2.9M61.8,33.3l2.3,1.7M60.4,25.6l1,1.3M40.7,16.3l19.7,9.2M61.4,26.9l0.3,6.4M40.7,16.3l13.6,19M61.4,26.9l8.7,3.8M70.1,30.6l-6,4.3M54.3,57l1,10.2M60.9,66.5l-5.6,0.7M54.3,57l8.9,0.1M60.9,66.5l2.6,-9.1M63.2,57l0.3,0.3M63.5,57.3l3.6,0.8M65.3,68.9l2.7,-2.9M65.3,68.9l-4.4,-2.4M68,66.1l-0.9,-7.9M90.7,4.2l-4.3,12.5M184.2,-40.5l-93.8,60.2M86.4,16.7l4,3M49.3,44.9l-4.3,-0.5M49.3,44.9l5.3,-8.4M38.9,39.8l6,4.6M53.9,48.8l-4.6,-4M53.9,48.8l-1,6.8M52.8,55.7l-4.2,1M48.6,56.7l-4.8,-4.4M44.9,44.4l-1.1,8M-184.6,-110.1l215.9,172.8M30.7,52l0.6,10.7M38.9,39.8l-1.7,13.2M30.7,52l6.5,1M43.8,52.3l-5.5,1.8M37.3,53l1,1.1M55.9,86.6l0.4,0.5M56.3,87.1l-8.4,8M47.7,86l-2.4,6.4M47.7,86l8.2,0.6M45.3,92.4l2.6,2.7M-39,21.1l61.3,46.8M11.1,75.2l9.9,1M22.3,67.9l0.4,4M21,76.2l1.7,-4.3M31.8,64.4l0.8,10.2M31.8,64.4l10.2,6.5M42,71.7l0.1,-0.8M42,71.7l-9,3.4M33,75.1l-0.4,-0.5M22.7,71.9l9.9,2.7M31.3,63.5l0.5,0.9M22.3,67.9l9,-4.4M9.4,90.8l-50.6,37.3M16,90.1l2.5,1.4M20.7,95l-2.2,-3.5M20.7,95l-56.5,30.9M80.5,68.2l-1.5,-3.9M80.5,68.2l3.6,-2.7M84.1,65.5l-0.4,-2.2M83.8,63.3l-3.9,0.2M79.9,63.5l-0.9,0.7M52.8,55.7l1.5,1.3M63.2,57l0,-2M53.9,48.8l4.9,-2.1M63.2,55l-4.4,-8.3M60.8,42.1l0.3,2.2M58.8,46.8l2.3,-2.5M73.3,48.5l-2.2,2M73.3,48.5l-0.4,-5.1M71.1,50.5l-4.5,-1.1M72.9,43.4l-1.1,-1.1M71.8,42.3l-7.9,2.9M64,45.2l2.6,4.2M63.2,55l3.4,-5.6M67.1,58.1l3.5,-1.1M70.6,57.1l0.4,-6.6M71.4,39.4l0.5,2.9M64.1,37.8l7.3,1.6M61.1,44.2l2.9,1M74.9,58l-1.8,0.1M74.9,58l2.6,6.2M73.1,58.2l-0.5,7.4M77.5,64.2l-3.2,2.5M74.2,66.7l-1.7,-1.2M75.8,57.6l3.5,1.9M79.4,59.5l0.5,4M79,64.2l-1.5,0M75.8,57.6l-1,0.4M70.6,57.1l2.4,1.1M68,66.1l4.5,-0.5M74.4,67.2l5.6,2.8M80.5,68.2l-0.5,1.8M74.4,67.2l-0.2,-0.5M74.4,67.2l-1.5,5M68.3,74.9l4.6,-2.7M66.8,74.5l1.5,0.4M65.3,68.9l1.5,5.6M43.5,62.1l-12,0.9M43.5,62.1l-5.2,-6.8M38.3,55.3l-6.8,7.7M31.5,63l0,0M31.3,63.5l0.2,-0.5M45,65.7l-0.8,-3.2M44.2,62.5l-0.7,-0.3M45,65.7l-2.9,5.2M48.6,56.7l-4.4,5.8M38.3,54.1l0,1.2M31.3,62.7l0.1,0.3M42.3,72.2l7.5,2.2M42.3,72.2l0.7,9.2M42.9,81.4l1.6,0.5M44.5,81.9l6.7,-3.9M51.2,78l-1.5,-3.6M45,65.7l9.3,1.9M42.3,72.2l-0.3,-0.5M49.7,74.4l4.5,-6.7M55.3,67.1l-0.3,0.3M55,67.5l-0.8,0.2M33,75.1l-0.4,4.1M42.9,81.4l-0.6,0.3M32.6,79.2l9.7,2.4M38,89.8l3.6,2.4M45.3,92.4l-3.7,-0.2M47.7,86l-3.2,-4.1M38,89.8l-0.1,-0.7M42.3,81.7l-4.3,7.4M21.1,79.2l1.6,7.2M21.1,79.2l0.4,-0.9M21.5,78.3l9.1,3.4M22.7,86.4l5.8,-0.1M28.4,86.3l2.2,-3.5M30.7,82.8l0,-1.1M18.5,91.5l4.2,-5.1M15.9,83.5l5.2,-4.3M21,76.2l0.6,2.1M32.6,79.2l-2,2.4M32.7,94.1l5.3,-4.3M29,94.4l3.7,-0.3M29,94.4l-0.5,-8.1M38,89l-7.3,-6.3M189.2,120.8l-4.9,4.1M189.2,120.8l2.9,11.8M192.1,132.6l-3.8,2.1M188.4,134.7l-4.5,-0.8M184.3,124.9l-0.5,9M18.7,105.9l5.8,3.5M18.7,105.9l4.2,-9.2M24.4,109.4l5,-6.4M29.4,103l-3.4,-6.3M22.9,96.7l3.2,0.1M25,110.8l-0.6,-1.4M-35.8,125.9l54.4,-20M20.7,95l2.2,1.7M27.2,112.2l4,-1.6M25,110.8l2.2,1.5M32.5,104.5l-1.3,6.2M32.5,104.5l-3,-1.5M29,94.4l-2.9,2.3M41,117.3l-5.1,-3.8M35.9,113.5l-6.6,7.3M24,150.1l5.3,-29.4M27.2,112.2l2.1,8.5M35.8,113l-4.6,-2.4M35.8,113l0.1,0.4M38.2,106.9l-3.3,-2.6M38.2,106.9l5.7,-5.3M34.9,104.3l2.2,-5M37.1,99.3l2.7,-0.5M39.8,98.8l4.2,2.6M43.9,101.6l0,-0.2M32.5,104.5l2.5,-0.2M38.5,107.8l-2.7,5.2M38.5,107.8l-0.3,-0.9M46.4,107l-2.5,-5.4M45.1,110.8l1.2,-3.8M45.1,110.8l-6.6,-3M32.7,94.1l4.4,5.2M41.6,92.1l-1.8,6.6M48.8,97.8l-4.8,3.6M47.9,95.1l0.9,2.7M75.8,57.6l4.1,-5.9M73.3,48.5l6.5,2.7M79.8,51.2l0.2,0.5M72.9,43.4l9.4,-1.6M82.3,41.8l0.7,1.8M79.8,51.2l3.2,-7.7M83.9,37.2l-0.8,0.6M82.3,41.8l0.8,-4.1M83,43.6l5.1,2.6M88.1,46.1l4.8,-4.2M83.9,37.2l8.9,2.1M92.9,42l-0.1,-2.7M88.1,46.1l2.3,5.4M90.3,51.6l6.4,-5.6M92.9,42l3.9,3.9M87.1,30l-3.1,7.1M93.8,30.4l-6.8,-0.4M93.8,30.4l0.2,7.5M94.1,37.9l-1.3,1.4M92,64.6l-0.1,-0.2M92,64.4l1.9,-6M95.5,65.5l-3.5,-0.9M95.5,65.5l3.2,-5M93.8,58.4l4.9,2.1M97.2,67l6.3,-4.7M97.2,67l-1.7,-1.5M103.4,62.3l0.4,-3.7M98.7,60.5l5.1,-1.9M55.8,84.2l5.3,-7.4M55.8,84.2l-3.9,-6M51.9,78.2l5.4,-3.8M61.2,76.8l-3.9,-2.4M55.9,86.6l-0.1,-2.4M51.2,78l0.7,0.2M55,67.5l2.2,7M64.2,76.5l-3,0.3M66.8,74.5l-2.6,2M84.6,198.2l5.1,6.9M50.4,243.7l37.5,-19.6M87.9,224.1l8.5,14.3M91.1,250.2l5.2,-11.8M92,219.2l-4.1,5M111.6,67.3l-3.9,0.6M111.6,67.3l1.9,-2.4M113.6,62.9l-0.2,2M113.6,62.9l-4.6,1M109,63.9l-1.3,4M175.6,133l-2.1,0.3M173.5,133.3l-5.6,4.2M177.6,134.6l-2,-1.6M174.8,143.3l2.7,-8.7M174.8,143.3l-5.5,-2M167.9,137.5l1.4,3.8M64.6,82.3l-6.6,6.1M64.6,82.3l5.4,4.3M70,86.5l-10.8,3.7M58,88.3l1.3,1.9M64.2,76.5l0.4,5.7M56.3,87.1l1.7,1.2M45.1,110.8l1,2.6M41,117.3l4.5,-1.6M46.2,113.4l-0.7,2.3M82.6,53.2l7.7,-0.6M82.6,53.2l0.7,5.8M83.3,58.9l1.9,1.9M90.7,53.3l-0.5,-0.7M90.7,53.3l-4.1,7.2M86.6,60.6l-1.4,0.2M80,51.7l2.6,1.5M90.3,51.6l-0.1,1M79.4,59.5l3.9,-0.6M83.8,63.3l1.4,-2.5M93.8,58.4l-0.7,-3.7M93.1,54.8l-2.4,-1.4M92,64.4l-5.3,-3.8M86.5,67.9l3.5,-0.4M86.5,67.9l-2.4,-2.4M90,67.4l2,-2.8M90.6,22.1l-4.2,3.2M90.6,22.1l8.5,4.5M93.8,30.4l5.3,-3.8M87.1,30l-1.2,-2M86.4,25.3l-0.5,2.7M90.4,19.7l0.2,2.4M86.4,16.7l-3.2,2.1M86.4,25.3l-3.2,-6.6M80.6,10.3l-4.1,8.1M83.2,18.8l-6.8,-0.4M70.1,30.6l0.8,-0.1M71.4,39.4l1.3,-3.6M70.9,30.5l1.8,5.3M83.1,37.7l-2.1,-1.2M72.7,35.9l8.3,0.7M96.8,45.9l1.7,0.2M94.1,37.9l6.6,0.6M98.5,46.1l2.2,-7.6M93.1,54.8l8.1,-1.4M104.1,58.2l-0.3,0.4M104.1,58.2l0.6,-1.8M101.2,53.4l3.5,3M98.5,46.1l1.9,1.6M101.2,53.4l-0.8,-5.7M92,219.2l2.3,0.7M94.3,219.9l4.6,3.4M109.1,200.5l0.8,-2.3M109.1,200.5l-3.7,2.4M109.9,198.2l-5.3,-2.2M105.3,202.9l-0.3,-0.2M105,202.7l-2,-3.5M104.5,196l-1.5,2.7M103,199.2l0,-0.5M96.1,205.9l6.3,1.9M96.1,205.9l8.9,-3.2M102.4,207.7l3.6,-2.7M106,205l-0.6,-2M90.1,205.9l6,-0.1M97.9,196.1l5.1,2.6M97.9,196.1l-13.3,2.1M107.6,206.6l0.6,0.2M108.2,206.7l2.2,-0.4M106,205l1.6,1.6M109.1,200.5l2.8,2.7M111.9,203.2l-1.5,3.1M114.3,61.4l-0.7,1.4M114.3,61.4l5.7,4.3M113.5,64.9l3.3,3.6M120.1,65.8l-3.3,2.7M113.7,71.3l3,-2.1M113.7,71.3l-2.1,-4M116.8,68.5l-0.1,0.7M49.6,121.4l6.1,-3.5M55.7,117.9l0.5,-4.1M45.5,115.7l4.1,5.8M46.2,113.4l6.1,-1.8M52.3,111.6l4,2.3M97.2,67l0.5,1.1M90,67.4l1.6,6.8M91.6,74.3l3.8,-2.2M97.6,68.1l0,0.3M95.4,72l2.3,-3.6M103.4,62.3l1.4,4.6M107.7,67.9l0,0M104.1,58.2l4.9,5.7M107.6,67.9l-2.8,-1M97.6,68.1l6.4,-0.5M104.8,66.9l-0.8,0.7M183.9,133.9l-2.1,1.4M184.3,124.9l-3.4,0.3M177.6,134.6l4.2,0.7M175.6,133l0.5,-3M180.9,125.2l-4.8,4.9M145.8,143.5l-0.2,4M145.8,143.5l1.4,-1.3M147.2,149l3.1,-3.9M145.6,147.5l1.6,1.5M147.2,142.3l3,2.9M173.5,133.3l-4.7,-4.9M176.1,130l-3.7,-5.4M168.8,128.5l3.6,-3.9M128.5,133l-1,0.2M130.3,134.3l-1.8,-1.2M130.8,137.1l-0.5,-2.8M130.8,137.1l-2.9,0.6M127.9,137.6l-0.5,-4.4M55.7,117.9l8.4,6.4M49.6,121.4l-0.7,14.3M75.2,18.9l6.1,8.4M75.2,18.9l-2.1,0.2M73.1,19.1l-0.5,1M72.6,20.1l-1,9.3M71.7,29.4l6.4,0.7M81.3,27.3l-3.2,2.9M85.9,28l-4.5,-0.7M76.5,18.4l-1.3,0.6M52.4,-5.2l20.7,24.3M60.4,25.6l12.2,-5.5M70.9,30.5l0.8,-1.1M81,36.5l-2.9,-6.4M100.8,38.5l5.4,1.1M100.8,38.5l-0.1,-12.3M106.2,39.6l5.6,-3.3M100.3,47.7l5.2,-2.7M105.5,45l0.7,-5.3M100.7,38.6l0.1,-0.1M99.1,26.7l1.5,-0.5M104.9,56.4l5.5,-7.4M104.9,56.4l9.5,2.8M114.4,59.1l1.4,-1.2M115.8,57.9l1.1,-5.7M116.9,52.3l-2,-3M114.9,49.3l-3.1,-0.7M111.8,48.6l-1.4,0.4M105.5,45l4.9,4M104.7,56.4l0.2,-0.1M114.3,61.4l0.1,-2.3M121.2,59.4l-5.4,-1.4M121.2,59.4l-1,6.4M120.2,65.8l-0.1,0M121.2,59.4l1.8,-0.3M130.2,51l-7.3,8M130.2,51l-13.3,1.3M170.2,-27l-55.3,76.3M111.7,36.3l0,12.3M137.5,156.3l-0.5,-1.4M142.1,152.7l-5,2.3M144.6,153.6l-2.6,-0.9M144.6,153.6l-0.8,2.4M137.5,156.3l2.5,1M140,157.3l3.9,-1.4M127.9,137.6l-0.6,0.8M126.2,132.9l1.2,0.3M123.5,136.4l1.4,1.9M123.5,136.4l2.8,-3.5M127.3,138.4l-2.4,-0.2M135.1,153.3l-2.3,0.9M135.1,153.3l2,1.7M137.5,156.3l-1.2,4M136.4,160.3l-7.1,-0.2M129.3,160.1l-0.4,-0.7M132.8,154.2l-3.9,5.2M110.2,175.5l-1.9,3.5M110.2,175.5l-4.3,-2M107.7,179.4l0.7,-0.4M107.7,179.4l-2.8,-1.2M105.9,173.5l-1.2,4.2M104.9,178.2l-0.2,-0.4M132.5,181.1l-1.6,-2.2M130.9,178.9l-2.4,-0.7M132.4,181.4l-4.8,3.4M127.6,184.8l-0.8,-0.8M132.5,181.1l-0.1,0.3M128.5,178.2l-1.3,0.4M127.3,178.6l-0.5,5.4M127.6,184.8l0.2,1.4M127.8,186.2l-2.5,3.1M125.3,189.3l-3.6,-3.3M121.7,186l2.8,-2.6M126.8,184l-2.3,-0.6M132.4,181.4l1,3.8M127.8,186.2l3.4,1.8M133.4,185.2l-2.2,2.8M121.4,202.5l-0.4,0.2M120.6,207l0.4,-4.3M124.6,207l1.1,-1.9M124.6,207l-4,0M121.4,202.5l3.6,1.4M125,203.9l0.6,1.2M94.3,219.9l5.1,-3.1M99.4,216.8l3.7,-5.5M107.6,206.6l-2.7,5M102.4,207.7l0.9,3.5M104.8,211.6l-1.5,-0.3M103.2,211.3l0.1,-0.1M99.4,216.8l7.2,-1.3M104.8,211.6l2.3,2.6M106.6,215.5l0.5,-1.3M108.2,206.7l1.9,6.4M107.1,214.2l2.9,-1.1M125.3,189.3l-0.1,0.9M125.2,190.2l-4.9,-0.3M121.7,186l-0.8,0M120.2,189.9l-1.5,-1.4M120.9,186l-2.1,2.6M119.8,208l-3.8,-1M116,207.1l-0.5,-4.6M121.1,202.7l-2.6,-1.3M120.6,207l-0.9,1.1M118.4,201.4l-2.9,1.1M156.8,178l3.7,1.8M156.8,178l-3.6,4M153.6,183.4l-0.4,-1.3M153.6,183.4l7.7,-2.2M161.4,181.2l-0.9,-1.3M161.1,174.5l-0.6,5.3M161.1,174.5l-5.8,-0.4M155.3,174.1l-0.1,0.5M155.2,174.6l1.6,3.5M123,59l2.3,4.5M120.2,65.8l2.1,0.9M122.3,66.7l3,-3.2M133.6,58.2l-6,5.6M133.6,58.2l-0.6,8M133.1,66.2l-4.2,1.2M127.6,63.8l1.2,3.6M127.6,63.8l-2.3,-0.3M116.6,69.2l2.7,2.6M113.5,71.7l0.2,-0.4M113.5,71.7l2.7,2.8M119.3,71.8l-3.1,2.7M133.7,67l0.4,3.4M133.7,67l9.6,-1.5M143.3,65.5l-9,5.2M134.1,70.4l0.3,0.3M131.5,74.7l3.5,-1.2M130.1,79l1.4,-4.4M130.3,79.7l0.2,0.2M130.3,79.7l-0.2,-0.7M130.4,80l5.1,-2.2M135.5,77.8l-0.5,-4.4M46.4,107l4.6,-1.8M52.3,111.6l0.6,-4.4M50.9,105.2l2,2M56.3,113.8l3.3,-1.9M52.9,107.1l5.3,-1.7M58.2,105.5l1.1,1.5M59.6,111.9l-0.2,-5M100,75.3l-4.6,-3.3M100,75.3l1.5,-1M97.6,68.4l4.2,4.7M101.5,74.3l0.4,-1.1M104,67.6l-1.5,5M101.9,73.1l0.7,-0.5M91.3,74.9l0.3,1M91.6,75.9l3.2,2.4M91.6,74.3l-0.3,0.6M100,75.3l-0.2,0.3M99.9,75.6l-5.1,2.7M118.9,84.4l-0.3,2M118.6,86.4l-1.5,2.1M115.8,83.4l3.1,1M115.8,83.4l-2.4,2.6M113.4,86l3.7,2.4M115.8,83.4l-2.1,-2.8M113.8,80.6l-0.5,-0.2M113.4,86l-1.6,0.2M109.5,83.8l2.3,2.4M109.5,83.8l2.5,-3M112,80.8l1.3,-0.4M117.5,79.2l-3.8,1.4M117.5,79.2l0.3,-2.6M117.8,76.6l-1.4,-1.2M116.4,75.4l-2.6,1.6M113.3,80.4l0.5,-3.3M168.8,128.5l-5.6,0.2M167.9,137.5l-0.2,-0.1M167.6,137.4l-4.4,-8.7M180.9,125.2l-6,-3.9M172.4,124.6l0.2,-2.6M174.9,121.2l-2.3,0.8M133.9,145.9l-1.5,1.5M133.9,145.9l-1.5,-5.3M132.4,140.6l-3.4,1.5M131.2,147.3l-2.2,-5.1M131.2,147.3l1.2,0.2M129,142.1l0,0.1M127.3,138.4l1.7,3.7M130.8,137.1l3.1,1.9M133.9,138.9l-1.5,1.7M124.4,146l4.3,2.5M128.8,148.5l2.4,-1.2M124.6,144l-0.2,2M124.6,144l4.4,-1.9M132.8,154.2l-4.8,-2.8M128.8,148.5l-0.7,2.9M135.1,153.3l0.1,-0.9M135.2,152.4l-2.8,-5M123.2,142.2l1.4,1.8M124.9,138.2l-1.7,4M138.4,149.1l0.1,-2.6M138.4,149.1l2.8,1.1M141.2,150.2l2.2,-2.8M143.4,147.4l-2.9,-2.2M140.5,145.2l-2,1.3M135.7,145.3l-1.8,0.6M135.7,145.3l2.8,1.2M135.2,152.4l3.2,-3.3M142.1,152.7l-0.9,-2.5M144.6,153.6l3.4,-1.5M148.1,152l0.2,-0.2M145.6,147.5l-2.2,-0.1M147.2,149l1.1,2.9M140.4,138.6l1.8,1.6M140.4,138.6l-3.6,0.9M136.9,140.1l-0.1,-0.6M136.9,140.1l3.6,4.6M142.2,140.2l0.4,2.3M140.6,144.7l2,-2.2M133.9,138.9l1.2,-0.4M135.1,138.5l1.7,1M135.7,145.3l1.2,-5.2M140.5,145.2l0.1,-0.5M145.8,143.5l-3.2,-1.1M120.1,135.9l2.5,-4.7M120.1,135.9l3.4,0.4M126.2,132.9l-0.8,-1.2M125.4,131.7l-2.8,-0.5M125.4,131.7l0.5,-2.1M122.2,130.7l0.4,0.5M122.2,130.7l0.2,-2.5M122.5,128.2l2,-0.6M125.9,129.6l-1.5,-2.1M122.5,128.2l-2.7,-2.4M122.2,130.7l-5.3,-0.7M117,130l2.8,-4.2M117,130l-0.9,0.6M116.1,130.6l0.1,1.6M120.1,135.9l-0.5,0.1M116.2,132.2l3.4,3.9M120.1,141.4l3.1,0.8M120.1,141.4l-0.7,-4.8M119.7,136l-0.2,0.6M77.7,141.8l-1.2,8.7M76.4,150.5l16.3,-3M92.7,147.5l0.4,-3.9M93.8,138.9l1.2,3.6M94.8,142.7l0.1,-0.2M94.8,142.7l-1.7,0.9M93.8,138.9l-8.1,2.2M95.1,149.2l-0.5,2M73.3,160.4l21.3,-9.2M95.1,149.2l-2.4,-1.7M94.8,142.7l3.3,5.3M95.1,149.2l3,-1.2M64.2,124.3l1.3,-0.3M72.1,136.9l-4.2,-10.6M65.5,124l2.4,2.3M93.8,138.9l0.8,-1.9M79.9,139.1l-0.8,1.4M90.5,134.4l4,2.6M101,144.9l5.4,1.6M101,144.9l-1.8,3.1M99.2,148l2.5,3.6M106.4,146.5l-3.7,5.5M102.6,152l-0.8,-0.4M94.6,151.2l1.8,3.4M98.1,148l1.1,0M96.4,154.6l5.4,-3.1M100.3,175.9l4.3,1.9M105.9,173.5l-0.7,-1.7M100.3,175.9l-0.2,-1.3M105.2,171.8l0,0M100.2,174.6l5,-2.8M158.8,155.6l2.5,6.1M158.8,155.6l5.8,-2.8M164.6,152.8l1.9,0.4M164.8,161.3l2.3,-6.2M164.8,161.3l-3.5,0.5M166.5,153.2l0.6,1.9M155.6,155.2l3.2,0.4M155.6,155.2l0.8,-5.5M162.3,149.6l-5.9,0.2M162.3,149.6l2.3,3.3M126.9,152.2l1.1,-0.8M126.9,152.2l0.6,5.2M128.9,159.4l-0.1,0M127.5,157.4l1.3,2M98.5,183.3l0.5,-0.7M99,182.6l-0.2,-4.1M80.2,173.4l5.5,-0.3M98.4,183.8l0.1,-0.4M94.2,189.2l4.2,-5.4M101.8,181.9l-2.8,0.7M101.8,181.9l3.1,-3.7M100.3,175.9l-1.6,2.6M100.2,174.6l-3.7,-3.8M96.4,170.8l-10.7,2.3M98.4,183.8l4.6,3.8M103,187.6l1.4,-0.3M101.8,181.9l4.6,2M104.5,187.3l1.9,-3.4M107.7,179.4l-0.2,4M108.3,179l5.5,2M113.4,181.9l-4.4,2.3M113.8,181l-0.4,0.9M109,184.2l-1.5,-0.8M106.4,183.9l1.1,-0.5M98.4,190.5l4,-1.3M98.4,190.5l2.4,3M102.4,189.3l1.2,4.3M100.8,193.5l2.8,0M103,187.6l-0.6,1.7M97.9,196.1l2.8,-2.6M104.5,196l-0.1,-1.9M104.4,194.1l-0.8,-0.6M114,180.8l-1.7,-5.5M114,180.8l-0.2,0.2M110.2,175.5l0.7,-0.3M110.9,175.2l1.4,0.2M132.5,181.1l2.2,-0.5M130.9,178.9l2.1,-4.2M134.7,180.6l3.6,-4.2M138.2,176.4l-5.3,-1.7M136.4,160.3l1.1,2.4M129.3,160.1l0,2.6M129.3,162.7l0.4,1.1M129.7,163.8l6.5,1.5M137.5,162.7l-1.3,2.6M153.1,190.4l-1.9,-2.9M153.1,190.4l-3.1,2.4M150,192.8l-1.9,-0.4M147.8,192l0.3,0.4M147.8,192l1.4,-3.7M149.1,188.3l2,-0.8M153.6,183.6l-2.2,2.4M167,195.4l-13.3,-11.9M167,195.4l-13.9,-5.1M151.4,186l-0.3,1.5M125.2,190.2l0.4,1.6M125.6,191.8l4.4,1.3M131.2,188l1.1,2.7M132.3,190.7l-2.3,2.5M133.4,185.2l2.4,0.9M134.7,180.6l3,2.6M135.8,186l1.9,-2.8M140.1,177.3l0.3,4.3M140.4,181.6l-1,1.6M138.8,176.2l-0.6,0.2M138.8,176.2l1.3,1.1M137.7,183.2l1.7,0M148.1,192.3l-1.6,5.2M150,192.8l2.6,7M146.5,197.5l6.1,2.3M125.6,191.8l-1.3,1.6M120.2,189.9l0.4,4.6M124.4,193.5l-3.7,1.1M118.7,195.8l-0.3,5.6M118.7,195.8l0.7,-0.2M121.4,202.5l2.2,-3.2M119.4,195.6l4.3,3.6M130.7,201.2l-3.9,-0.4M130.7,201.2l-1.1,-4.7M129.7,196.5l-4.2,0.8M126.8,200.8l-2.1,-1.8M124.7,199l0.7,-1.6M128.8,205.2l-3.1,-0.2M131.9,202.3l-1.2,-1.1M131.9,202.3l-3.2,2.9M125,203.9l1.8,-3.1M124.4,193.5l1.1,3.8M130,193.2l0.3,1.5M130.3,194.7l-0.6,1.8M123.6,199.3l1.1,-0.3M120.6,194.5l-1.3,1.1M106.6,215.5l0.8,4.6M98.9,223.3l5.7,0.3M107.4,220.1l-2.7,3.5M105.8,234.4l1.3,-8.1M107.1,226.4l-2.5,-2.8M105.8,234.4l1.7,0.8M111.6,219.8l-4.2,0.2M110,213.1l0.4,0M111.6,219.8l-0.3,-6.1M110.4,213.2l0.9,0.6M110.3,206.4l3,1.9M110.4,213.2l2.9,-4.9M111.9,203.2l3.2,-0.9M116,207.1l-1.5,1.1M115,202.3l0.5,0.2M113.3,208.2l1.2,-0.1M162.5,173.3l-1.4,1.2M162.5,173.3l8.5,2.4M161.4,181.2l22,15.8M153.6,183.6l0,-0.2M198.6,134.8l-6.4,-2.2M198.6,134.8l-3.2,6.1M188.4,134.7l1.4,7M189.8,141.7l5.5,-0.8M174.8,143.3l3.6,4.4M181.8,135.3l1.5,8.6M178.4,147.7l4.9,-3.8M169.3,141.3l-1.8,2.6M168.2,151.4l-0.8,-7.4M168.2,151.4l9.9,-2.3M178.4,147.7l-0.3,1.4M189.8,141.7l-2.3,2.3M183.3,143.9l4.2,0.1M202.5,156.7l-10.5,-5.4M195.3,140.9l7.2,15.8M187.5,144l4.5,7.3M140,157.3l1.4,2.2M143.9,155.9l0.8,3.1M144.7,159l-3.3,0.4M148.1,152l-0.3,8M147.8,160.1l-1.5,0.4M144.7,159l1.5,1.4M137.5,162.7l2.8,-0.1M141.4,159.5l-1.1,3.2M154.8,155.6l-0.6,1.7M148.4,151.9l6.4,3.7M148.4,151.9l-0.1,0M147.8,160.1l0.3,0.1M154.2,157.2l-6.2,2.9M160.5,164.7l-4.2,2.3M160.5,164.7l1.7,3.3M162.2,168l-1.1,1.8M161.1,169.8l-3.1,0.2M156.3,167l1.7,2.9M162.5,173.3l-1.3,-3.5M155.3,174.1l-0.1,-0.4M158,170l-2.8,3.7M156.3,167l-1.8,-0.8M152.7,171.7l0.8,-4.5M155.2,173.7l-2.5,-2M154.5,166.2l-1,1M123,68.6l4.8,1.6M123,68.6l-2.1,3.5M120.9,72l1.5,3.6M127.8,71.9l0,-1.7M127.8,71.9l-2.2,3.2M125.6,75.1l-2.7,0.9M127.8,70.2l0,0M123,76l-0.5,-0.4M122.3,66.7l0.8,1.8M128.8,67.4l-1,2.8M119.3,71.8l1.6,0.2M117.8,76.6l4.7,-1M116.2,74.5l0.1,1M131.5,74.7l-3.7,-2.7M135,73.4l0,0M134.4,70.7l0.7,2.6M134.1,70.4l-6.3,-0.2M130.1,79l-4.4,-3.9M133.1,66.2l0.6,0.8M135.1,73.4l6.5,-0.1M141.6,73.3l10,-7.7M146.3,84.5l1.5,-10.1M206.3,17.4l-58.3,66.8M146.3,84.5l0,0M148,84.1l-1.7,0.4M49.7,98.2l1.3,2.2M49.7,98.2l10.3,-4.3M51.1,100.5l7.2,2.2M58.3,102.7l4,-6M60.1,94l2.2,2.7M62.3,96.7l0,0M48.8,97.8l1,0.5M50.9,105.2l0.1,-4.7M59.2,90.2l0.8,3.8M58.2,105.5l0,-2.8M59.3,107l8,-1.3M67.6,104.4l-0.2,1.3M67.6,104.4l-5.3,-7.7M70.8,86.7l0.7,1.7M70,94.3l1.4,-5.9M70,86.5l0.8,0.2M70,94.3l-7.7,2.4M86.5,67.9l-2.1,3.2M91.3,74.9l-3,-0.5M88.3,74.4l-3.8,-3.4M124.2,84.1l-3.9,-1M124.2,84.1l0.8,-4.2M123,77.1l-2.9,4.4M123,77.1l2,2.9M120.1,81.4l0.2,1.7M123,76l0,1.1M117.5,79.2l2.5,2.2M130.3,79.7l-5.3,0.2M118.9,84.4l1.4,-1.2M126.4,84.7l3.7,4.5M126.4,84.7l-1.9,-0.3M124.5,84.4l-1.7,4.7M127.7,91.1l2.5,-1.9M127.7,91.1l-4.6,-1M123.1,90l-0.2,-1M132.9,83.2l-0.3,4.4M131.5,89.2l1.2,-1.6M130.4,80.1l2.5,3.1M131.5,89.2l-1.3,0M130.4,80.1l-4,4.6M130.4,80l0,0.1M124.2,84.1l0.3,0.3M118.6,86.4l4.3,2.7M121,92.3l-1.2,0.2M121,92.3l2.1,-2.2M117.1,88.5l-0.3,2M119.8,92.4l-3,-1.9M111.8,86.2l-0.3,3.6M116.8,90.5l-2.5,1.2M114.3,91.7l-2.7,-1.9M109.1,83.8l-2.4,7.4M109.1,83.8l0.4,0M111.6,89.8l-4.8,1.4M142.1,134.9l-1.7,3.7M142.1,134.9l3.9,1.6M142.2,140.2l3.9,-1.2M146,136.5l0.2,2.5M147.2,142.3l0.5,-1.5M146.1,139l1.6,1.8M168.2,151.4l-1.8,1.8M167.5,144l-5.4,0.8M162.3,149.6l-0.8,-4M162,144.8l-0.6,0.8M128.5,133l1.5,-2M125.9,129.6l2.6,-1.8M129.9,131l-1.4,-3.1M135.1,138.5l0.1,-2M130.3,134.3l2.6,-0.6M132.9,133.6l2.4,2.9M108.4,132l-0.9,-1.1M107.5,130.8l0.3,-2.3M115.7,130.4l-2.9,-4.1M112.7,126.2l-2,-0.4M115.7,130.4l-7.3,1.6M107.7,128.5l3,-2.7M116.1,130.6l-0.4,-0.3M116.2,132.2l-2.3,2.4M108.4,132l0.4,2.2M113.9,134.6l-5.1,-0.4M127.5,157.4l-4.8,-2.3M122.7,155.1l-0.1,-1.8M126.9,152.2l-2.7,-0.2M122.5,153.2l1.6,-1.3M124.4,146l-1,1M124.2,152l-0.8,-4.9M120.1,141.4l-1.5,1.1M118.6,142.5l-0.3,1.6M118.3,144.1l2,3.5M123.4,147l-3.1,0.6M108.3,144.6l-0.9,1.5M109.5,150.6l-2.2,-4.5M109.5,150.6l3,-2.5M108.3,144.6l4.2,2M112.5,146.6l0,1.5M112.5,148.1l2.4,1.6M114.9,149.7l-1.4,2.5M109.5,150.6l-0.1,1.1M113.5,152.2l-4,-0.6M103.4,152.9l-0.7,-1M103.4,152.9l5,0.1M107.4,146.1l-1,0.3M109.5,151.7l-1.1,1.4M108.8,134.2l-0.5,1.8M108.3,136l-2.6,0.7M105.2,131.4l2.3,-0.6M105.2,131.4l-2.2,3.6M103,135l2.7,1.7M59.6,111.9l5.6,2.2M67.4,105.7l1.5,4.8M65.2,114.2l3.7,-3.7M65.5,124l0.2,-0.6M65.2,114.2l0.5,9.3M67.8,126.3l5.4,-0.9M78.3,127.3l-5.1,-1.8M95.1,101.1l1.3,4M95.1,101.1l-3.1,1.4M96.5,105.1l-4.5,1.6M92,102.5l-0.1,4.1M105.2,131.4l-4,-1.5M103,135l-4.3,0.5M98.7,135.4l-0.3,-1.9M98.4,133.5l2.8,-3.7M103.4,152.9l-0.6,3.2M96.4,154.6l-0.5,2.5M102.8,156.1l-6.9,1M115.1,160.2l-1.3,3.3M115.1,160.2l-4.8,-2.9M107.9,160.3l2,-3M107.9,160.3l4.2,3.5M112.1,163.8l1.7,-0.3M110.3,157.3l-0.4,0M115.2,154.7l-4.9,2.6M116.4,155.1l-1.2,-0.4M116.4,159.4l-1.2,0.8M116.6,155.5l-0.2,3.9M116.6,155.5l-0.2,-0.4M104,161.2l-1.3,-5.1M104.6,161.3l-0.5,-0.1M104.6,161.3l3.3,-1M108.4,153.1l1.6,4.2M115.2,154.7l-1.7,-2.4M106.6,166.3l-1.6,2.3M105,168.6l0,2.9M105,171.5l0.1,0.3M105.2,171.8l4.3,-1.4M106.6,166.3l2.8,0.8M109.5,167.1l0,3.3M104.6,161.3l2.1,5M112.1,163.8l-1.4,2.6M109.5,167.1l1.2,-0.7M110.9,175.2l-0.8,-4.3M109.5,170.4l0.7,0.5M127.3,178.6l-2,-0.4M124.5,183.4l-2.1,-3.2M125.3,178.1l-2.8,2.1M116.6,179.1l-1.2,1.6M115.4,180.7l2.6,2.3M118,182.9l1.3,0.2M119.3,183.1l2.7,-2.9M116.6,179.1l3.7,-0.7M120.3,178.3l1.7,1.8M120.9,186l-1.6,-2.9M122,180.2l0.4,0M114,180.8l1.4,-0.2M116.6,179.1l-0.5,-4.5M112.3,175.4l2.5,-1.3M116.1,174.6l-1.3,-0.5M120.3,178.3l0,-4.5M116.1,174.6l4.2,-0.8M110.1,170.9l4.3,-0.8M114.8,174.1l-0.4,-4M110.7,166.4l3.8,3.5M114.5,169.9l-0.1,0.2M149.1,188.3l-3.4,-1M147.8,192l-2.8,-0.7M145,191.3l0.7,-4M146,183.1l-1.2,2.5M146,182.4l0,0.7M139.4,183.3l1.7,3.2M140.4,181.6l5.6,0.8M141.2,186.5l3.6,-0.8M146,183.1l5.4,2.9M145.7,187.3l-0.9,-1.7M132.3,190.7l2.2,0.1M135.8,186l1.2,2.8M134.5,190.8l2.5,-2M107.1,226.4l6.5,0.4M107.5,235.2l7,-4.3M113.6,226.8l0.8,4.2M128.8,205.2l-0.1,3.6M124.6,207l1.5,3M126.1,210l2.6,-1.2M134,202.7l0.6,2.5M134.6,205.2l-3.7,4.6M131.9,202.3l2,0.4M128.7,208.8l2.1,1M111.3,213.7l2.9,0.4M114.5,208.2l1.2,4.1M114.2,214.1l1.5,-1.9M118.2,222.4l-0.2,-5.6M118.2,222.4l-1.7,1.6M116.5,224l-1.1,0.2M115.4,224.3l-2.4,-3.9M112.9,220.4l2.7,-3.9M115.7,216.5l2.4,0.3M125.1,220.5l-6.9,1.9M125.1,220.5l15.3,20.9M140.4,241.4l-24,-17.4M113.6,226.8l1.7,-2.5M111.6,219.8l1.3,0.5M114.2,214.1l1.5,2.4M116.1,186l0.5,1.9M116.1,186l-2.3,-1.4M116.6,187.9l-3.4,0.5M113.2,188.4l-0.7,-2.1M113.9,184.6l-1.4,1.6M118,182.9l-1.9,3.1M118.8,188.6l-1.1,0.2M117.7,188.7l-1,-0.8M113.4,181.9l0.5,2.7M109.6,185.6l-0.6,-1.4M109.6,185.6l2.9,0.7M116,194.8l-3.4,1.9M116,194.8l-0.2,-1.6M115.9,193.1l-3.8,-3.2M112.1,196.6l-3.5,-5.4M112.1,196.6l0.6,0M112,189.9l-3.2,0.7M108.6,191.2l0.1,-0.5M108.8,190.7l-0.1,0.1M115,202.3l-2.4,-5.6M118.7,195.8l-2.6,-1M117.7,188.7l-1.8,4.4M113.2,188.4l-1.2,1.5M104.4,194.1l4.2,-2.9M109.9,198.2l2.2,-1.5M109.6,185.6l-0.8,5.1M104.5,187.3l4.3,3.4M165.6,167.5l4.9,4.5M165.6,167.5l1,-4.2M170.5,171.9l3.5,-8.9M166.6,163.2l7.5,-0.2M162.2,168l3.3,-0.5M171,175.7l-0.5,-3.7M160.5,162.7l0.8,-0.9M160.5,164.7l0.1,-2M164.8,161.3l1.8,2M167.1,155l6.9,5.1M174,163.1l0.6,-0.5M174,160.2l0.5,2.4M178.2,149.1l0.6,1.4M174,160.2l4.7,-9.7M192,151.3l-9.5,2.3M178.7,150.5l3.7,3M146.8,164.9l-1,-3.6M146.8,164.9l-2.8,2.8M145.8,161.3l-3.7,2.3M142.1,163.7l0.8,3.5M144,167.7l-1,-0.5M149.1,165.5l1.3,-2.3M148,160.1l2.3,3M146.2,160.5l-0.5,0.9M149.1,165.5l-2.3,-0.6M140.3,162.7l1.8,1M149.3,167.4l0.9,4.3M149.3,167.4l-4.2,1.7M145.1,169.1l0.3,1.6M145.4,170.7l3.9,1.5M150.3,171.7l-0.9,0.5M149.5,167l3.9,0.3M152.7,171.7l-2.4,0M149.5,167l-0.2,0.4M144,167.7l1.1,1.4M149.1,165.5l0.5,1.5M139.6,168.7l3.3,-1.6M139.8,173.4l-0.2,-4.7M144.3,172.2l1.1,-1.5M144.3,172.2l-4.5,1.2M139.2,174.4l0.6,-0.9M139.2,174.4l-0.4,1.9M140.1,177.3l3,0.3M144.3,172.2l1.2,3.7M143.1,177.7l2.4,-1.7M154.4,165.7l-2.3,-2.4M154.4,165.7l2.3,-3.3M152.1,163.2l2.2,-4.5M156.8,162.3l-2.4,-3.7M150.4,163.2l1.7,0M154.5,166.2l-0.1,-0.6M160.5,162.7l-3.8,-0.4M154.2,157.2l0.2,1.4M154.8,155.6l0.7,-0.3M139.2,91.4l-2.6,0.7M139.2,91.4l0.9,5M136.5,92.1l-0.2,5.2M140,96.4l-3.3,1.2M136.7,97.6l-0.4,-0.3M140.2,90.4l1.6,0.7M140.2,90.4l-1.1,1M144.1,97l0,-0.4M144.1,97l-1,0.3M143.1,97.3l-3.1,-0.9M144.2,96.6l-2.4,-5.5M132.3,95.4l0.2,-4.8M132.3,95.4l2.5,1.9M132.6,90.6l4,1.5M134.9,97.3l1.4,0M143.1,97.3l-2.8,4.7M140.3,102l-2.6,-0.1M137.7,102l-1,-4.4M140.2,90.4l-0.2,-2.3M131.5,89.2l1.1,1.4M132.7,87.5l4.5,-0.8M140.1,88.1l-2.9,-1.4M146.4,85.5l2.6,4.2M146.4,85.5l-1.7,5M144.7,90.5l1.9,1.6M149,89.7l-0.4,2.2M146.7,92.2l1.9,-0.3M146.3,84.5l0.1,1M152.4,88.5l-3.4,1.2M149.6,84.9l2.7,3.6M149.6,84.9l-1.6,-0.7M140.1,88.1l3.4,-4.3M146.3,84.5l-2.8,-0.6M141.8,91.1l2.9,-0.6M144.2,96.6l2.5,-4.4M80,70l0.5,1.4M84.5,71l-2.7,0.7M81.8,71.7l-1.3,-0.3M72.9,72.2l3.6,1M76.5,73.2l3.8,-1.7M80.4,71.5l0.1,-0.1M94.8,78.3l0.9,2.7M95.7,81l-2,2.6M93.6,83.6l-4.4,1.4M91.6,75.9l-1.2,1.6M89.2,85l-0.2,-0.7M90.4,77.5l-1.4,6.8M76.5,73.2l0.2,3.3M68.3,74.9l3.3,3.9M76.8,76.5l-5.1,2.3M70.8,86.7l2.2,-3.9M71.7,78.8l1.4,3.9M91.9,106.7l0,0M89,105.6l-2,-3M89,105.6l2.9,1.2M92,102.5l-3.3,-2.9M88.7,99.6l-1.7,2.9M88.3,87.4l0.9,-2.3M88.3,87.4l0,0.2M93.6,83.6l2.3,3.6M95.9,87.2l-0.1,1.4M95.8,88.6l-4.1,1.3M88.4,87.6l3.3,2.4M96.3,94l-2.5,0.6M96.3,94l2.2,1.6M98.5,95.6l0,0.6M98.5,96.2l-2.9,3.6M93.8,94.5l-0.7,2.9M93.1,97.4l2.5,2.4M95.5,99.8l0.1,0M92.3,92.9l1.5,1.7M91.6,89.9l0.6,2.9M97.8,90.2l-2,-1.6M97.8,90.2l-1.5,3.7M88.7,99.1l-0.7,-0.8M87.4,95.3l0.6,3M88.7,99.1l4.4,-1.7M92.3,92.9l-4.9,2.5M88.7,99.6l0,-0.5M95.1,101.1l0.4,-1.3M95.6,99.8l4.1,1M98,105.7l-1.6,-0.6M98,105.7l2.2,-2.5M100.2,103.1l-0.5,-2.3M98.5,96.2l2.3,2.9M99.7,100.8l1.2,-1.7M103.6,80.2l0.9,1.4M103.6,80.2l-2.7,-0.7M104.5,81.6l-3.3,3.6M100.9,79.6l-2.9,2.3M98,81.9l1.7,2.5M99.6,84.4l1.6,0.8M99.9,75.6l1,4M104.4,76.9l-0.8,3.4M101.5,74.3l2.9,2.6M106.2,82l-1.7,-0.4M108.2,83.5l-1.9,-1.6M108.2,83.5l-5.7,5.1M102.5,88.6l-1.3,-3.4M95.7,81l2.3,0.9M95.9,87.2l3.7,-2.8M97.8,90.2l4.7,-0.5M102.5,89.7l0,-1.1M106.2,82l1.6,-4.1M104.4,76.9l2,-0.4M106.4,76.5l1.5,1.3M112,80.8l-2.5,-3M113.8,77.1l-2.8,-2.4M109.5,77.8l1.5,-3.1M108.2,83.5l0.9,0.3M109.5,77.8l-1.7,0.1M100.9,99.1l2.7,-0.8M98.5,95.6l5.7,-3.1M103.6,98.3l0.6,-5.9M113.7,93.8l0.6,-2.1M113.7,93.8l-3.9,2.1M106.7,91.2l-1.1,0.8M105.6,92l4.2,3.9M102.5,89.7l1.9,2.4M105.6,92l-1.2,0M104.2,92.4l0.2,-0.4M172.6,122.1l-6.5,-3.4M163.2,128.7l-0.8,-0.5M162.4,128.2l1.7,-7.2M166.1,118.6l-2,2.3M147.7,140.7l3.1,-0.9M150.8,139.9l2.9,2M150.2,145.1l2.1,-0.5M153.8,141.8l-1.4,2.8M148.4,151.9l5.1,-4.3M152.3,144.7l1.2,2.9M161.4,145.6l-3.4,0M156.4,149.7l-0.4,-1.2M158.1,145.5l-2.1,3M153.5,147.6l2.4,0.9M153.8,141.8l0.9,-0.2M158.1,145.5l-2.6,-3.7M154.6,141.6l0.8,0.2M132.8,125.8l-0.3,4.8M132.8,125.8l6.3,3.9M139.2,129.7l0.7,0.8M132.5,130.5l0.7,0.6M133.2,131.2l5.9,-0.2M139.8,130.5l-0.7,0.5M129.9,131l2.6,-0.5M132.9,133.6l0.3,-2.5M135.3,136.5l3.8,-5.6M140.7,130.6l-0.9,-0.1M142.1,134.9l-1.4,-4.3M137.2,117.9l2.9,-1.3M137.1,119.5l0.1,-1.6M140.5,121.8l-1.1,0.1M140.5,121.8l3.5,-1.9M137.1,119.5l2.3,2.4M140.1,116.6l3.9,3.3M141.8,129.2l-1.3,-7.4M141.8,129.2l5.1,-6.8M146.8,122.4l-2.7,-2.5M144,119.9l0.2,0M151.8,112.4l-2.8,2.3M149,114.7l1.6,1.9M152.4,112.4l2.7,1.6M155.1,114l-1.8,2.7M152.4,112.4l-0.6,0M153.2,116.6l-2.7,-0.1M124.5,127.6l0.6,-2.1M119.8,125.8l0.1,-1.1M125.1,125.5l-4.1,-1.3M119.9,124.8l1.2,-0.7M134.6,115.1l2.6,2.8M133.6,115.1l-1.6,4.8M133.6,115.1l1,0M137.1,119.5l-4.3,1.4M132,119.9l0.9,1.1M137.8,123.5l1.7,-1.6M137.8,123.5l-4.4,0.5M132.8,121l0.6,3M113.7,93.8l3,3.9M119.8,92.4l-1.8,5.4M116.7,97.8l1.2,0.1M124.6,96.6l-1.7,2M123,98.6l-3.1,0.8M121,92.3l3.7,4.3M118,97.9l1.9,1.5M108.9,101.7l4.3,-0.3M108.9,101.7l-0.2,-3.5M109.8,96.6l-1.2,1.6M109.8,96.6l3.7,3.5M113.5,100.1l-0.3,1.3M103.6,98.3l0.9,0.9M104.5,99.3l4.2,-1M109.8,95.9l0,0.7M116.7,97.8l-3.2,2.3M100.2,103.1l4.7,0.8M98,105.7l0.3,0.9M98.4,106.5l3.3,1.4M101.7,108l2.7,-1.7M104.4,106.2l0.5,-2.3M108.9,101.7l-1.7,1.8M104.5,99.3l0.9,4.3M107.2,103.5l-1.8,0M104.9,103.9l0.4,-0.4M119.4,136.6l-3.9,1.9M113.9,134.6l-0.3,2.4M115.5,138.5l-1.9,-1.5M118.6,142.5l-3.4,-1.3M115.5,138.5l-0.4,2.7M119.9,148.1l-0.6,3.8M119.9,148.1l-3.7,-0.2M116.2,147.9l-1,1.6M115.2,149.6l3.7,2.5M118.9,152.1l0.4,-0.2M122.5,153.2l-3.2,-1.3M120.4,147.6l-0.4,0.5M115.6,145.9l0.6,2M118.3,144.1l-2.7,1.8M112.5,146.6l1.7,-1.2M114.2,145.4l1.4,0.5M114.9,149.7l0.3,-0.1M116.4,155.1l2.5,-3M122.7,155.1l-1.2,1.9M116.6,155.5l4.9,1.5M101.4,139.2l-2.4,-2.7M101.4,139.2l0.2,3.8M99,136.5l-1.8,5.3M97.2,141.8l3.8,2.1M101.5,143l-0.6,0.9M104.6,138.9l1.1,-2.2M98.7,135.4l0,0M98.7,135.5l0.3,1M104.6,138.9l-3.2,0.3M106,141.7l-1.4,-2.8M106,141.7l-4.5,1.3M94.5,137l4.2,-1.5M95,142.5l2.3,-0.7M101,144.9l0,-1M96.3,118.8l-1.9,1M96.3,118.8l-1.9,-4M94.3,119.8l-3.5,-2.5M94.4,114.7l-3.7,2M90.7,116.7l0.2,0.6M96.6,123.7l2.6,-2.2M96.6,123.7l0.1,3.1M99.2,121.5l2.9,4.6M96.7,126.8l4.4,0.6M102.1,126.1l-1,1.3M107.7,128.5l-3.9,-2.9M103.9,125.6l-1.8,0.5M101.2,129.9l-0.1,-2.5M93.5,122.6l0.8,-2.8M93.5,122.6l3.1,1.1M99.2,121.5l0.1,-0.3M96.3,118.8l2.6,0.7M98.9,119.4l0.4,1.7M98.4,106.5l-1.2,3.9M91.9,109.4l0.1,-2.7M91.9,109.4l2.5,1.9M97.2,110.4l-2.8,0.9M91.6,132.1l5.1,-0.2M91.6,132.1l-0.3,-1.5M91.3,130.6l2,-3M96.7,131.9l-1,-4.2M93.3,127.6l2.4,0.2M98.4,133.5l-1.8,-1.6M90.5,134.4l1.1,-2.3M88.8,129.2l2.5,1.4M96.7,126.8l-1,1M80.4,136.7l3.5,-8.3M83.8,128.4l2.1,-1.3M88.8,129.2l-0.5,-1.5M86,127.1l2.4,0.5M104,161.2l-1.4,0.7M105,168.6l-3.4,-1.6M102.6,161.9l-1,5.1M105,171.5l-5.8,-2.5M101.7,167l-2.4,2.1M96.4,170.8l1,-1.2M97.5,169.6l1.8,-0.5M121.6,158.5l3.9,1.4M121.6,158.5l-0.5,0.6M121.1,159.1l0.7,4.9M125.5,159.9l-3.7,4.1M128.8,159.4l-3.3,0.5M121.5,157l0.1,1.5M116.4,159.4l1.3,0.5M117.7,159.9l3.4,-0.8M121.4,165.2l0,0M129.3,162.7l-7.9,2.4M121.4,165.2l0.3,-1.1M123.8,173.6l-1.1,-0.7M123.8,173.6l4.8,-0.4M122.7,172.8l3.7,-4.7M129.1,171.4l-0.1,1.4M129.1,171.4l-1.7,-3.4M127.4,168l-1,0.1M128.6,173.1l0.4,-0.4M120.3,173.8l1.1,-1.1M121.4,172.7l1.3,0.2M125.3,178.1l-1.5,-4.5M128.5,178.2l0,-5.1M129.7,163.8l-0.3,1.7M129.3,165.5l-1.9,2.5M121.4,165.2l5,3M133,174.8l-0.3,-0.5M132.7,174.2l-3.8,-1.4M120.2,170l-5,-0.7M120.2,170l1,-4.8M119.9,164.8l1.4,0.5M119.9,164.8l-4.1,0.4M115.8,165.1l-0.6,4.2M121.4,172.7l-1.2,-2.7M114.5,169.9l0.7,-0.6M121.4,165.2l-0.2,0.1M117.7,159.9l2.2,4.9M113.8,163.5l2,1.7M135.4,171.2l-1.3,0.1M135.4,171.2l2.2,-3.5M134,171.3l-1.4,-1.8M136.3,166l1.3,1.8M136.3,166l-3.5,3M132.7,169l0,0.5M139.2,174.4l-3.8,-3.2M132.7,174.2l1.3,-2.9M139.6,168.7l-2.1,-1M129.1,171.4l3.6,-1.9M136.2,165.3l0.1,0.7M129.3,165.5l3.4,3.5M145,191.3l-1.3,0.7M141.2,186.5l-0.5,0.9M140.7,187.4l3,4.6M137,188.8l1.1,0M140.7,187.4l-2.5,1.4M136.5,197.1l0.2,-2.2M136.5,197.1l1,2.8M136.7,194.9l3.1,-2.4M137.9,199.9l-0.5,0M137.9,199.9l5.3,-2M143.5,197.6l-0.3,0.3M143.5,197.6l-0.6,-4.4M142.9,193.2l-3,-0.6M130.3,194.7l6.2,2.4M134.5,190.8l2.2,4.2M134,202.7l3.5,-2.8M138.1,188.8l1.7,3.8M139.1,207.2l-4.5,-1.9M134.6,205.2l0,0.1M141.3,204.5l-3.4,-4.6M141.3,204.5l-2.2,2.7M146.2,206.4l-3.1,-8.5M141.3,204.5l5,1.9M146.5,197.5l-3,0.1M143.6,192l-0.8,1.3M130.6,214.7l0,-0.6M130.6,214.7l36,28.7M130.6,214.1l1,-2.6M131.6,211.6l4.5,-0.3M136.1,211.2l6.9,5.3M125.1,220.5l-0.2,-2.2M124.9,218.3l5.7,-3.6M126.1,210l-0.5,1.1M125.6,211.1l5,3M130.8,209.8l0.7,1.8M134.6,205.3l1.5,5.9M139.1,207.2l3.9,9.3M124.9,218.3l-0.6,-0.9M125.6,211.1l-0.2,0.2M125.3,211.3l-1.1,6.1M183.6,157.9l-6.8,5.4M183.6,157.9l121.8,92.7M174.6,162.6l2.3,0.7M182.5,153.6l1.2,4.3M146,182.3l0,-0.1M146,182.3l5.6,-1.7M146,182.2l2.3,-5.8M151.6,180.7l-0.6,-3M151,177.7l-2.6,-1.3M148.4,176.4l-0.1,0.1M146,182.4l0,-0.1M143.1,177.7l2.9,4.6M153.2,182l-1.6,-1.4M145.5,176l2.7,0.5M155.2,174.6l-4.2,3.1M149.3,172.2l-0.9,4.2M119.9,99.4l0,0M121.5,104.5l-1.6,-5.1M123,98.6l3.2,5.1M121.5,104.5l4.1,0.6M126.2,103.7l-0.6,1.4M119.2,109.1l-1.7,-1.5M121.5,104.5l-4,3.1M119.2,109.1l6.9,-1.4M125.6,105.1l0.6,2.6M133.6,115.1l-3.8,-4M128.2,111.4l0.2,-0.2M128.2,111.4l-1.3,8.1M126.9,119.6l5,0.4M129.8,111.1l-1.3,0.1M142.9,107.8l-4.7,0.7M142.9,107.8l2.1,1M145,110.3l0,-1.5M145,110.3l-1.6,2.3M143.3,112.6l-3.7,1.3M137.7,108.8l0.5,-0.3M137.7,108.8l0.4,4.2M138.1,113l1.5,0.9M140.3,102l1.3,1.2M141.6,103.2l1.3,4.5M137.7,102l0,0M137.7,102l0.5,6.5M144.4,119.3l-1,-6.7M148.7,114.7l-4.3,4.7M148.7,114.7l-3.7,-4.4M144.4,119.3l-0.2,0.6M140.1,116.6l-0.5,-2.7M133,108.2l-3.2,2.9M133,108.2l4.8,0.6M134.6,115.1l3.6,-2.1M142.6,81.1l-2.4,-3.1M142.6,81.1l0.5,2.2M143,83.3l-5.5,-0.6M140.1,78l-3,0.9M137.1,79l-0.4,3.1M136.7,82l0.8,0.7M141.6,73.3l-1.4,4.7M147.7,74.4l-5.2,6.7M143.5,83.9l-0.4,-0.6M137.2,86.7l0.3,-4M135.5,77.8l1.6,1.2M132.9,83.2l3.8,-1.1M90.4,77.5l-5.1,2.1M89,84.3l-4.1,-3.6M85.3,79.6l-0.4,1.1M88.3,74.4l-4.1,2.1M85.3,79.6l-1.1,-3.1M81.8,71.7l2,4.6M84.2,76.5l-0.4,-0.2M80.4,71.5l-0.7,6.8M83.8,76.3l-4.1,2.1M76.8,76.5l2.9,1.9M79.7,78.4l0,0.1M88.4,87.6l-1.5,2M87.4,95.3l-0.1,-0.1M86.9,89.6l0.4,5.6M106.2,72.6l1,1.8M106.2,72.6l1.7,-2.7M107.1,74.3l3.8,-0.1M107.9,69.9l3.7,2.9M111.6,72.8l-0.6,1.5M102.5,72.7l3.6,-0.1M106.4,76.5l0.8,-2.2M107.6,67.9l0.3,2M111,74.7l-0.1,-0.4M113.5,71.7l-1.9,1.1M155.1,114l0.9,-0.1M157.2,117.8l-2.9,2.2M153.2,116.6l1.1,3.4M157.2,117.8l0,-2.2M157.3,115.6l-1.3,-1.7M154.2,107.6l-1.9,4.8M154.2,107.6l0.9,-0.4M155.2,107.2l1.4,5.7M156,113.9l0.6,-0.9M155.3,107.1l-0.1,0.1M155.3,107.1l2.2,-0.5M157.5,106.6l3.2,4.3M156.6,113l4.1,-2M158.8,138.1l-0.7,2.3M158.8,138.1l3.1,-0.7M158.1,140.5l3.4,1.3M161.4,141.8l2.3,-3.5M163.8,138.3l-1.9,-0.9M155.5,141.8l2.6,-1.3M157.1,135.5l-1.8,0.6M157.1,135.5l1.8,2.6M155.3,136.2l-0.6,5.5M159.3,131.7l-2.2,3.8M159.3,131.7l2.6,5.7M162,144.8l-0.6,-3M167.6,137.4l-3.8,0.9M159.3,131.7l0.5,-2.7M162.4,128.2l-2.7,0.9M174.9,121.2l2,-3.6M176.9,117.6l13.4,1.1M157.3,115.6l8.7,0M160.7,110.9l3.1,0.8M163.8,111.7l2.1,4M166.1,118.6l-0.1,-2.8M164.1,120.9l-3.4,-0.6M157.2,117.8l3.5,2.5M166.1,115.8l-0.1,-0.1M119.9,99.4l-4.3,6.2M117.5,107.6l-0.6,-0.1M116.9,107.5l-1.4,-1.9M113.2,101.4l1.1,3.4M115.5,105.6l-1.3,-0.8M107.2,103.5l3,2.7M114.2,104.8l-4,1.4M154.2,107.6l-1.5,-0.1M151.8,112.4l-2.3,-3.3M152.8,107.4l-3.3,1.7M112.7,126.2l3.3,-3.4M119.9,124.8l-3,-2.2M116,122.8l0.8,-0.2M126.2,124.9l0.8,-1.8M126.2,124.9l2.4,2.8M127,123.1l5.8,2.3M128.6,127.7l4.2,-2M132.8,125.7l0,-0.3M125.1,125.5l1.1,-0.6M121,124.1l2.4,-4.6M123.4,119.5l3.3,0.2M126.7,119.8l0.3,3.3M128.6,127.9l0.1,-0.2M133.4,124l-0.6,1.4M126.9,119.6l-0.2,0.2M132.8,125.8l0,-0.1M137.8,123.5l1.4,6.2M101.7,108l0.3,3.3M102,111.2l3.5,0.3M104.4,106.2l2,3.2M105.5,111.6l0.9,-2.1M110.2,106.2l-0.7,2.4M106.5,109.4l3,-0.8M113.7,143.1l1,-1.6M113.7,143.1l-5.3,-0.1M114.7,141.4l-4.4,-2.5M108.4,143l-0.1,-0.3M108.3,142.7l1.7,-3.8M110,138.9l0.3,0M114.2,145.4l-0.5,-2.3M115.2,141.2l-0.4,0.2M108.3,144.6l0.1,-1.6M113.6,137l-3.3,1.9M106,141.7l2.3,1M108.3,136l1.8,3M91.9,109.4l-3,1.8M89,105.6l-3.9,3.1M88.9,111.3l-3.7,-2.6M84.4,108.2l-0.8,-4.6M87,102.6l-3.3,1.1M84.4,108.2l0.3,0.4M85.2,108.7l-0.4,-0.1M65.7,123.5l6.5,-4.2M68.8,110.5l0.5,0.1M72.2,119.2l0.7,-1.1M69.3,110.6l4,4.1M72.9,118.1l0.3,-3.4M76.1,122.8l3.9,1.1M76.1,122.8l-0.2,-1.7M75.9,121.1l3.8,-3.3M80,123.9l1.4,-1M80.1,117.7l-0.4,0.2M80.1,117.7l1.6,4.8M81.4,122.9l0.3,-0.5M78.3,127.3l1.7,-3.4M73.2,125.4l2.9,-2.6M72.2,119.2l3.7,1.9M72.9,118.1l6.8,-0.2M83.8,128.4l-2.5,-5.5M80.8,115.3l-0.7,2.4M80.8,115.3l-1.8,-1.7M79,113.6l-5.7,1M110.8,125.8l-1,-2.4M103.9,125.6l1.4,-2.9M105.2,122.7l4.6,0.6M99.3,121.2l5.4,-0.1M105.2,122.7l-0.5,-1.6M100.1,117.2l1.8,-0.8M100.1,117.2l-1.9,-2.3M101.9,116.4l-0.5,-4.7M98.2,114.9l0.8,-3.2M101.4,111.7l-2.3,0M104.7,121.1l0.2,-0.6M103.7,116.7l1.2,3.8M98.9,119.4l1.2,-2.2M103.7,116.7l-1.8,-0.3M94.4,114.7l3.8,0.2M94.4,114.7l0,0M102,111.2l-0.6,0.5M105.5,111.6l1.4,3M103.7,116.7l3.2,-2.1M94.4,114.7l0,-3.4M97.2,110.4l1.9,1.3M81.7,122.5l1.3,0M86,127.1l-0.1,-2.8M83,122.5l2.9,1.9M92.1,126.1l-2.7,0.1M92.1,126.1l0.6,-3.3M89.4,126.2l-1,-2.7M92.8,122.9l-2.5,-1.1M88.4,123.5l0.6,-1.3M90.3,121.7l-1.2,0.5M93.3,127.6l-1.1,-1.5M88.3,127.6l1.1,-1.4M93.5,122.6l-0.7,0.3M85.9,124.4l2.6,-0.8M90.9,117.3l-0.6,4.4M83,122.5l3.5,-2.2M86.5,120.3l2.5,1.9M97.3,164l5.3,-2.1M97.3,164l-6,-3.7M102.6,161.9l-6.9,-4.4M91.3,160.3l4.3,-2.8M102.6,161.9l-0.1,0M97.5,169.6l-0.2,-5.6M72.3,162.7l19,-2.4M95.9,157.1l-0.2,0.4M119.6,215.9l-2,-3.8M119.6,215.9l1.3,-0.1M120.9,215.9l0.3,-5.3M117.6,212.1l2.5,-2.6M120.1,209.5l1.1,1.1M118,216.8l1.6,-0.9M115.7,212.2l1.9,-0.1M124.3,217.4l-3.4,-1.6M125.3,211.3l-4.1,-0.7M119.8,208l0.3,1.5M134.9,97.3l-3,3.6M137.7,102l-1,0.3M136.8,102.3l-4.9,-1.4M133,108.2l0,-1.8M136.8,102.3l-3.8,4M83.8,81.1l-4.1,-1.8M83.8,81.1l-1.5,4.3M80.5,85.9l-3.1,-3.5M80.5,85.9l1.8,-0.5M77.4,82.5l2.3,-3.1M84.9,80.7l-1.1,0.4M79.7,78.4l0,0.9M88.3,87.4l-6.1,-2M79.9,87.7l-3.3,2M79.9,87.7l0.5,-1.8M71.5,88.4l5.2,1.4M73,82.7l4.3,-0.3M79.9,87.7l2.7,3.6M86.9,89.6l-4.3,1.7M67.6,104.4l3.8,-2M70,94.3l2.3,2M71.4,102.4l1,-5.5M72.3,96.3l0.1,0.7M159.8,129.1l-0.8,-0.2M159,128.8l-0.9,0.3M155.3,136.2l-4,-1.7M158.1,129.1l-6.9,5.3M146,136.5l3.7,-2.9M150.8,139.9l0.2,-5.4M149.6,133.5l1.4,0.9M151,134.5l0.2,0M155.7,122.2l-1.5,-1.7M155.7,122.2l0.6,3.6M156.3,125.7l-6.8,-0.6M154.2,120.5l-4.2,1.1M150,121.6l-1.6,1.3M148.4,122.9l1.1,2.3M160.7,120.3l-5,1.8M154.3,120.1l-0.1,0.4M159,128.8l-2.7,-3.1M150.6,116.5l-0.6,5M146.8,122.4l1.6,0.5M148.7,114.7l0.3,0M156.1,100.3l2.4,-2.6M156.1,100.3l3.2,4.1M158.5,97.7l6,1.5M159.3,104.4l5.3,-1.4M164.6,103l-0.2,-3.8M157.5,106.6l1.8,-2.2M153.6,103l1.7,-2.6M153.6,103l1.7,4.1M155.3,100.4l0.8,-0.1M165.5,104.2l-1.7,7.5M165.5,104.2l-0.9,-1.2M176.9,117.6l-0.8,-3.3M176,114.3l43.9,-33.4M175.4,114l-2.4,-5.4M175.4,114l-9.1,1.6M166.3,115.6l5.6,-7.2M173,108.6l-1.1,-0.2M219.9,80.9l-46.9,27.7M176,114.3l-0.6,-0.3M166.1,115.8l0.3,-0.2M165.5,104.2l3.2,0.5M168.7,104.8l3.2,3.6M168.7,104.8l147.2,-109.6M145.5,108.5l0.6,-0.1M145.5,108.5l1.1,-7.2M146,108.4l4.2,-3.7M146.6,101.2l0.9,-1.4M150.4,103l-2.4,-3M150.4,103l-0.3,1.7M147.5,99.9l0.6,0.1M145,108.8l0.5,-0.3M149.4,109.1l-3.4,-0.7M141.6,103.2l5,-2M152.8,107.4l-2.6,-2.7M144.1,97l2.3,1.5M146.4,98.5l1.1,1.4M148.9,99.6l-0.8,0.4M148.9,99.6l4.9,-0.4M153.6,103l-3.2,0M155.3,100.4l-1.5,-1.2M109.5,108.6l1.8,2.4M106.9,114.6l0.7,0.2M107.6,114.8l3.7,-3.8M116.9,107.5l-2.9,4M111.3,111l2.7,0.5M86.6,118.1l-4.1,-2.9M86.6,118.1l3.8,-1.5M82.5,115.2l6,-2.4M90.4,116.6l-1.9,-3.7M81.7,115.1l-0.8,0.2M81.7,115.1l0.9,0.1M86.5,120.3l0.1,-2.2M90.7,116.7l-0.3,-0.1M81.7,115.1l3.1,-6.5M88.9,111.3l-0.4,1.6M112.4,120.2l0.9,-2M112.4,120.2l-2,0.8M110.4,121l-1.6,-2M113.4,118.2l-2,-2.2M108.8,119l-0.1,-3M111.4,116l-2.6,0M116,122.8l-3.6,-2.6M116.8,122.6l0.9,-3.8M115.5,117.5l2.3,1.2M115.5,117.5l-2.1,0.7M109.8,123.4l0.6,-2.4M104.9,120.5l3.9,-1.5M114.4,112.8l-3,3.2M115.1,113.6l-0.8,-0.8M115.1,113.6l0.4,3.9M107.6,114.8l1.1,1.2M114.4,112.8l-0.3,-1.3M131.2,101.1l-0.7,0.9M131.2,101.1l-1.1,-4.5M130.5,102l-1.6,0.1M128.9,102.1l-2.6,-6M130.1,96.6l-3.5,-0.8M126.6,95.8l-0.3,0.3M133,106.3l-2.5,-4.4M131.8,100.9l-0.6,0.2M132.3,95.4l-2.2,1.2M126.2,107.7l2.3,3.5M126.2,103.7l2.6,-1.6M124.6,96.6l1.6,-0.5M127.7,91.1l-1,4.8M88.1,98.3l-5.3,0.3M83.7,103.6l-0.9,-0.5M82.7,103.2l0,-4.6M81.6,94.4l0,0M81.6,94.4l-0.5,2.3M81.6,94.4l-4,-1.7M81.1,96.7l-1.7,1M79.4,97.7l-4.3,-2.1M77.7,92.7l-2.6,2.9M87.3,95.2l-5.7,-0.9M82.6,91.3l-1,3M82.8,98.6l-1.7,-1.9M76.7,89.8l1,2.9M72.3,96.3l2.8,-0.7M149.5,133.2l0.4,-4.2M149.5,133.2l-8.4,-2.9M141.1,130.3l0.5,-0.7M141.6,129.6l7.9,-1.4M149.5,128.2l0.4,0.9M158.1,129.1l-8.2,-0.1M149.6,133.5l-0.1,-0.3M140.7,130.6l0.4,-0.2M141.8,129.2l-0.1,0.4M149.5,125.1l0,3.1M153.5,96l1.3,-1.4M153.5,96l-1.9,0M154.7,94.6l-1,-2.7M151.5,96l-1.8,-2.3M153.8,91.8l-4.1,1.1M149.7,93.7l0,-0.8M158.5,97.7l-0.9,-2.3M153.8,99.2l-0.3,-3.2M157.6,95.5l-2.9,-0.9M148.9,99.6l2.6,-3.6M146.4,98.5l3.3,-4.8M148.5,91.9l1.1,1M159.8,92.3l-5.4,-2.2M159.8,92.3l11.9,-6.1M157.7,84.2l-3.4,4.9M154.3,89.1l0.1,0.9M157.6,95.5l2.2,-3.2M153.8,91.8l0.6,-1.8M164.4,99.2l7.3,-13.1M149.6,84.9l8,-0.7M152.4,88.5l1.9,0.6M122,118.3l-3.1,-0.1M122,118.3l0.6,-5.2M118.9,118.2l-0.4,-4.1M118.5,114.1l2.2,-1.8M122.7,113.2l-2,-0.9M123.4,119.5l-1.3,-1.2M117.8,118.8l1.1,-0.6M128.2,111.4l-5.5,1.8M115.1,113.6l3.4,0.5M119.2,109.1l1.5,3.2M84.4,108.2l-4.8,0.1M82.7,103.2l-2.7,0.4M80,103.5l-0.4,4.8M69.3,110.6l5.8,-2.2M71.4,102.4l4,1.6M75.4,103.9l-0.3,4.5M79,113.6l-1,-3.6M75.1,108.4l2.9,1.6M79.7,108.4l-1.7,1.7M76.1,99.7l2.7,-0.9M76.1,99.7l-0.4,4.1M78.8,98.8l0.8,4.5M75.7,103.7l3.9,-0.4M72.4,96.9l3.7,2.7M79.4,97.7l-0.6,1.1M75.4,103.9l0.3,-0.2M80,103.5l-0.4,-0.2" stroke="#1c1c1c" stroke-width="0.95" fill="none"/></g><path d="M78.4,2.8 2.6,83.3 5.6,93 10.7,100.9 16.7,105 18.8,111.1 25.8,119.1 33.8,123.2 44,125.4 53,128.2 56.1,133.1 57.2,141.3 60.1,148.2 65.2,155.4 69.1,159.2 70.2,165.3 76.4,167.5 79.3,173.5 78.2,177.4 82.4,181.5 85.2,189.5 86.3,199.7 83.4,206.5 73.3,207.6 74.3,213.7 79.3,218.6 78.2,224.7 82.4,228.8 80.3,234.8 82.4,247.8 81.3,261.8 80.5,272 205.6,138.3z" stroke="#1c1c1c" stroke-width="1" fill="none" stroke-linejoin="round"/></g><linearGradient id="cbar" x1="0" y1="0" x2="0" y2="1"><stop offset="0" stop-color="#5f1612"/><stop offset="0.2" stop-color="#9a2c1f"/><stop offset="0.4" stop-color="#c9513a"/><stop offset="0.6" stop-color="#e58a6c"/><stop offset="0.8" stop-color="#f6c8b5"/><stop offset="1" stop-color="#fdf1ec"/></linearGradient><radialGradient id="gO"><stop offset="0" stop-color="#ee8a66" stop-opacity="1"/><stop offset="0.35" stop-color="#ee8a66" stop-opacity="0.8"/><stop offset="0.7" stop-color="#ee8a66" stop-opacity="0.3"/><stop offset="1" stop-color="#ee8a66" stop-opacity="0"/></radialGradient><radialGradient id="gR"><stop offset="0" stop-color="#c6432f" stop-opacity="1"/><stop offset="0.35" stop-color="#c6432f" stop-opacity="0.8"/><stop offset="0.7" stop-color="#c6432f" stop-opacity="0.3"/><stop offset="1" stop-color="#c6432f" stop-opacity="0"/></radialGradient><radialGradient id="gD"><stop offset="0" stop-color="#7d1c14" stop-opacity="1"/><stop offset="0.35" stop-color="#7d1c14" stop-opacity="0.8"/><stop offset="0.7" stop-color="#7d1c14" stop-opacity="0.3"/><stop offset="1" stop-color="#7d1c14" stop-opacity="0"/></radialGradient><radialGradient id="gL"><stop offset="0" stop-color="#f7c3ae" stop-opacity="1"/><stop offset="0.35" stop-color="#f7c3ae" stop-opacity="0.8"/><stop offset="0.7" stop-color="#f7c3ae" stop-opacity="0.3"/><stop offset="1" stop-color="#f7c3ae" stop-opacity="0"/></radialGradient><marker id="dot" markerWidth="12" markerHeight="12" refX="6" refY="6" markerUnits="userSpaceOnUse"><circle cx="6" cy="6" r="4.7" fill="#0a0a0a" stroke="#d9dfe3" stroke-width="1.25"/></marker><filter id="hb" x="-30%" y="-30%" width="160%" height="160%"><feGaussianBlur stdDeviation="7.5"/></filter></defs><g transform="translate(2611.9,1813.8) scale(0.9971,1.0007)"><clipPath id="mc0"><rect width="206.4" height="275.0"/></clipPath><rect width="206.4" height="275.0" fill="#fdf3ee"/><g clip-path="url(#mc0)"><g filter="url(#hb)"><ellipse cx="138.3" cy="143.0" rx="76.4" ry="90.8" fill="#f9d9cc" transform="rotate(-35 138.3 143.0)"/><ellipse cx="123.8" cy="220.0" rx="49.5" ry="53.7" fill="#f9d9cc" transform="rotate(0 123.8 220.0)"/><ellipse cx="92.9" cy="110.0" rx="41.3" ry="41.3" fill="#f9d9cc" transform="rotate(0 92.9 110.0)"/><ellipse cx="142.4" cy="137.5" rx="68.1" ry="61.9" fill="#f2ad92" transform="rotate(-35 142.4 137.5)"/><ellipse cx="123.8" cy="217.2" rx="35.1" ry="39.2" fill="#f2ad92" transform="rotate(0 123.8 217.2)"/><ellipse cx="146.5" cy="134.8" rx="53.7" ry="43.3" fill="#e27d61" transform="rotate(-35 146.5 134.8)"/><ellipse cx="123.8" cy="214.5" rx="18.6" ry="20.6" fill="#e27d61" transform="rotate(0 123.8 214.5)"/><ellipse cx="149.6" cy="130.6" rx="39.2" ry="28.9" fill="#c64e38" transform="rotate(-35 149.6 130.6)"/><ellipse cx="151.7" cy="129.2" rx="24.8" ry="17.5" fill="#9c2a1c" transform="rotate(-35 151.7 129.2)"/><ellipse cx="152.7" cy="127.9" rx="11.4" ry="8.3" fill="#6f1710" transform="rotate(-35 152.7 127.9)"/></g></g><use href="#dcmesh"/><polyline points="92.3,27.9 88.8,88 97.4,90.9 97.4,108.5 133.9,116.7 137.7,120.9 169.4,123.4 169.4,137.7 195.3,139 198.2,134.3 124.7,145.1 134.9,173.4 126.2,177.6 171.3,171.5 124.7,198.6 121,203.4 130.4,203 127.2,218.3 127.2,212 119.1,228.4" fill="none" stroke="none" marker-start="url(#dot)" marker-mid="url(#dot)" marker-end="url(#dot)"/></g><rect x="2831.8" y="1813.5" width="14" height="275.2" fill="url(#cbar)" stroke="#111" stroke-width="1.1"/><text x="2855.8" y="1838.3">1.0</text><text x="2855.8" y="1875.2">0.9</text><text x="2855.8" y="1912.6">0.8</text><text x="2855.8" y="1949.7">0.7</text><text x="2855.8" y="1986.9">0.6</text><text x="2855.8" y="2024.0">0.5</text><text x="2855.8" y="2061.2">0.4</text><path d="M2845.8,1832.5h4.5M2845.8,1869.4h4.5M2845.8,1906.8h4.5M2845.8,1943.9h4.5M2845.8,1981.1h4.5M2845.8,2018.2h4.5M2845.8,2055.4h4.5" stroke="#222" stroke-width="1.1"/><g transform="translate(2916.3,1813.8) scale(0.9990,1.0007)"><clipPath id="mc1"><rect width="206.4" height="275.0"/></clipPath><rect width="206.4" height="275.0" fill="#fdf3ee"/><g clip-path="url(#mc1)"><g filter="url(#hb)"><ellipse cx="134.2" cy="145.8" rx="78.4" ry="94.9" fill="#f9d9cc" transform="rotate(-35 134.2 145.8)"/><ellipse cx="134.2" cy="236.5" rx="45.4" ry="49.5" fill="#f9d9cc" transform="rotate(0 134.2 236.5)"/><ellipse cx="123.8" cy="132.0" rx="61.9" ry="45.4" fill="#f2ad92" transform="rotate(-30 123.8 132.0)"/><ellipse cx="185.8" cy="137.5" rx="28.9" ry="24.8" fill="#f2ad92" transform="rotate(0 185.8 137.5)"/><ellipse cx="132.1" cy="225.5" rx="41.3" ry="61.9" fill="#f2ad92" transform="rotate(-20 132.1 225.5)"/><ellipse cx="119.7" cy="137.5" rx="28.9" ry="20.6" fill="#e27d61" transform="rotate(-30 119.7 137.5)"/><ellipse cx="132.1" cy="225.5" rx="28.9" ry="49.5" fill="#e27d61" transform="rotate(-20 132.1 225.5)"/><ellipse cx="131.1" cy="220.0" rx="18.6" ry="35.1" fill="#c64e38" transform="rotate(-18 131.1 220.0)"/><ellipse cx="129.0" cy="214.5" rx="10.3" ry="20.6" fill="#9c2a1c" transform="rotate(-15 129.0 214.5)"/></g></g><use href="#dcmesh"/><polyline points="92.7,28.3 88.9,88.8 97.8,91.3 97.8,109.2 78.7,121.4 92.5,131.6 134.9,116.3 131.6,119.4 137.9,121.9 169.6,124.5 169.6,138.5 195.4,139.8 198,135.2 124.7,146.2 134.9,174.2 126.4,178.6 138.5,178.1 171.1,172.4 124.7,199.7 121.3,204.3 130.8,203.6 127.7,218.9 127.2,212.5 120.1,229.8 123.4,226.5" fill="none" stroke="none" marker-start="url(#dot)" marker-mid="url(#dot)" marker-end="url(#dot)"/></g><rect x="3136.9" y="1813.0" width="14" height="275.9" fill="url(#cbar)" stroke="#111" stroke-width="1.1"/><text x="3160.9" y="1853.3">0.58</text><text x="3160.9" y="1920.9">0.56</text><text x="3160.9" y="1989.0">0.54</text><text x="3160.9" y="2056.6">0.52</text><path d="M3150.9,1847.5h4.5M3150.9,1915.1h4.5M3150.9,1983.2h4.5M3150.9,2050.8h4.5" stroke="#222" stroke-width="1.1"/><g transform="translate(3232.9,1809.7) scale(1.0145,1.0153)"><clipPath id="mc2"><rect width="206.4" height="275.0"/></clipPath><rect width="206.4" height="275.0" fill="#fdf3ee"/><g clip-path="url(#mc2)"><g filter="url(#hb)"><ellipse cx="130.0" cy="137.5" rx="82.6" ry="90.8" fill="#f9d9cc" transform="rotate(-35 130.0 137.5)"/><ellipse cx="132.1" cy="231.0" rx="41.3" ry="41.3" fill="#f9d9cc" transform="rotate(0 132.1 231.0)"/><ellipse cx="103.2" cy="104.5" rx="49.5" ry="57.8" fill="#f2ad92" transform="rotate(-25 103.2 104.5)"/><ellipse cx="140.4" cy="151.2" rx="74.3" ry="49.5" fill="#f2ad92" transform="rotate(-35 140.4 151.2)"/><ellipse cx="128.0" cy="220.0" rx="35.1" ry="41.3" fill="#f2ad92" transform="rotate(-10 128.0 220.0)"/><ellipse cx="97.0" cy="110.0" rx="33.0" ry="41.3" fill="#e27d61" transform="rotate(-10 97.0 110.0)"/><ellipse cx="132.1" cy="151.2" rx="53.7" ry="33.0" fill="#e27d61" transform="rotate(-35 132.1 151.2)"/><ellipse cx="123.8" cy="214.5" rx="16.5" ry="20.6" fill="#e27d61" transform="rotate(0 123.8 214.5)"/><ellipse cx="94.9" cy="110.0" rx="18.6" ry="24.8" fill="#c64e38" transform="rotate(0 94.9 110.0)"/><ellipse cx="123.8" cy="156.8" rx="26.8" ry="16.5" fill="#c64e38" transform="rotate(-30 123.8 156.8)"/><ellipse cx="94.9" cy="112.8" rx="8.3" ry="10.3" fill="#9c2a1c" transform="rotate(0 94.9 112.8)"/></g></g><use href="#dcmesh"/><polyline points="92.7,28.3 88.9,88.8 97.8,91.3 97.8,109.2 78.7,121.4 92.5,131.6 134.9,116.3 131.6,119.4 137.9,121.9 169.6,124.5 169.6,138.5 195.4,139.8 198,135.2 124.7,146.2 134.9,174.2 126.4,178.6 138.5,178.1 171.1,172.4 124.7,199.7 121.3,204.3 130.8,203.6 127.7,218.9 127.2,212.5 120.1,229.8 123.4,226.5 93.6,127.2 86.2,123.6 91,106.4 106.6,112.2 92.6,120 101,109.6 97.1,96.6 90.2,104 83.3,89.3 81.1,106.7 91.6,105.6 93.4,91.6 92.3,113.3 98.3,98.4 123.8,98.8 122.8,96.3 113.3,141.6 105.2,137.5 131.4,122.2 132.7,133.8 138.8,123.3 121.9,118.2 117.8,125.9 119.9,141.2 170.3,135.4 177.9,127.1 183.4,140 194.6,138.3 184.5,138.8 191,135 185.1,147.3 181.8,146.9 181.9,158 187.5,142.6 183.9,142.7 184.3,137.1 157.5,174.1 99,191.3 134.7,196.1 134.1,191.1 139.7,201.8 131.6,188.9 126.1,214.9 144.2,186.8 116.6,223.3 118.7,208.4 115.8,214.4 114.9,227.4 122.9,219.5 116.8,227.4 122.4,217.1 119,211.2 121.4,210.7 121.1,202.6 116.7,194.7 119.3,214.7 91.8,28.9 101.1,35.8 91.8,55 137.3,88 155.8,90.8 156.9,101.8" fill="none" stroke="none" marker-start="url(#dot)" marker-mid="url(#dot)" marker-end="url(#dot)"/></g><rect x="3456.1" y="1809.2" width="14" height="280.0" fill="url(#cbar)" stroke="#111" stroke-width="1.1"/><text x="3480.1" y="1840.9">8</text><text x="3480.1" y="1906.0">7</text><text x="3480.1" y="1971.2">6</text><text x="3480.1" y="2036.5">5</text><path d="M3470.1,1835.1h4.5M3470.1,1900.2h4.5M3470.1,1965.4h4.5M3470.1,2030.7h4.5" stroke="#222" stroke-width="1.1"/><g transform="translate(3526.4,1813.4) scale(0.9966,1.0018)"><clipPath id="mc3"><rect width="206.4" height="275.0"/></clipPath><rect width="206.4" height="275.0" fill="#fdf3ee"/><g clip-path="url(#mc3)"><g filter="url(#hb)"><ellipse cx="130.0" cy="137.5" rx="78.4" ry="90.8" fill="#f9d9cc" transform="rotate(-35 130.0 137.5)"/><ellipse cx="134.2" cy="236.5" rx="41.3" ry="45.4" fill="#f9d9cc" transform="rotate(0 134.2 236.5)"/><ellipse cx="97.0" cy="96.2" rx="37.2" ry="57.8" fill="#f2ad92" transform="rotate(-10 97.0 96.2)"/><ellipse cx="144.5" cy="143.0" rx="70.2" ry="51.6" fill="#f2ad92" transform="rotate(-35 144.5 143.0)"/><ellipse cx="132.1" cy="225.5" rx="35.1" ry="53.7" fill="#f2ad92" transform="rotate(-20 132.1 225.5)"/><ellipse cx="144.5" cy="140.2" rx="53.7" ry="37.2" fill="#e27d61" transform="rotate(-33 144.5 140.2)"/><ellipse cx="130.0" cy="225.5" rx="24.8" ry="43.3" fill="#e27d61" transform="rotate(-18 130.0 225.5)"/><ellipse cx="94.9" cy="101.8" rx="16.5" ry="26.8" fill="#e27d61" transform="rotate(0 94.9 101.8)"/><ellipse cx="144.5" cy="137.5" rx="37.2" ry="24.8" fill="#c64e38" transform="rotate(-30 144.5 137.5)"/><ellipse cx="129.0" cy="225.5" rx="16.5" ry="31.0" fill="#c64e38" transform="rotate(-15 129.0 225.5)"/><ellipse cx="130.0" cy="231.0" rx="7.2" ry="14.4" fill="#9c2a1c" transform="rotate(-15 130.0 231.0)"/><ellipse cx="144.5" cy="136.1" rx="20.6" ry="13.4" fill="#9c2a1c" transform="rotate(-30 144.5 136.1)"/><ellipse cx="144.5" cy="134.8" rx="9.3" ry="6.2" fill="#6f1710" transform="rotate(-30 144.5 134.8)"/></g></g><use href="#dcmesh"/><polyline points="92.7,28.3 88.9,88.8 97.8,91.3 97.8,109.2 78.7,121.4 92.5,131.6 134.9,116.3 131.6,119.4 137.9,121.9 169.6,124.5 169.6,138.5 195.4,139.8 198,135.2 124.7,146.2 134.9,174.2 126.4,178.6 138.5,178.1 171.1,172.4 124.7,199.7 121.3,204.3 130.8,203.6 127.7,218.9 127.2,212.5 120.1,229.8 123.4,226.5 93.6,127.2 86.2,123.6 91,106.4 106.6,112.2 92.6,120 101,109.6 97.1,96.6 90.2,104 83.3,89.3 81.1,106.7 91.6,105.6 93.4,91.6 92.3,113.3 98.3,98.4 123.8,98.8 122.8,96.3 113.3,141.6 105.2,137.5 131.4,122.2 132.7,133.8 138.8,123.3 121.9,118.2 117.8,125.9 119.9,141.2 170.3,135.4 177.9,127.1 183.4,140 194.6,138.3 184.5,138.8 191,135 185.1,147.3 181.8,146.9 181.9,158 187.5,142.6 183.9,142.7 184.3,137.1 157.5,174.1 99,191.3 134.7,196.1 134.1,191.1 139.7,201.8 131.6,188.9 126.1,214.9 144.2,186.8 116.6,223.3 118.7,208.4 115.8,214.4 114.9,227.4 122.9,219.5 116.8,227.4 122.4,217.1 119,211.2 121.4,210.7 121.1,202.6 116.7,194.7 119.3,214.7 91.8,28.9 101.1,35.8 91.8,55 137.3,88 155.8,90.8 156.9,101.8 91.2,117.7 87,115.8 98.5,116.8 103.7,95.4 91.4,98.4 84.3,107 92.6,116.9 95,146.9 97.9,83.7 92.5,99.7 89,77.8 93.4,105.2 81.1,94.8 85.7,109.6 124.7,130.4 152.8,116 120,125.1 143.6,117.6 147.8,107.7 117.2,128.4 119.3,119 135.6,141.2 131.4,124.7 146.7,135.9 127.1,149.3 118.9,132 191.9,145.6 180.4,149.6 180.7,139.2 176.3,160.1 180.7,158.5 189.3,142.9 187,130.6 193.4,146.8 166.9,159.8 173.3,131.8 184.1,152.7 181,147.8 168.3,164.8 185.1,147.1 143.5,188.9 138.7,176.8 134.8,191.8 149.1,185.7 137.4,190.7 143.3,189.3 133.1,181.4 150.1,190.2 124.9,206 128,205.9 132.2,212.2 132.4,208.3 126.9,198 120.7,220.2 137.1,201.6 127,201.2 127.3,204.5 117.6,202.7 122.8,216.4 126.9,215.7 92.9,57.8 138.3,79.8 156.9,93.5" fill="none" stroke="none" marker-start="url(#dot)" marker-mid="url(#dot)" marker-end="url(#dot)"/></g><rect x="3746.4" y="1812.9" width="14" height="276.3" fill="url(#cbar)" stroke="#111" stroke-width="1.1"/><text x="3770.4" y="1819.3">22</text><text x="3770.4" y="1854.9">20</text><text x="3770.4" y="1890.8">18</text><text x="3770.4" y="1926.5">16</text><text x="3770.4" y="1962.7">14</text><text x="3770.4" y="1998.6">12</text><text x="3770.4" y="2034.5">10</text><text x="3770.4" y="2070.4">8</text><path d="M3760.4,1813.5h4.5M3760.4,1849.1h4.5M3760.4,1885.0h4.5M3760.4,1920.7h4.5M3760.4,1956.9h4.5M3760.4,1992.8h4.5M3760.4,2028.7h4.5M3760.4,2064.6h4.5" stroke="#222" stroke-width="1.1"/><g transform="translate(3826.9,1810.0) scale(1.0116,1.0145)"><clipPath id="mc4"><rect width="206.4" height="275.0"/></clipPath><rect width="206.4" height="275.0" fill="#fdf3ee"/><g clip-path="url(#mc4)"><g filter="url(#hb)"><ellipse cx="134.2" cy="143.0" rx="74.3" ry="86.7" fill="#f9d9cc" transform="rotate(-35 134.2 143.0)"/><ellipse cx="136.2" cy="236.5" rx="41.3" ry="45.4" fill="#f9d9cc" transform="rotate(0 136.2 236.5)"/><ellipse cx="115.6" cy="99.0" rx="31.0" ry="45.4" fill="#f2ad92" transform="rotate(-10 115.6 99.0)"/><ellipse cx="154.8" cy="151.2" rx="57.8" ry="37.2" fill="#f2ad92" transform="rotate(-35 154.8 151.2)"/><ellipse cx="134.2" cy="225.5" rx="33.0" ry="55.7" fill="#f2ad92" transform="rotate(-25 134.2 225.5)"/><ellipse cx="134.2" cy="231.0" rx="23.7" ry="43.3" fill="#e27d61" transform="rotate(-25 134.2 231.0)"/><ellipse cx="128.0" cy="181.5" rx="12.4" ry="16.5" fill="#e27d61" transform="rotate(0 128.0 181.5)"/><ellipse cx="135.2" cy="236.5" rx="15.5" ry="31.0" fill="#c64e38" transform="rotate(-25 135.2 236.5)"/><ellipse cx="137.3" cy="243.4" rx="8.3" ry="16.5" fill="#9c2a1c" transform="rotate(-25 137.3 243.4)"/></g></g><use href="#dcmesh"/><polyline points="36.1,68.8 44.4,73.7 55.7,68.8 92.7,28.3 88.9,88.8 97.8,91.3 97.8,109.2 78.7,121.4 92.5,131.6 134.9,116.3 131.6,119.4 137.9,121.9 169.6,124.5 169.6,138.5 195.4,139.8 198,135.2 124.7,146.2 134.9,174.2 126.4,178.6 138.5,178.1 171.1,172.4 124.7,199.7 121.3,204.3 130.8,203.6 127.7,218.9 127.2,212.5 120.1,229.8 123.4,226.5 93.6,127.2 86.2,123.6 91,106.4 106.6,112.2 92.6,120 101,109.6 97.1,96.6 90.2,104 83.3,89.3 81.1,106.7 91.6,105.6 93.4,91.6 92.3,113.3 98.3,98.4 123.8,98.8 122.8,96.3 113.3,141.6 105.2,137.5 131.4,122.2 132.7,133.8 138.8,123.3 121.9,118.2 117.8,125.9 119.9,141.2 170.3,135.4 177.9,127.1 183.4,140 194.6,138.3 184.5,138.8 191,135 185.1,147.3 181.8,146.9 181.9,158 187.5,142.6 183.9,142.7 184.3,137.1 157.5,174.1 99,191.3 134.7,196.1 134.1,191.1 139.7,201.8 131.6,188.9 126.1,214.9 144.2,186.8 116.6,223.3 118.7,208.4 115.8,214.4 114.9,227.4 122.9,219.5 116.8,227.4 122.4,217.1 119,211.2 121.4,210.7 121.1,202.6 116.7,194.7 119.3,214.7 91.8,28.9 101.1,35.8 91.8,55 137.3,88 155.8,90.8 156.9,101.8 91.2,117.7 87,115.8 98.5,116.8 103.7,95.4 91.4,98.4 84.3,107 92.6,116.9 95,146.9 97.9,83.7 92.5,99.7 89,77.8 93.4,105.2 81.1,94.8 85.7,109.6 124.7,130.4 152.8,116 120,125.1 143.6,117.6 147.8,107.7 117.2,128.4 119.3,119 135.6,141.2 131.4,124.7 146.7,135.9 127.1,149.3 118.9,132 191.9,145.6 180.4,149.6 180.7,139.2 176.3,160.1 180.7,158.5 189.3,142.9 187,130.6 193.4,146.8 166.9,159.8 173.3,131.8 184.1,152.7 181,147.8 168.3,164.8 185.1,147.1 143.5,188.9 138.7,176.8 134.8,191.8 149.1,185.7 137.4,190.7 143.3,189.3 133.1,181.4 150.1,190.2 124.9,206 128,205.9 132.2,212.2 132.4,208.3 126.9,198 120.7,220.2 137.1,201.6 127,201.2 127.3,204.5 117.6,202.7 122.8,216.4 126.9,215.7 92.9,57.8 138.3,79.8 156.9,93.5 84.5,84.7 107.4,59.5 97.3,60.4 112.7,114.5 115.9,98.9 104,103.7 89.9,113.2 83.5,102.2 107.7,111.3 94,158.2 99.8,97.1 101,98.5 94.3,102.3 124.2,110.5 101.2,124.8 124,105.1 81,101.9 107.3,160.2 87.3,56.6 107.3,98.5 94.3,120.1 101.8,116.4 93.7,138.4 117.7,110.7 93.5,126.1 105,87.1 93.4,133.1 97.9,102.8 101.7,109.3 99,67.5 164.6,125.9 115.8,145.2 137.8,121.4 151.6,177 142.4,160.2 122.4,140.2 100.4,114.4 156.1,146.8 175.8,134.6 146.3,133.2 100.2,85.5 109.5,168.5 116.7,115 127.4,135.1 141.4,127.6 108.7,43.3 135.2,127.6 155,118.4 120.7,131.2 103.2,95.2 113.4,128.1 170.9,139.9 153.3,126.9 137.3,109.9 126.9,60.9 109.8,89.1 147.6,137.4 153.3,159.5 126.4,147.1 168.4,120.8 152.3,116.9 102.1,124 116.8,123.7 123.5,128.9 157.4,112.3 115.2,121.1 144.6,131.5 111.1,154.3 136.6,83.3 116,85.2 113.1,150.2 128,149 135.6,83.4 119.9,178.5 177.7,132.6 167.3,151 174.7,128.1 177.2,160.3 184.3,122.6 174.1,165 173.2,144 196.6,140.3 179.8,127.3 185,138.2 188.3,129.7 180.3,134.6 173.1,130.8 175,130.8 191.8,147 171.8,152.2 183.7,143.1 178.5,147.3 191,148 183.1,152.9 186.7,148.9 175.9,148.4 175.2,135.1 183.8,148.1 182.3,142.1 176.7,142.6 108.5,164.6 146.6,168.5 148.3,163.3 134.9,187.1 125,171.5 129.9,173.4 140.8,181.1 134.4,176.5 119.4,160.5 129.4,191.8 142.1,192.8 154.3,179.2 131.1,175.5 157.2,179.6 119.7,224.6 119.5,222 129,187 127.1,205.1 118.6,205.5 119,199.5 125.7,209 126.4,203.3 118.6,214.1 118.3,220.7 125.6,195.2 108.2,227.4 133.8,203.8 116.2,226.7 122.9,194.7 107.8,221.4 129.2,208.5 122.9,200.7 129.8,212.4 115.6,220.1 118.5,217.5 127.1,211.5 129.1,193.7 125.1,212.3 129.1,207.5 113.5,185 124.9,208.6 121.7,222.3 124.1,213.8 113.8,204.9 94.5,37.2 89.6,45.2 89,33.7 96.6,37.2 98.9,47.1 96.3,53.9 83.8,40.4 87.5,36.1 147.3,108.1 148.1,113.7 142,90 149.8,103.9 148,82.1 164.4,101.2 154,94.6 141,85.1 138.8,112.7 155.3,93.4 149.6,97.5 140.4,81.7 149.7,103.1 139.9,82.4" fill="none" stroke="none" marker-start="url(#dot)" marker-mid="url(#dot)" marker-end="url(#dot)"/></g><rect x="4049.4" y="1809.4" width="14" height="280.2" fill="url(#cbar)" stroke="#111" stroke-width="1.1"/><text x="4073.4" y="1856.1">30</text><text x="4073.4" y="1917.8">25</text><text x="4073.4" y="1979.1">20</text><text x="4073.4" y="2040.2">15</text><path d="M4063.4,1850.3h4.5M4063.4,1912.0h4.5M4063.4,1973.3h4.5M4063.4,2034.4h4.5" stroke="#222" stroke-width="1.1"/></svg>
<div class="t " style="left:1547.6px;top:2120.5px;font-size:34.70px;line-height:41.64px;font-family:'Liberation Serif', serif;width:2400.0px;text-align:center;">(a) Initial step.</div>
<div class="t " style="left:1857.0px;top:2120.5px;font-size:34.70px;line-height:41.64px;font-family:'Liberation Serif', serif;width:2400.0px;text-align:center;">(b) Step 3.</div>
<div class="t " style="left:2162.0px;top:2120.5px;font-size:34.70px;line-height:41.64px;font-family:'Liberation Serif', serif;width:2400.0px;text-align:center;">(c) Step 7.</div>
<div class="t " style="left:2458.4px;top:2120.5px;font-size:34.70px;line-height:41.64px;font-family:'Liberation Serif', serif;width:2400.0px;text-align:center;">(d) Step 10.</div>
<div class="t " style="left:2761.0px;top:2120.5px;font-size:34.70px;line-height:41.64px;font-family:'Liberation Serif', serif;width:2400.0px;text-align:center;">(e) Final step.</div>
<div class="t " style="left:2177.5px;top:2179.8px;font-size:40.00px;line-height:48.00px;font-family:'Liberation Serif', serif;width:2400.0px;text-align:center;">Figure 3: BO evaluation on 2022 DC crime incidents (firearm-related) data.</div>
<svg style="left:0;top:0" width="4320" height="2880" viewBox="0 0 4320 2880"><path d="M349.9,129.0 359.1,125.3 369.6,123.7 385.4,123.7 396.0,126.3 406.5,132.1 417.1,140.3 424.5,147.4 427.6,149.5 428.1,155.3 448.7,165.4 475.6,175.1 471.1,185.1 467.7,193.0 472.4,199.6 470.3,204.9 475.6,211.5 474.0,216.8 472.4,220.7 477.2,228.1 481.9,234.4 481.4,241.3 476.4,247.6 469.8,253.7 459.3,258.1 451.3,261.6 443.4,266.8 438.2,272.9 435.0,280.0 437.1,268.2 438.2,257.6 439.0,247.1 439.5,236.5 435.5,236.5 435.5,227.8 425.8,227.8 425.8,218.6 435.5,218.6 435.5,204.9 431.6,204.9 431.6,186.4 423.7,186.4 423.7,179.9 418.4,179.9 418.4,173.3 411.8,173.3 411.8,157.4 403.9,157.4 403.9,153.5 396.0,153.5 396.0,141.1 385.4,141.1 377.5,136.4 367.0,136.4 367.0,132.4 356.4,131.1z" fill="#404459"/><rect x="399.9" y="139.8" width="5.3" height="5.3" fill="#fff"/><rect x="419.2" y="158.8" width="7.6" height="7.4" fill="#fff"/><rect x="438.4" y="205.4" width="4.5" height="4.2" fill="#fff"/><rect x="447.9" y="239.7" width="8.2" height="7.9" fill="#fff"/><rect x="319.0" y="134.3" width="6.3" height="6.3" fill="#cde01f"/><rect x="339.3" y="130.6" width="3.2" height="3.2" fill="#cde01f"/><rect x="327.4" y="143.0" width="8.7" height="8.7" fill="#cbe11e"/><rect x="343.8" y="139.0" width="11.9" height="11.9" fill="#c3e01f"/><rect x="362.2" y="145.1" width="7.9" height="7.9" fill="#b9dc22"/><rect x="375.7" y="144.8" width="11.9" height="11.9" fill="#9fd427"/><rect x="319.5" y="158.8" width="4.7" height="4.7" fill="#d0e21e"/><rect x="306.4" y="166.7" width="8.7" height="8.7" fill="#d0e21e"/><rect x="331.4" y="158.8" width="15.8" height="15.8" fill="#c9e21d"/><rect x="355.7" y="160.1" width="19.0" height="19.0" fill="#9ed328"/><rect x="384.1" y="164.6" width="16.6" height="16.6" fill="#5cc12e"/><rect x="406.0" y="174.6" width="5.8" height="5.8" fill="#55bd33"/><rect x="316.9" y="183.3" width="6.6" height="6.6" fill="#c4df1f"/><rect x="334.0" y="180.1" width="5.3" height="5.3" fill="#bfde20"/><rect x="330.1" y="192.2" width="13.2" height="13.2" fill="#a6d626"/><rect x="360.9" y="188.6" width="16.3" height="16.3" fill="#6ac52c"/><rect x="387.3" y="190.4" width="15.8" height="15.8" fill="#52bd35"/><rect x="418.9" y="190.4" width="6.6" height="6.6" fill="#52c18a"/><rect x="301.9" y="194.4" width="10.5" height="10.5" fill="#cfe21e"/><rect x="292.7" y="208.9" width="5.3" height="5.3" fill="#cfe21e"/><rect x="318.8" y="211.0" width="5.3" height="5.3" fill="#a9d725"/><rect x="344.6" y="210.7" width="10.5" height="10.5" fill="#5cc12e"/><rect x="368.8" y="211.5" width="13.2" height="13.2" fill="#55bf45"/><rect x="393.9" y="215.4" width="13.2" height="13.2" fill="#4fbf95"/><rect x="411.8" y="203.6" width="6.6" height="6.6" fill="#50c090"/><rect x="344.1" y="233.1" width="7.4" height="7.4" fill="#5cc12e"/><rect x="323.5" y="247.1" width="14.5" height="14.5" fill="#5cc12e"/><rect x="369.1" y="233.1" width="14.5" height="14.5" fill="#4ebf7f"/><rect x="355.1" y="253.7" width="7.9" height="7.9" fill="#4ebf7f"/><rect x="394.7" y="237.3" width="5.8" height="5.8" fill="#4fc0b5"/><rect x="411.8" y="232.6" width="13.2" height="13.2" fill="#4fc3ea"/><rect x="399.9" y="251.6" width="7.1" height="7.1" fill="#4fc3ea"/><rect x="419.7" y="253.1" width="6.1" height="6.1" fill="#4fc3ea"/><path d="M321.9,161.1L310.6,171.2" stroke="#d0e21e" stroke-width="2.6"/><path d="M336.7,198.8L359.1,175.9" stroke="#a6d626" stroke-width="2.6"/><path d="M369.1,196.7L390.7,177.2" stroke="#6ac52c" stroke-width="2.6"/><path d="M307.2,199.6L295.3,211.5" stroke="#cfe21e" stroke-width="2.6"/><path d="M349.9,216.0L367.0,199.6" stroke="#5cc12e" stroke-width="2.6"/><path d="M375.4,218.1L393.4,200.9" stroke="#55bf45" stroke-width="2.6"/><path d="M400.5,222.0L415.0,207.0" stroke="#4fbf95" stroke-width="2.6"/><path d="M347.7,236.8L330.6,254.2" stroke="#5cc12e" stroke-width="2.6"/><path d="M376.2,240.2L359.1,257.6" stroke="#4ebf7f" stroke-width="2.6"/><path d="M418.4,239.2L403.4,255.0" stroke="#4fc3ea" stroke-width="2.6"/><rect x="534.4" y="153.0" width="29.0" height="86.2" fill="#333f4b"/><path d="M687.3,153.0 716.8,153.0 716.8,217.6 762.4,217.6 762.4,239.2 687.3,239.2z" fill="#333f4b"/><path d="M672.7,178.5 C665.2,160.4 648.9,151.6 629.9,151.6 C599.9,151.6 581.2,169.3 581.2,196.5 C581.2,223.7 599.9,241.0 629.9,241.0 C653.0,241.0 668.0,229.8 673.7,211.0 L648.6,204.4 C645.5,215.5 639.4,221.2 629.9,221.2 C617.6,221.2 610.4,212.1 610.4,196.5 C610.4,180.8 617.6,171.3 629.9,171.3 C638.7,171.3 644.6,175.6 647.3,183.3 Z" fill="#333f4b"/><path d="M776.1,153.2 L828.5,153.2 C850.3,153.2 861.2,161.8 861.2,176.7 C861.2,190.3 853.7,199.2 838.7,201.9 C848.2,204.6 853.7,212.1 859.8,223.7 L868.6,239.3 L836.4,239.3 L825.8,220.5 C819.7,209.4 816.3,204.2 808.8,203.9 L805.4,203.9 L805.4,239.3 L776.1,239.3 Z M805.4,170.6 L805.4,187.9 L820.3,187.9 C828.5,187.9 832.9,185.2 832.9,179.2 C832.9,173.3 829.2,170.6 821.7,170.6 Z" fill="#333f4b" fill-rule="evenodd"/><rect x="533" y="249.9" width="339" height="2.4" rx="1.2" fill="#333f4b"/><rect x="3323.1" y="149.3" width="360.8" height="5" fill="#b3a16c"/><rect x="3323.1" y="361" width="360.8" height="5" fill="#b3a16c"/><g font-family="'Liberation Sans', sans-serif" fill="#0a3161" stroke="#0a3161" stroke-width="1.5" font-size="50.8"><text x="3325.5" y="214.8" textLength="358" lengthAdjust="spacing">THE GEORGE</text><text x="3325.5" y="275.3" textLength="358" lengthAdjust="spacing">WASHINGTON</text><text x="3327" y="335.3" textLength="355" lengthAdjust="spacing">UNIVERSITY</text></g><text x="3326.5" y="417.6" font-family="'Liberation Sans', sans-serif" fill="#0a3161" font-size="36.3" textLength="357" lengthAdjust="spacing">WASHINGTON, DC</text><g fill="none" stroke="#dd2636"><circle cx="4002.1" cy="281.2" r="134.9" stroke-width="2.4"/><circle cx="4002.1" cy="281.2" r="131.8" stroke-width="0.8"/><circle cx="4002.1" cy="281.2" r="96.8" stroke-width="0.8"/><circle cx="4002.1" cy="281.2" r="92.0" stroke-width="3.2"/></g><clipPath id="nclip"><circle cx="4002.1" cy="281.2" r="89.9"/></clipPath><g clip-path="url(#nclip)" fill="#dd2636"><path d="M3973.4,254.0L3868.3,259.5L3868.3,245.5L3973.4,251.0z"/><path d="M3973.6,249.0L3869.2,236.2L3871.6,222.4L3974.1,246.0z"/><path d="M3974.7,244.1L3874.0,213.3L3878.8,200.2L3975.7,241.3z"/><path d="M3976.5,239.5L3882.8,191.7L3889.8,179.5L3978.0,236.9z"/><path d="M3979.2,235.2L3895.1,171.9L3904.1,161.1L3981.1,232.9z"/><path d="M3982.5,231.5L3910.7,154.5L3921.5,145.5L3984.8,229.6z"/><path d="M3986.5,228.4L3929.1,140.2L3941.3,133.2L3989.1,226.9z"/><path d="M3990.9,226.1L3949.8,129.2L3962.9,124.4L3993.7,225.0z"/><path d="M3995.6,224.5L3972.0,122.0L3985.8,119.6L3998.6,224.0z"/><path d="M4000.6,223.8L3995.1,118.7L4009.1,118.7L4003.6,223.8z"/><path d="M4005.6,224.0L4018.4,119.6L4032.2,122.0L4008.6,224.5z"/><path d="M4010.5,225.0L4041.3,124.4L4054.4,129.2L4013.3,226.1z"/><path d="M4015.1,226.9L4062.9,133.2L4075.1,140.2L4017.7,228.4z"/><path d="M4019.4,229.6L4082.7,145.5L4093.5,154.5L4021.7,231.5z"/><path d="M4023.1,232.9L4100.1,161.1L4109.1,171.9L4025.0,235.2z"/><path d="M4026.2,236.9L4114.4,179.5L4121.4,191.7L4027.7,239.5z"/><path d="M4028.5,241.3L4125.4,200.2L4130.2,213.3L4029.5,244.1z"/><path d="M4030.1,246.0L4132.6,222.4L4135.0,236.2L4030.6,249.0z"/><path d="M4030.8,251.0L4135.9,245.5L4135.9,259.5L4030.8,254.0z"/></g><g fill="#fff" stroke="#dd2636" stroke-width="1.7"><ellipse cx="3927.5" cy="262.1" rx="11.9" ry="4.6" transform="rotate(-70 3927.5 262.1)"/><ellipse cx="4076.7" cy="262.1" rx="11.9" ry="4.6" transform="rotate(250 4076.7 262.1)"/><ellipse cx="3925.6" cy="281.2" rx="11.9" ry="4.6" transform="rotate(-80 3925.6 281.2)"/><ellipse cx="4078.6" cy="281.2" rx="11.9" ry="4.6" transform="rotate(260 4078.6 281.2)"/><ellipse cx="3928.4" cy="298.4" rx="11.9" ry="4.6" transform="rotate(-100 3928.4 298.4)"/><ellipse cx="4075.8" cy="298.4" rx="11.9" ry="4.6" transform="rotate(280 4075.8 298.4)"/><ellipse cx="3936.1" cy="313.7" rx="11.9" ry="4.6" transform="rotate(-120 3936.1 313.7)"/><ellipse cx="4068.1" cy="313.7" rx="11.9" ry="4.6" transform="rotate(300 4068.1 313.7)"/><ellipse cx="3939.9" cy="271.6" rx="11.9" ry="4.6" transform="rotate(-50 3939.9 271.6)"/><ellipse cx="4064.3" cy="271.6" rx="11.9" ry="4.6" transform="rotate(230 4064.3 271.6)"/><ellipse cx="3939.9" cy="290.8" rx="11.9" ry="4.6" transform="rotate(-60 3939.9 290.8)"/><ellipse cx="4064.3" cy="290.8" rx="11.9" ry="4.6" transform="rotate(240 4064.3 290.8)"/><ellipse cx="3941.8" cy="308.0" rx="11.9" ry="4.6" transform="rotate(-75 3941.8 308.0)"/><ellipse cx="4062.4" cy="308.0" rx="11.9" ry="4.6" transform="rotate(255 4062.4 308.0)"/><ellipse cx="3968.6" cy="335.7" rx="11.9" ry="4.6" transform="rotate(20 3968.6 335.7)"/><ellipse cx="4035.6" cy="335.7" rx="11.9" ry="4.6" transform="rotate(160 4035.6 335.7)"/><ellipse cx="3983.9" cy="342.4" rx="11.9" ry="4.6" transform="rotate(15 3983.9 342.4)"/><ellipse cx="4020.3" cy="342.4" rx="11.9" ry="4.6" transform="rotate(165 4020.3 342.4)"/><ellipse cx="3972.4" cy="348.2" rx="11.9" ry="4.6" transform="rotate(30 3972.4 348.2)"/><ellipse cx="4031.8" cy="348.2" rx="11.9" ry="4.6" transform="rotate(150 4031.8 348.2)"/><ellipse cx="3957.1" cy="329.0" rx="11.9" ry="4.6" transform="rotate(40 3957.1 329.0)"/><ellipse cx="4047.1" cy="329.0" rx="11.9" ry="4.6" transform="rotate(140 4047.1 329.0)"/><ellipse cx="3983.9" cy="353.9" rx="11.9" ry="4.6" transform="rotate(10 3983.9 353.9)"/><ellipse cx="4020.3" cy="353.9" rx="11.9" ry="4.6" transform="rotate(170 4020.3 353.9)"/></g><g fill="#fff" stroke="#dd2636" stroke-width="1.6"><path d="M3997.3,328.1L3998.8,356.8H4005.9L4007.5,328.1z"/><rect x="3992.5" y="356.2" width="20.1" height="5.7"/><path d="M3992.0,242.9H4013.2L4011.9,268.8H3993.3z"/><path d="M3996.9,246.8V266.8M4002.5,246.8V266.8M4008.0,246.8V266.8"/><path d="M3979.7,218.4H4024.5V222.3L4018.4,225.7L4014.9,242.9H3990.2L3986.8,225.7L3979.7,222.3z"/><path d="M3986.8,225.7H4018.4M3988.7,234.3H4016.5"/><path d="M3984.9,218.1C3982.0,206.6 3991.6,204.7 3992.5,196.0C3998.3,202.7 3995.4,208.5 3998.3,214.2C3997.3,202.7 4005.0,200.8 4003.1,192.2C4012.6,198.9 4007.8,208.5 4010.3,214.2C4011.7,206.6 4018.4,205.6 4016.5,198.9C4023.1,206.6 4021.2,212.3 4019.3,218.1z"/></g><g fill="#fff" stroke="#dd2636" stroke-width="1.8"><path d="M3949.5,264.0C3951.4,258.2 3964.8,258.2 3966.3,264.9L3964.8,325.2C3957.1,330.0 3943.7,327.1 3941.8,319.5C3943.7,311.8 3949.5,309.9 3950.4,308.0z"/><path d="M4054.7,264.0C4052.8,258.2 4039.4,258.2 4037.9,264.9L4039.4,325.2C4047.1,330.0 4060.5,327.1 4062.4,319.5C4060.5,311.8 4054.7,309.9 4053.8,308.0z"/><path d="M3965.9,270.7Q4002.1,264.0 4038.3,270.7L4039.8,328.1Q4002.1,322.3 3964.4,328.1z"/><circle cx="3952.3" cy="319.5" r="5.4"/><circle cx="4051.9" cy="319.5" r="5.4"/></g><g font-family="'Liberation Sans', sans-serif" font-weight="bold" fill="#dd2636" text-anchor="middle" font-size="11.6" letter-spacing="1.6"><text x="4002.6" y="284.6">LVX</text><text x="4002.6" y="301.5">VERITAS</text><text x="4002.6" y="316.4">VIRTVS</text></g><g font-family="'Liberation Sans', sans-serif" font-weight="bold" fill="#dd2636" text-anchor="middle" font-size="13.4"><text x="3890.2" y="291.2">18</text><text x="4114.0" y="291.2">98</text></g><path id="ntop" d="M3894.6,281.2A107.5,107.5 0 0 1 4109.6,281.2" fill="none"/><path id="nbot" d="M3876.8,281.2A125.3,125.3 0 0 0 4127.4,281.2" fill="none"/><g font-family="'Liberation Serif', serif" fill="#dd2636" stroke="#dd2636" stroke-width="0.4" font-size="30.5"><text><textPath href="#ntop" startOffset="50%" text-anchor="middle" textLength="232" lengthAdjust="spacingAndGlyphs">NORTHEASTERN</textPath></text><text><textPath href="#nbot" startOffset="50%" text-anchor="middle" textLength="212" lengthAdjust="spacingAndGlyphs">UNIVERSITY</textPath></text></g><circle cx="3997.3" cy="712.0" r="145.2" fill="#000"/><circle cx="3997.3" cy="712.0" r="143.9" fill="#ffff00"/><circle cx="3997.3" cy="712.0" r="140.5" fill="#000"/><circle cx="3997.3" cy="712.0" r="117.8" fill="#ffff00"/><circle cx="3997.3" cy="712.0" r="114.7" fill="#000"/><circle cx="3997.3" cy="712.0" r="113.2" fill="#c5cdf9"/><g fill="#ffff00" stroke="#000" stroke-width="1"><path d="M3939.4,695.2C3928.9,701.5 3922.6,709.9 3923.7,724.6C3914.2,726.7 3907.9,733.0 3908.9,738.3C3924.7,752.0 3935.2,781.4 3947.9,800.4C3977.3,823.5 4017.3,823.5 4046.7,800.4C4059.4,781.4 4069.9,752.0 4085.7,738.3C4086.7,733.0 4080.4,726.7 4070.9,724.6C4072.0,709.9 4065.7,701.5 4055.2,695.2L4048.8,701.5L4048.8,760.4C4032.0,785.6 3962.6,785.6 3945.8,760.4L3945.8,701.5z"/></g><path d="M3946.8,671.0H4047.8V760.4C4042.5,781.4 4019.4,791.9 3997.3,795.1C3975.2,791.9 3952.1,781.4 3946.8,760.4z" fill="#fff" stroke="#000" stroke-width="0.9"/><clipPath id="shc"><path d="M3949.3,673.7H4045.3V760.4C4040.4,779.3 4019.4,789.8 3997.3,792.4C3975.2,789.8 3954.2,779.3 3949.3,760.4z"/></clipPath><g clip-path="url(#shc)"><rect x="3947.9" y="672.0" width="98.9" height="122.0" fill="#3a6b12"/><path d="M3947.9,716.2C3960.5,716.2 3968.9,712.0 3966.8,703.6C3960.5,697.3 3966.8,691.0 3977.3,691.0C3989.9,691.0 3992.0,699.4 3985.7,705.7C3985.7,710.9 4008.9,710.9 4008.9,705.7C4002.6,699.4 4004.7,691.0 4017.3,691.0C4027.8,691.0 4034.1,697.3 4027.8,703.6C4025.7,712.0 4034.1,716.2 4046.7,716.2V742.5C4019.4,733.0 3975.2,733.0 3947.9,742.5z" fill="#fff"/></g><path d="M3962.6,780.4 3965.7,768.8 3953.1,752.0 3968.9,759.3 3958.4,727.8 3977.3,748.8 3965.7,685.7 3991.6,748.8 3997.3,675.2 4003.0,748.8 4028.9,685.7 4017.3,748.8 4036.2,727.8 4025.7,759.3 4041.5,752.0 4028.9,768.8 4032.0,780.4 4025.7,791.9 3997.3,799.3 3968.9,791.9z" fill="#ffff00" stroke="#000" stroke-width="0.9" stroke-linejoin="round"/><path d="M3908.9,738.3C3918.4,728.8 3928.9,728.8 3939.4,740.4C3947.9,770.9 3964.7,791.9 3997.3,796.2C4029.9,791.9 4046.7,770.9 4055.2,740.4C4065.7,728.8 4076.2,728.8 4085.7,738.3C4072.0,760.4 4061.5,785.6 4046.7,802.5C4019.4,825.6 3975.2,825.6 3947.9,802.5C3933.1,785.6 3922.6,760.4 3908.9,738.3z" fill="#ffff00" stroke="#000" stroke-width="1"/><path id="arib" d="M3920.5,746.7C3939.4,787.7 3964.7,816.1 3997.3,816.8C4029.9,816.1 4055.2,787.7 4074.1,746.7" fill="none"/><text font-family="'Liberation Sans', sans-serif" font-weight="bold" font-style="italic" font-size="16" fill="#000"><textPath href="#arib" startOffset="50%" text-anchor="middle" textLength="222" lengthAdjust="spacingAndGlyphs">ARMY RESEARCH OFFICE</textPath></text><path d="M3947.4,665.1 3973.1,648.9 3963.6,646.8 3989.9,638.4 4013.1,632.1 4037.3,620.5 4027.8,624.1 4049.9,615.2 4023.6,631.0 4033.1,629.9 4008.9,642.6 3985.7,648.9 3977.3,653.1z" fill="#ffff00" stroke="#000" stroke-width="0.9" stroke-linejoin="round"/><path d="M3986.8,661.5C3980.5,648.9 3978.4,634.2 3986.8,628.9C3994.1,622.6 4011.0,620.5 4015.2,629.9C4019.4,640.5 4015.2,653.1 4008.9,661.5z" fill="#f08c72" stroke="#000" stroke-width="0.9"/><path d="M3992.0,631.0L3996.2,644.7M3998.4,627.8L4002.6,642.6M4005.7,626.8L4008.9,640.5" stroke="#000" stroke-width="0.8" fill="none"/><path d="M3973.1,661.5L3979.4,661.1L3983.2,669.5L3976.9,669.9z" fill="#ffff00" stroke="#000" stroke-width="0.8"/><path d="M3982.6,661.5L3988.9,661.1L3992.7,669.5L3986.4,669.9z" fill="#3a6b12" stroke="#000" stroke-width="0.8"/><path d="M3992.0,661.5L3998.4,661.1L4002.1,669.5L3995.8,669.9z" fill="#ffff00" stroke="#000" stroke-width="0.8"/><path d="M4001.5,661.5L4007.8,661.1L4011.6,669.5L4005.3,669.9z" fill="#3a6b12" stroke="#000" stroke-width="0.8"/><path d="M4011.0,661.5L4017.3,661.1L4021.1,669.5L4014.8,669.9z" fill="#ffff00" stroke="#000" stroke-width="0.8"/><path d="M3871.1,729.3 3873.1,735.1 3879.2,735.2 3874.3,738.9 3876.1,744.8 3871.1,741.3 3866.0,744.8 3867.8,738.9 3862.9,735.2 3869.0,735.1z" fill="#ffff00"/><path d="M4123.5,729.3 4125.6,735.1 4131.7,735.2 4126.8,738.9 4128.6,744.8 4123.5,741.3 4118.5,744.8 4120.3,738.9 4115.4,735.2 4121.5,735.1z" fill="#ffff00"/><path id="atop" d="M3874.6,715.0A122.7,122.7 0 0 1 4120.0,715.0" fill="none"/><text font-family="'Liberation Sans', sans-serif" font-weight="bold" font-size="21" fill="#ffff00"><textPath href="#atop" startOffset="50%" text-anchor="middle" textLength="388" lengthAdjust="spacingAndGlyphs">SCIENCE TO SHAPE THE FUTURE OF THE ARMY</textPath></text><text x="3997.3" y="846.2" font-family="'Liberation Sans', sans-serif" font-weight="bold" font-size="17.6" fill="#ffff00" text-anchor="middle">1951</text></svg>
</div></body></html>
